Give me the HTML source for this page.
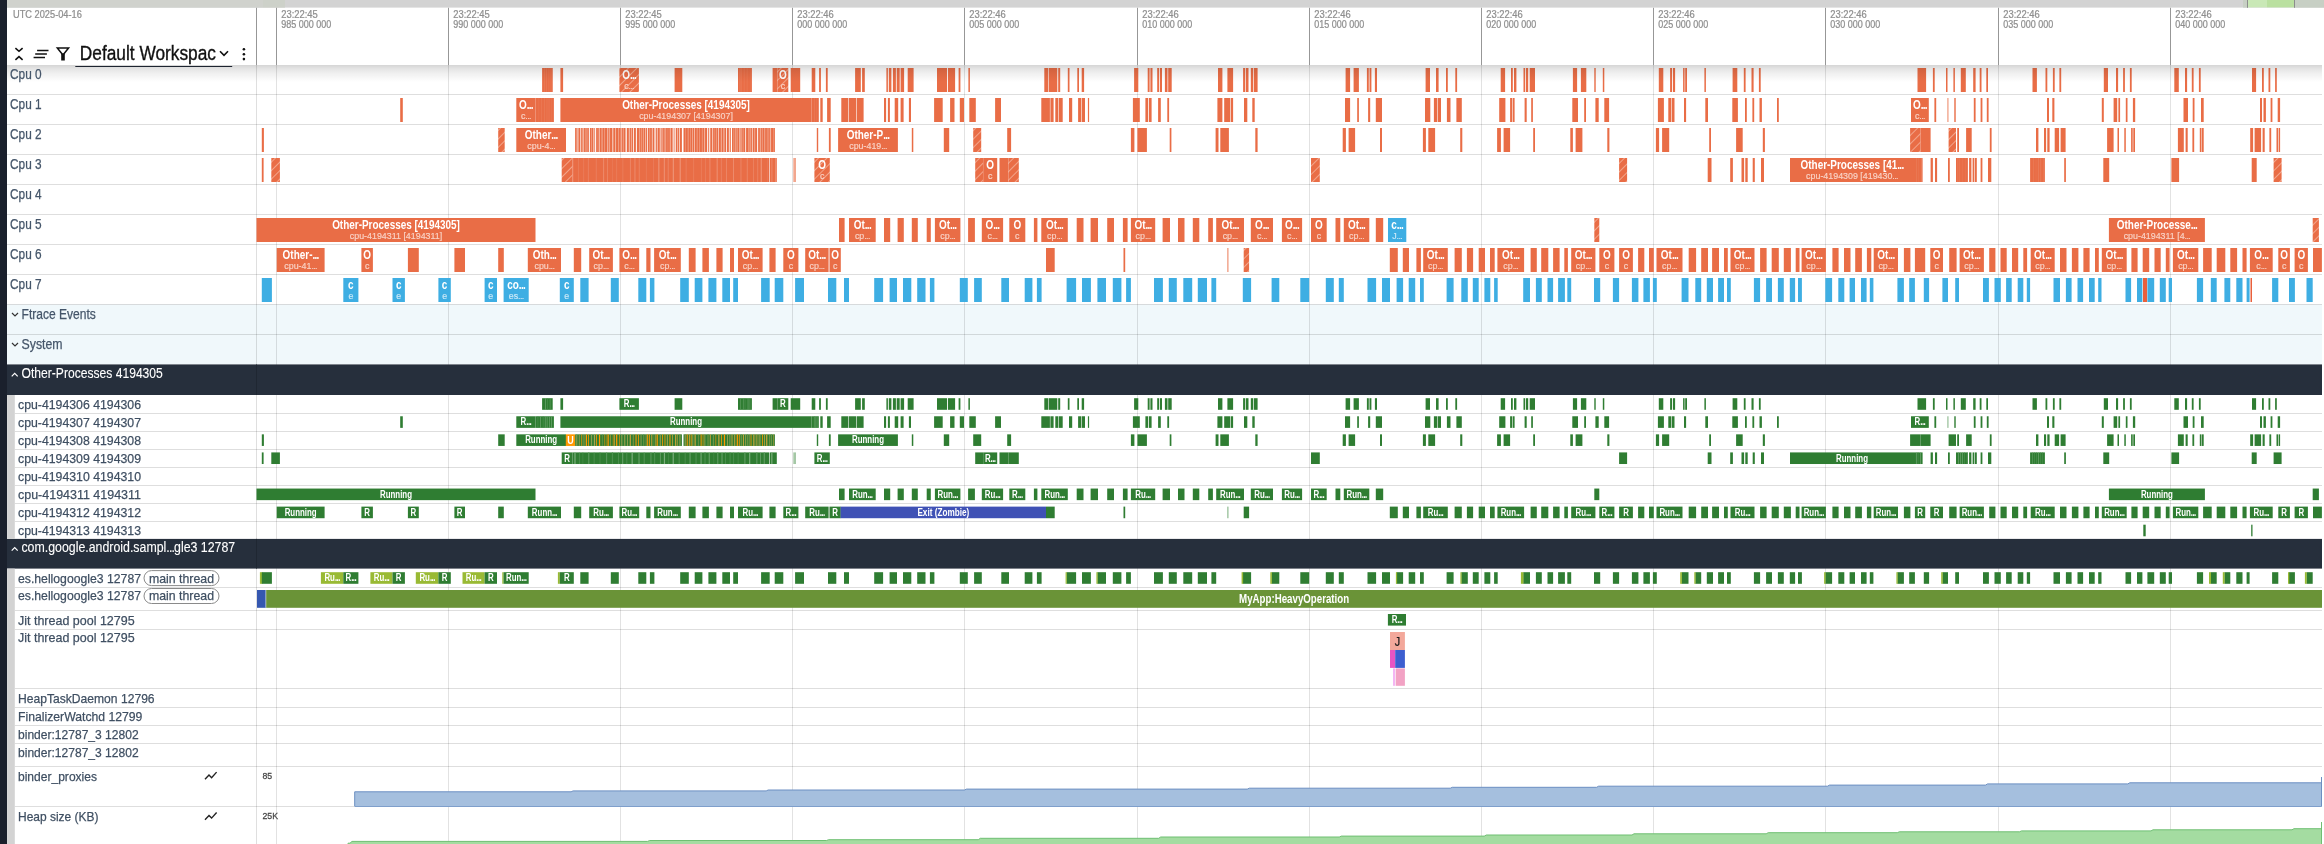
<!DOCTYPE html>
<html><head><meta charset="utf-8"><title>Perfetto UI</title>
<style>html,body{margin:0;padding:0;background:#fff;overflow:hidden;font-family:"Liberation Sans",sans-serif}svg{display:block;will-change:transform;transform:translateZ(0)}text{font-family:"Liberation Sans",sans-serif;white-space:pre}</style></head>
<body><svg width="2324" height="844" viewBox="0 0 2324 844" font-family="Liberation Sans, sans-serif"><defs>
<pattern id="hatch" width="6" height="6" patternUnits="userSpaceOnUse" patternTransform="rotate(-45)"><rect width="6" height="6" fill="#e96d46"/><rect y="0" width="6" height="1" fill="#f3a58b"/></pattern>
<linearGradient id="shadow" x1="0" y1="0" x2="0" y2="1"><stop offset="0" stop-color="#000" stop-opacity="0.165"/><stop offset="0.25" stop-color="#000" stop-opacity="0.10"/><stop offset="0.5" stop-color="#000" stop-opacity="0.06"/><stop offset="0.75" stop-color="#000" stop-opacity="0.03"/><stop offset="1" stop-color="#000" stop-opacity="0"/></linearGradient>
</defs><rect x="0.00" y="0.00" width="2324.00" height="844.00" fill="#ffffff"/>
<rect x="7.00" y="304.50" width="2315.00" height="60.00" fill="#f0f8fb"/>
<line x1="276.50" y1="64.50" x2="276.50" y2="844.00" stroke="#000" stroke-opacity="0.115" stroke-width="1"/>
<line x1="448.50" y1="64.50" x2="448.50" y2="844.00" stroke="#000" stroke-opacity="0.115" stroke-width="1"/>
<line x1="620.50" y1="64.50" x2="620.50" y2="844.00" stroke="#000" stroke-opacity="0.115" stroke-width="1"/>
<line x1="792.50" y1="64.50" x2="792.50" y2="844.00" stroke="#000" stroke-opacity="0.115" stroke-width="1"/>
<line x1="964.50" y1="64.50" x2="964.50" y2="844.00" stroke="#000" stroke-opacity="0.115" stroke-width="1"/>
<line x1="1137.50" y1="64.50" x2="1137.50" y2="844.00" stroke="#000" stroke-opacity="0.115" stroke-width="1"/>
<line x1="1309.50" y1="64.50" x2="1309.50" y2="844.00" stroke="#000" stroke-opacity="0.115" stroke-width="1"/>
<line x1="1481.50" y1="64.50" x2="1481.50" y2="844.00" stroke="#000" stroke-opacity="0.115" stroke-width="1"/>
<line x1="1653.50" y1="64.50" x2="1653.50" y2="844.00" stroke="#000" stroke-opacity="0.115" stroke-width="1"/>
<line x1="1825.50" y1="64.50" x2="1825.50" y2="844.00" stroke="#000" stroke-opacity="0.115" stroke-width="1"/>
<line x1="1998.50" y1="64.50" x2="1998.50" y2="844.00" stroke="#000" stroke-opacity="0.115" stroke-width="1"/>
<line x1="2170.50" y1="64.50" x2="2170.50" y2="844.00" stroke="#000" stroke-opacity="0.115" stroke-width="1"/>
<line x1="256.50" y1="64.50" x2="256.50" y2="844.00" stroke="#000" stroke-opacity="0.125" stroke-width="1"/>
<line x1="7.00" y1="94.50" x2="2322.00" y2="94.50" stroke="#000" stroke-opacity="0.13" stroke-width="1"/>
<line x1="7.00" y1="124.50" x2="2322.00" y2="124.50" stroke="#000" stroke-opacity="0.13" stroke-width="1"/>
<line x1="7.00" y1="154.50" x2="2322.00" y2="154.50" stroke="#000" stroke-opacity="0.13" stroke-width="1"/>
<line x1="7.00" y1="184.50" x2="2322.00" y2="184.50" stroke="#000" stroke-opacity="0.13" stroke-width="1"/>
<line x1="7.00" y1="214.50" x2="2322.00" y2="214.50" stroke="#000" stroke-opacity="0.13" stroke-width="1"/>
<line x1="7.00" y1="244.50" x2="2322.00" y2="244.50" stroke="#000" stroke-opacity="0.13" stroke-width="1"/>
<line x1="7.00" y1="274.50" x2="2322.00" y2="274.50" stroke="#000" stroke-opacity="0.13" stroke-width="1"/>
<line x1="7.00" y1="304.50" x2="2322.00" y2="304.50" stroke="#000" stroke-opacity="0.13" stroke-width="1"/>
<line x1="7.00" y1="334.50" x2="2322.00" y2="334.50" stroke="#000" stroke-opacity="0.13" stroke-width="1"/>
<line x1="7.00" y1="364.50" x2="2322.00" y2="364.50" stroke="#000" stroke-opacity="0.13" stroke-width="1"/>
<line x1="14.80" y1="413.50" x2="2322.00" y2="413.50" stroke="#000" stroke-opacity="0.13" stroke-width="1"/>
<line x1="14.80" y1="431.50" x2="2322.00" y2="431.50" stroke="#000" stroke-opacity="0.13" stroke-width="1"/>
<line x1="14.80" y1="449.50" x2="2322.00" y2="449.50" stroke="#000" stroke-opacity="0.13" stroke-width="1"/>
<line x1="14.80" y1="467.50" x2="2322.00" y2="467.50" stroke="#000" stroke-opacity="0.13" stroke-width="1"/>
<line x1="14.80" y1="485.50" x2="2322.00" y2="485.50" stroke="#000" stroke-opacity="0.13" stroke-width="1"/>
<line x1="14.80" y1="503.50" x2="2322.00" y2="503.50" stroke="#000" stroke-opacity="0.13" stroke-width="1"/>
<line x1="14.80" y1="521.50" x2="2322.00" y2="521.50" stroke="#000" stroke-opacity="0.13" stroke-width="1"/>
<line x1="14.80" y1="587.50" x2="2322.00" y2="587.50" stroke="#000" stroke-opacity="0.13" stroke-width="1"/>
<line x1="14.80" y1="610.50" x2="2322.00" y2="610.50" stroke="#000" stroke-opacity="0.13" stroke-width="1"/>
<line x1="14.80" y1="629.50" x2="2322.00" y2="629.50" stroke="#000" stroke-opacity="0.13" stroke-width="1"/>
<line x1="14.80" y1="688.50" x2="2322.00" y2="688.50" stroke="#000" stroke-opacity="0.13" stroke-width="1"/>
<line x1="14.80" y1="707.50" x2="2322.00" y2="707.50" stroke="#000" stroke-opacity="0.13" stroke-width="1"/>
<line x1="14.80" y1="725.50" x2="2322.00" y2="725.50" stroke="#000" stroke-opacity="0.13" stroke-width="1"/>
<line x1="14.80" y1="743.50" x2="2322.00" y2="743.50" stroke="#000" stroke-opacity="0.13" stroke-width="1"/>
<line x1="14.80" y1="766.50" x2="2322.00" y2="766.50" stroke="#000" stroke-opacity="0.13" stroke-width="1"/>
<line x1="14.80" y1="806.50" x2="2322.00" y2="806.50" stroke="#000" stroke-opacity="0.13" stroke-width="1"/>
<rect x="7.00" y="364.50" width="2315.00" height="30.50" fill="#262f3c"/>
<rect x="7.00" y="538.90" width="2315.00" height="29.70" fill="#262f3c"/>
<line x1="256.50" y1="364.50" x2="256.50" y2="395.00" stroke="#1f2732" stroke-width="1"/>
<line x1="256.50" y1="538.90" x2="256.50" y2="568.60" stroke="#1f2732" stroke-width="1"/>
<rect x="7.10" y="395.00" width="7.70" height="143.90" fill="#d3d3d3"/>
<rect x="7.10" y="568.60" width="7.70" height="275.40" fill="#d3d3d3"/>
<rect x="542.10" y="68.00" width="10.60" height="24.00" fill="#e96d46"/>
<rect x="544.09" y="68.00" width="0.70" height="24.00" fill="#eb7b58"/>
<rect x="546.32" y="68.00" width="0.70" height="24.00" fill="#eb7b58"/>
<rect x="548.03" y="68.00" width="0.70" height="24.00" fill="#ea7551"/>
<rect x="549.78" y="68.00" width="0.70" height="24.00" fill="#ea7551"/>
<rect x="551.48" y="68.00" width="0.70" height="24.00" fill="#ea7551"/>
<rect x="560.40" y="68.00" width="2.70" height="24.00" fill="#e96d46"/>
<rect x="619.40" y="68.00" width="19.50" height="24.00" fill="url(#hatch)"/>
<text transform="translate(629.15,78.95) scale(0.83,1)" font-size="12" fill="#fff" text-anchor="middle" font-weight="700">O<tspan letter-spacing="-0.07em">...</tspan></text>
<text transform="translate(629.15,88.80) scale(0.955,1)" font-size="9.3" fill="#f9d3c7" text-anchor="middle" font-weight="400" stroke="#f9d3c7" stroke-width="0.15">c<tspan letter-spacing="-0.07em">...</tspan></text>
<rect x="674.60" y="68.00" width="7.70" height="24.00" fill="#e96d46"/>
<rect x="738.00" y="68.00" width="13.90" height="24.00" fill="#e96d46"/>
<rect x="739.63" y="68.00" width="0.70" height="24.00" fill="#ec8261"/>
<rect x="741.34" y="68.00" width="0.70" height="24.00" fill="#eb7b58"/>
<rect x="743.82" y="68.00" width="0.70" height="24.00" fill="#eb7b58"/>
<rect x="746.75" y="68.00" width="0.70" height="24.00" fill="#eb7b58"/>
<rect x="749.86" y="68.00" width="0.70" height="24.00" fill="#ea7551"/>
<rect x="772.60" y="68.00" width="4.80" height="24.00" fill="#e96d46"/>
<rect x="777.40" y="68.00" width="10.90" height="24.00" fill="url(#hatch)"/>
<text transform="translate(782.85,78.95) scale(0.83,1)" font-size="12" fill="#fff" text-anchor="middle" font-weight="700">O</text>
<text transform="translate(782.85,88.80) scale(0.955,1)" font-size="9.3" fill="#f9d3c7" text-anchor="middle" font-weight="400" stroke="#f9d3c7" stroke-width="0.15">c</text>
<rect x="790.70" y="68.00" width="9.50" height="24.00" fill="#e96d46"/>
<rect x="811.70" y="68.00" width="3.60" height="24.00" fill="#e96d46"/>
<rect x="819.10" y="68.00" width="1.80" height="24.00" fill="#e96d46"/>
<rect x="825.90" y="68.00" width="1.80" height="24.00" fill="#e96d46"/>
<rect x="855.10" y="68.00" width="5.70" height="24.00" fill="#e96d46"/>
<rect x="862.10" y="68.00" width="2.70" height="24.00" fill="#e96d46"/>
<rect x="886.40" y="68.00" width="1.50" height="24.00" fill="#e96d46"/>
<rect x="888.80" y="68.00" width="2.60" height="24.00" fill="#e96d46"/>
<rect x="892.90" y="68.00" width="3.00" height="24.00" fill="#e96d46"/>
<rect x="896.70" y="68.00" width="3.00" height="24.00" fill="#e96d46"/>
<rect x="900.60" y="68.00" width="3.50" height="24.00" fill="#e96d46"/>
<rect x="907.70" y="68.00" width="5.90" height="24.00" fill="#e96d46"/>
<rect x="937.00" y="68.00" width="10.10" height="24.00" fill="#e96d46"/>
<rect x="948.00" y="68.00" width="7.10" height="24.00" fill="#e96d46"/>
<rect x="958.60" y="68.00" width="1.80" height="24.00" fill="#e96d46"/>
<rect x="968.40" y="68.00" width="1.50" height="24.00" fill="#e96d46"/>
<rect x="1044.30" y="68.00" width="4.10" height="24.00" fill="#e96d46"/>
<rect x="1049.00" y="68.00" width="8.30" height="24.00" fill="#e96d46"/>
<rect x="1058.20" y="68.00" width="2.00" height="24.00" fill="#e96d46"/>
<rect x="1067.80" y="68.00" width="1.70" height="24.00" fill="#e96d46"/>
<rect x="1077.30" y="68.00" width="1.70" height="24.00" fill="#e96d46"/>
<rect x="1081.70" y="68.00" width="2.40" height="24.00" fill="#e96d46"/>
<rect x="1134.10" y="68.00" width="4.20" height="24.00" fill="#e96d46"/>
<rect x="1147.70" y="68.00" width="1.90" height="24.00" fill="#e96d46"/>
<rect x="1150.40" y="68.00" width="2.10" height="24.00" fill="#e96d46"/>
<rect x="1157.20" y="68.00" width="1.80" height="24.00" fill="#e96d46"/>
<rect x="1159.80" y="68.00" width="2.20" height="24.00" fill="#e96d46"/>
<rect x="1164.90" y="68.00" width="2.60" height="24.00" fill="#e96d46"/>
<rect x="1168.20" y="68.00" width="3.50" height="24.00" fill="#e96d46"/>
<rect x="1218.00" y="68.00" width="4.40" height="24.00" fill="#e96d46"/>
<rect x="1227.40" y="68.00" width="5.70" height="24.00" fill="#e96d46"/>
<rect x="1243.10" y="68.00" width="2.10" height="24.00" fill="#e96d46"/>
<rect x="1245.90" y="68.00" width="2.60" height="24.00" fill="#e96d46"/>
<rect x="1250.80" y="68.00" width="2.40" height="24.00" fill="#e96d46"/>
<rect x="1253.90" y="68.00" width="3.70" height="24.00" fill="#e96d46"/>
<rect x="1345.60" y="68.00" width="4.50" height="24.00" fill="#e96d46"/>
<rect x="1353.60" y="68.00" width="5.30" height="24.00" fill="#e96d46"/>
<rect x="1366.90" y="68.00" width="1.90" height="24.00" fill="#e96d46"/>
<rect x="1369.50" y="68.00" width="1.90" height="24.00" fill="#e96d46"/>
<rect x="1374.90" y="68.00" width="2.10" height="24.00" fill="#e96d46"/>
<rect x="1425.60" y="68.00" width="4.40" height="24.00" fill="#e96d46"/>
<rect x="1436.00" y="68.00" width="2.60" height="24.00" fill="#e96d46"/>
<rect x="1446.00" y="68.00" width="1.80" height="24.00" fill="#e96d46"/>
<rect x="1455.30" y="68.00" width="1.80" height="24.00" fill="#e96d46"/>
<rect x="1500.70" y="68.00" width="4.40" height="24.00" fill="#e96d46"/>
<rect x="1511.00" y="68.00" width="1.80" height="24.00" fill="#e96d46"/>
<rect x="1514.00" y="68.00" width="2.40" height="24.00" fill="#e96d46"/>
<rect x="1523.50" y="68.00" width="1.50" height="24.00" fill="#e96d46"/>
<rect x="1525.80" y="68.00" width="2.40" height="24.00" fill="#e96d46"/>
<rect x="1529.70" y="68.00" width="5.30" height="24.00" fill="#e96d46"/>
<rect x="1572.90" y="68.00" width="4.20" height="24.00" fill="#e96d46"/>
<rect x="1580.90" y="68.00" width="5.40" height="24.00" fill="#e96d46"/>
<rect x="1594.30" y="68.00" width="1.40" height="24.00" fill="#e96d46"/>
<rect x="1602.80" y="68.00" width="1.50" height="24.00" fill="#e96d46"/>
<rect x="1658.80" y="68.00" width="4.50" height="24.00" fill="#e96d46"/>
<rect x="1670.10" y="68.00" width="1.90" height="24.00" fill="#e96d46"/>
<rect x="1672.90" y="68.00" width="2.20" height="24.00" fill="#e96d46"/>
<rect x="1683.10" y="68.00" width="1.50" height="24.00" fill="#e96d46"/>
<rect x="1685.20" y="68.00" width="1.80" height="24.00" fill="#e96d46"/>
<rect x="1704.40" y="68.00" width="1.50" height="24.00" fill="#e96d46"/>
<rect x="1732.60" y="68.00" width="4.70" height="24.00" fill="#e96d46"/>
<rect x="1743.80" y="68.00" width="1.80" height="24.00" fill="#e96d46"/>
<rect x="1751.50" y="68.00" width="2.10" height="24.00" fill="#e96d46"/>
<rect x="1758.90" y="68.00" width="1.80" height="24.00" fill="#e96d46"/>
<rect x="1917.50" y="68.00" width="8.60" height="24.00" fill="#e96d46"/>
<rect x="1932.90" y="68.00" width="1.80" height="24.00" fill="#e96d46"/>
<rect x="1946.00" y="68.00" width="1.50" height="24.00" fill="#e96d46"/>
<rect x="1953.40" y="68.00" width="1.50" height="24.00" fill="#e96d46"/>
<rect x="1960.80" y="68.00" width="5.00" height="24.00" fill="#e96d46"/>
<rect x="1973.20" y="68.00" width="2.40" height="24.00" fill="#e96d46"/>
<rect x="1979.70" y="68.00" width="1.80" height="24.00" fill="#e96d46"/>
<rect x="1986.30" y="68.00" width="1.70" height="24.00" fill="#e96d46"/>
<rect x="2032.50" y="68.00" width="4.40" height="24.00" fill="#e96d46"/>
<rect x="2045.50" y="68.00" width="1.80" height="24.00" fill="#e96d46"/>
<rect x="2052.90" y="68.00" width="1.80" height="24.00" fill="#e96d46"/>
<rect x="2059.40" y="68.00" width="1.80" height="24.00" fill="#e96d46"/>
<rect x="2103.80" y="68.00" width="4.20" height="24.00" fill="#e96d46"/>
<rect x="2116.00" y="68.00" width="2.10" height="24.00" fill="#e96d46"/>
<rect x="2123.10" y="68.00" width="1.80" height="24.00" fill="#e96d46"/>
<rect x="2129.90" y="68.00" width="1.80" height="24.00" fill="#e96d46"/>
<rect x="2174.30" y="68.00" width="4.50" height="24.00" fill="#e96d46"/>
<rect x="2185.00" y="68.00" width="2.10" height="24.00" fill="#e96d46"/>
<rect x="2191.80" y="68.00" width="1.80" height="24.00" fill="#e96d46"/>
<rect x="2198.90" y="68.00" width="1.80" height="24.00" fill="#e96d46"/>
<rect x="2252.00" y="68.00" width="4.10" height="24.00" fill="#e96d46"/>
<rect x="2262.00" y="68.00" width="1.80" height="24.00" fill="#e96d46"/>
<rect x="2268.50" y="68.00" width="1.80" height="24.00" fill="#e96d46"/>
<rect x="2275.10" y="68.00" width="1.70" height="24.00" fill="#e96d46"/>
<rect x="400.20" y="98.00" width="2.60" height="24.00" fill="#e96d46"/>
<rect x="516.30" y="98.00" width="19.20" height="24.00" fill="#e96d46"/>
<text transform="translate(525.90,108.95) scale(0.83,1)" font-size="12" fill="#fff" text-anchor="middle" font-weight="700">O<tspan letter-spacing="-0.07em">...</tspan></text>
<text transform="translate(525.90,118.80) scale(0.955,1)" font-size="9.3" fill="#f9d3c7" text-anchor="middle" font-weight="400" stroke="#f9d3c7" stroke-width="0.15">c<tspan letter-spacing="-0.07em">...</tspan></text>
<rect x="535.50" y="98.00" width="18.40" height="24.00" fill="#e96d46"/>
<rect x="538.42" y="98.00" width="0.70" height="24.00" fill="#ea7551"/>
<rect x="540.96" y="98.00" width="0.70" height="24.00" fill="#eb7b58"/>
<rect x="544.12" y="98.00" width="0.70" height="24.00" fill="#eb7b58"/>
<rect x="546.61" y="98.00" width="0.70" height="24.00" fill="#eb7b58"/>
<rect x="548.67" y="98.00" width="0.70" height="24.00" fill="#eb7b58"/>
<rect x="551.14" y="98.00" width="0.70" height="24.00" fill="#ea7551"/>
<rect x="560.40" y="98.00" width="251.20" height="24.00" fill="#e96d46"/>
<text transform="translate(686.00,108.95) scale(0.83,1)" font-size="12" fill="#fff" text-anchor="middle" font-weight="700">Other-Processes [4194305]</text>
<text transform="translate(686.00,118.80) scale(0.955,1)" font-size="9.3" fill="#f9d3c7" text-anchor="middle" font-weight="400" stroke="#f9d3c7" stroke-width="0.15">cpu-4194307 [4194307]</text>
<rect x="811.60" y="98.00" width="7.20" height="24.00" fill="#e96d46"/>
<rect x="814.32" y="98.00" width="0.70" height="24.00" fill="#eb7b58"/>
<rect x="816.09" y="98.00" width="0.70" height="24.00" fill="#ea7551"/>
<rect x="820.30" y="98.00" width="2.40" height="24.00" fill="#e96d46"/>
<rect x="827.10" y="98.00" width="3.60" height="24.00" fill="#e96d46"/>
<rect x="841.30" y="98.00" width="6.70" height="24.00" fill="#e96d46"/>
<rect x="848.60" y="98.00" width="7.40" height="24.00" fill="#e96d46"/>
<rect x="856.60" y="98.00" width="7.00" height="24.00" fill="#e96d46"/>
<rect x="884.00" y="98.00" width="2.10" height="24.00" fill="#e96d46"/>
<rect x="887.90" y="98.00" width="2.00" height="24.00" fill="#e96d46"/>
<rect x="894.70" y="98.00" width="3.50" height="24.00" fill="#e96d46"/>
<rect x="900.60" y="98.00" width="3.00" height="24.00" fill="#e96d46"/>
<rect x="908.90" y="98.00" width="2.10" height="24.00" fill="#e96d46"/>
<rect x="934.10" y="98.00" width="8.60" height="24.00" fill="#e96d46"/>
<rect x="950.10" y="98.00" width="4.40" height="24.00" fill="#e96d46"/>
<rect x="959.80" y="98.00" width="4.20" height="24.00" fill="#e96d46"/>
<rect x="969.30" y="98.00" width="6.50" height="24.00" fill="#e96d46"/>
<rect x="995.10" y="98.00" width="5.90" height="24.00" fill="#e96d46"/>
<rect x="1041.30" y="98.00" width="8.60" height="24.00" fill="#e96d46"/>
<rect x="1050.40" y="98.00" width="3.20" height="24.00" fill="#e96d46"/>
<rect x="1055.30" y="98.00" width="2.70" height="24.00" fill="#e96d46"/>
<rect x="1058.60" y="98.00" width="4.10" height="24.00" fill="#e96d46"/>
<rect x="1069.00" y="98.00" width="3.20" height="24.00" fill="#e96d46"/>
<rect x="1078.10" y="98.00" width="2.90" height="24.00" fill="#e96d46"/>
<rect x="1081.60" y="98.00" width="3.40" height="24.00" fill="#e96d46"/>
<rect x="1087.90" y="98.00" width="1.20" height="24.00" fill="#e96d46"/>
<rect x="1132.90" y="98.00" width="6.90" height="24.00" fill="#e96d46"/>
<rect x="1145.40" y="98.00" width="2.60" height="24.00" fill="#e96d46"/>
<rect x="1148.80" y="98.00" width="2.80" height="24.00" fill="#e96d46"/>
<rect x="1158.10" y="98.00" width="2.70" height="24.00" fill="#e96d46"/>
<rect x="1167.30" y="98.00" width="1.80" height="24.00" fill="#e96d46"/>
<rect x="1217.40" y="98.00" width="5.00" height="24.00" fill="#e96d46"/>
<rect x="1224.20" y="98.00" width="5.90" height="24.00" fill="#e96d46"/>
<rect x="1230.70" y="98.00" width="2.40" height="24.00" fill="#e96d46"/>
<rect x="1244.00" y="98.00" width="3.30" height="24.00" fill="#e96d46"/>
<rect x="1252.30" y="98.00" width="2.40" height="24.00" fill="#e96d46"/>
<rect x="1345.00" y="98.00" width="5.10" height="24.00" fill="#e96d46"/>
<rect x="1357.20" y="98.00" width="1.70" height="24.00" fill="#e96d46"/>
<rect x="1368.10" y="98.00" width="2.10" height="24.00" fill="#e96d46"/>
<rect x="1375.80" y="98.00" width="6.20" height="24.00" fill="#e96d46"/>
<rect x="1425.00" y="98.00" width="5.30" height="24.00" fill="#e96d46"/>
<rect x="1433.90" y="98.00" width="3.10" height="24.00" fill="#e96d46"/>
<rect x="1437.60" y="98.00" width="3.40" height="24.00" fill="#e96d46"/>
<rect x="1446.90" y="98.00" width="3.60" height="24.00" fill="#e96d46"/>
<rect x="1456.40" y="98.00" width="5.40" height="24.00" fill="#e96d46"/>
<rect x="1499.20" y="98.00" width="6.20" height="24.00" fill="#e96d46"/>
<rect x="1510.10" y="98.00" width="1.90" height="24.00" fill="#e96d46"/>
<rect x="1512.60" y="98.00" width="2.00" height="24.00" fill="#e96d46"/>
<rect x="1524.60" y="98.00" width="2.10" height="24.00" fill="#e96d46"/>
<rect x="1531.20" y="98.00" width="1.70" height="24.00" fill="#e96d46"/>
<rect x="1572.30" y="98.00" width="5.70" height="24.00" fill="#e96d46"/>
<rect x="1584.20" y="98.00" width="1.80" height="24.00" fill="#e96d46"/>
<rect x="1595.40" y="98.00" width="3.30" height="24.00" fill="#e96d46"/>
<rect x="1604.30" y="98.00" width="4.80" height="24.00" fill="#e96d46"/>
<rect x="1657.90" y="98.00" width="6.00" height="24.00" fill="#e96d46"/>
<rect x="1668.30" y="98.00" width="2.70" height="24.00" fill="#e96d46"/>
<rect x="1671.60" y="98.00" width="2.90" height="24.00" fill="#e96d46"/>
<rect x="1684.00" y="98.00" width="2.10" height="24.00" fill="#e96d46"/>
<rect x="1705.30" y="98.00" width="2.70" height="24.00" fill="#e96d46"/>
<rect x="1732.30" y="98.00" width="5.60" height="24.00" fill="#e96d46"/>
<rect x="1745.00" y="98.00" width="1.80" height="24.00" fill="#e96d46"/>
<rect x="1752.40" y="98.00" width="1.80" height="24.00" fill="#e96d46"/>
<rect x="1759.50" y="98.00" width="2.40" height="24.00" fill="#e96d46"/>
<rect x="1777.00" y="98.00" width="1.80" height="24.00" fill="#e96d46"/>
<rect x="1911.00" y="98.00" width="17.80" height="24.00" fill="#e96d46"/>
<text transform="translate(1919.90,108.95) scale(0.83,1)" font-size="12" fill="#fff" text-anchor="middle" font-weight="700">O<tspan letter-spacing="-0.07em">...</tspan></text>
<text transform="translate(1919.90,118.80) scale(0.955,1)" font-size="9.3" fill="#f9d3c7" text-anchor="middle" font-weight="400" stroke="#f9d3c7" stroke-width="0.15">c<tspan letter-spacing="-0.07em">...</tspan></text>
<rect x="1934.40" y="98.00" width="1.80" height="24.00" fill="#e96d46"/>
<rect x="1947.20" y="98.00" width="1.40" height="24.00" fill="#f2a78f"/>
<rect x="1954.30" y="98.00" width="1.40" height="24.00" fill="#e96d46"/>
<rect x="1973.80" y="98.00" width="1.80" height="24.00" fill="#e96d46"/>
<rect x="1980.60" y="98.00" width="1.80" height="24.00" fill="#e96d46"/>
<rect x="1986.80" y="98.00" width="1.80" height="24.00" fill="#e96d46"/>
<rect x="2047.00" y="98.00" width="2.00" height="24.00" fill="#e96d46"/>
<rect x="2052.30" y="98.00" width="2.10" height="24.00" fill="#e96d46"/>
<rect x="2101.80" y="98.00" width="2.00" height="24.00" fill="#e96d46"/>
<rect x="2113.60" y="98.00" width="3.60" height="24.00" fill="#e96d46"/>
<rect x="2118.40" y="98.00" width="1.70" height="24.00" fill="#e96d46"/>
<rect x="2125.80" y="98.00" width="1.70" height="24.00" fill="#e96d46"/>
<rect x="2132.90" y="98.00" width="2.30" height="24.00" fill="#e96d46"/>
<rect x="2183.50" y="98.00" width="4.50" height="24.00" fill="#e96d46"/>
<rect x="2192.70" y="98.00" width="1.80" height="24.00" fill="#e96d46"/>
<rect x="2201.00" y="98.00" width="2.70" height="24.00" fill="#e96d46"/>
<rect x="2260.00" y="98.00" width="2.00" height="24.00" fill="#e96d46"/>
<rect x="2263.50" y="98.00" width="2.40" height="24.00" fill="#e96d46"/>
<rect x="2270.60" y="98.00" width="1.80" height="24.00" fill="#e96d46"/>
<rect x="2277.70" y="98.00" width="2.40" height="24.00" fill="#e96d46"/>
<rect x="261.80" y="128.00" width="2.10" height="24.00" fill="#e96d46"/>
<rect x="498.20" y="128.00" width="6.50" height="24.00" fill="url(#hatch)"/>
<rect x="516.30" y="128.00" width="49.70" height="24.00" fill="#e96d46"/>
<text transform="translate(541.15,138.95) scale(0.83,1)" font-size="12" fill="#fff" text-anchor="middle" font-weight="700">Other<tspan letter-spacing="-0.07em">...</tspan></text>
<text transform="translate(541.15,148.80) scale(0.955,1)" font-size="9.3" fill="#f9d3c7" text-anchor="middle" font-weight="400" stroke="#f9d3c7" stroke-width="0.15">cpu-4<tspan letter-spacing="-0.07em">...</tspan></text>
<rect x="575.10" y="128.00" width="106.80" height="24.00" fill="#e96d46"/>
<rect x="576.16" y="128.00" width="0.60" height="24.00" fill="#f2a78f"/>
<rect x="577.54" y="128.00" width="0.80" height="24.00" fill="#ffffff"/>
<rect x="579.99" y="128.00" width="1.20" height="24.00" fill="#f7c9b9"/>
<rect x="582.55" y="128.00" width="1.20" height="24.00" fill="#f7c9b9"/>
<rect x="584.87" y="128.00" width="0.80" height="24.00" fill="#f09f85"/>
<rect x="586.48" y="128.00" width="1.00" height="24.00" fill="#f2a78f"/>
<rect x="588.87" y="128.00" width="1.00" height="24.00" fill="#ffffff"/>
<rect x="590.98" y="128.00" width="0.60" height="24.00" fill="#f4b5a0"/>
<rect x="592.99" y="128.00" width="0.80" height="24.00" fill="#f7c9b9"/>
<rect x="594.71" y="128.00" width="1.20" height="24.00" fill="#ffffff"/>
<rect x="596.66" y="128.00" width="0.60" height="24.00" fill="#f2a78f"/>
<rect x="598.76" y="128.00" width="1.00" height="24.00" fill="#f7c9b9"/>
<rect x="601.44" y="128.00" width="1.20" height="24.00" fill="#f2a78f"/>
<rect x="604.45" y="128.00" width="0.60" height="24.00" fill="#f4b5a0"/>
<rect x="607.08" y="128.00" width="1.20" height="24.00" fill="#f4b5a0"/>
<rect x="609.06" y="128.00" width="1.00" height="24.00" fill="#f2a78f"/>
<rect x="612.15" y="128.00" width="1.20" height="24.00" fill="#f7c9b9"/>
<rect x="615.05" y="128.00" width="1.00" height="24.00" fill="#f4b5a0"/>
<rect x="618.07" y="128.00" width="1.00" height="24.00" fill="#f09f85"/>
<rect x="620.63" y="128.00" width="1.20" height="24.00" fill="#f4b5a0"/>
<rect x="622.83" y="128.00" width="1.00" height="24.00" fill="#f09f85"/>
<rect x="625.57" y="128.00" width="1.20" height="24.00" fill="#ffffff"/>
<rect x="628.75" y="128.00" width="1.20" height="24.00" fill="#f4b5a0"/>
<rect x="630.88" y="128.00" width="1.20" height="24.00" fill="#f2a78f"/>
<rect x="633.17" y="128.00" width="0.80" height="24.00" fill="#ffffff"/>
<rect x="635.88" y="128.00" width="1.00" height="24.00" fill="#ffffff"/>
<rect x="638.96" y="128.00" width="1.20" height="24.00" fill="#f09f85"/>
<rect x="641.07" y="128.00" width="0.80" height="24.00" fill="#f09f85"/>
<rect x="642.90" y="128.00" width="0.80" height="24.00" fill="#f4b5a0"/>
<rect x="645.08" y="128.00" width="0.80" height="24.00" fill="#f7c9b9"/>
<rect x="646.97" y="128.00" width="0.80" height="24.00" fill="#ffffff"/>
<rect x="649.22" y="128.00" width="1.00" height="24.00" fill="#f09f85"/>
<rect x="651.89" y="128.00" width="0.60" height="24.00" fill="#ffffff"/>
<rect x="654.45" y="128.00" width="1.20" height="24.00" fill="#ffffff"/>
<rect x="656.90" y="128.00" width="0.60" height="24.00" fill="#ffffff"/>
<rect x="659.09" y="128.00" width="0.60" height="24.00" fill="#f09f85"/>
<rect x="660.49" y="128.00" width="0.80" height="24.00" fill="#ffffff"/>
<rect x="662.21" y="128.00" width="1.00" height="24.00" fill="#f2a78f"/>
<rect x="663.99" y="128.00" width="0.60" height="24.00" fill="#f2a78f"/>
<rect x="665.50" y="128.00" width="0.60" height="24.00" fill="#f7c9b9"/>
<rect x="667.66" y="128.00" width="0.60" height="24.00" fill="#f09f85"/>
<rect x="669.82" y="128.00" width="0.80" height="24.00" fill="#f7c9b9"/>
<rect x="672.66" y="128.00" width="1.00" height="24.00" fill="#ffffff"/>
<rect x="674.53" y="128.00" width="1.20" height="24.00" fill="#ffffff"/>
<rect x="677.10" y="128.00" width="1.00" height="24.00" fill="#f4b5a0"/>
<rect x="679.00" y="128.00" width="1.00" height="24.00" fill="#f7c9b9"/>
<rect x="683.50" y="128.00" width="91.40" height="24.00" fill="#e96d46"/>
<rect x="685.04" y="128.00" width="0.60" height="24.00" fill="#f09f85"/>
<rect x="687.67" y="128.00" width="1.00" height="24.00" fill="#f09f85"/>
<rect x="690.34" y="128.00" width="0.60" height="24.00" fill="#f2a78f"/>
<rect x="692.05" y="128.00" width="0.60" height="24.00" fill="#f7c9b9"/>
<rect x="694.08" y="128.00" width="0.80" height="24.00" fill="#f7c9b9"/>
<rect x="696.66" y="128.00" width="1.00" height="24.00" fill="#f09f85"/>
<rect x="699.22" y="128.00" width="0.80" height="24.00" fill="#f09f85"/>
<rect x="701.86" y="128.00" width="0.80" height="24.00" fill="#f09f85"/>
<rect x="704.09" y="128.00" width="1.00" height="24.00" fill="#f4b5a0"/>
<rect x="707.17" y="128.00" width="1.00" height="24.00" fill="#ffffff"/>
<rect x="709.24" y="128.00" width="1.00" height="24.00" fill="#ffffff"/>
<rect x="712.07" y="128.00" width="1.00" height="24.00" fill="#f7c9b9"/>
<rect x="713.88" y="128.00" width="0.60" height="24.00" fill="#f09f85"/>
<rect x="715.84" y="128.00" width="1.00" height="24.00" fill="#f09f85"/>
<rect x="718.22" y="128.00" width="0.60" height="24.00" fill="#ffffff"/>
<rect x="720.79" y="128.00" width="1.00" height="24.00" fill="#f4b5a0"/>
<rect x="723.66" y="128.00" width="0.60" height="24.00" fill="#ffffff"/>
<rect x="726.05" y="128.00" width="0.80" height="24.00" fill="#ffffff"/>
<rect x="728.80" y="128.00" width="1.20" height="24.00" fill="#f7c9b9"/>
<rect x="730.82" y="128.00" width="1.20" height="24.00" fill="#ffffff"/>
<rect x="733.28" y="128.00" width="0.60" height="24.00" fill="#f09f85"/>
<rect x="734.82" y="128.00" width="0.80" height="24.00" fill="#f4b5a0"/>
<rect x="736.53" y="128.00" width="1.20" height="24.00" fill="#f09f85"/>
<rect x="739.29" y="128.00" width="1.20" height="24.00" fill="#f7c9b9"/>
<rect x="741.40" y="128.00" width="0.80" height="24.00" fill="#f4b5a0"/>
<rect x="742.92" y="128.00" width="0.60" height="24.00" fill="#f2a78f"/>
<rect x="745.27" y="128.00" width="0.80" height="24.00" fill="#ffffff"/>
<rect x="748.15" y="128.00" width="0.80" height="24.00" fill="#f09f85"/>
<rect x="749.69" y="128.00" width="0.80" height="24.00" fill="#f7c9b9"/>
<rect x="751.90" y="128.00" width="1.00" height="24.00" fill="#f7c9b9"/>
<rect x="754.36" y="128.00" width="0.80" height="24.00" fill="#f4b5a0"/>
<rect x="757.13" y="128.00" width="1.00" height="24.00" fill="#ffffff"/>
<rect x="759.76" y="128.00" width="1.20" height="24.00" fill="#f2a78f"/>
<rect x="761.84" y="128.00" width="0.80" height="24.00" fill="#f2a78f"/>
<rect x="764.06" y="128.00" width="1.20" height="24.00" fill="#f09f85"/>
<rect x="766.81" y="128.00" width="0.80" height="24.00" fill="#f09f85"/>
<rect x="768.51" y="128.00" width="0.60" height="24.00" fill="#f2a78f"/>
<rect x="769.89" y="128.00" width="1.20" height="24.00" fill="#f4b5a0"/>
<rect x="773.03" y="128.00" width="0.60" height="24.00" fill="#f09f85"/>
<rect x="816.80" y="128.00" width="1.40" height="24.00" fill="#e96d46"/>
<rect x="828.90" y="128.00" width="1.80" height="24.00" fill="#e96d46"/>
<rect x="838.10" y="128.00" width="59.80" height="24.00" fill="#e96d46"/>
<text transform="translate(868.00,138.95) scale(0.83,1)" font-size="12" fill="#fff" text-anchor="middle" font-weight="700">Other-P<tspan letter-spacing="-0.07em">...</tspan></text>
<text transform="translate(868.00,148.80) scale(0.955,1)" font-size="9.3" fill="#f9d3c7" text-anchor="middle" font-weight="400" stroke="#f9d3c7" stroke-width="0.15">cpu-419<tspan letter-spacing="-0.07em">...</tspan></text>
<rect x="911.80" y="128.00" width="1.50" height="24.00" fill="#e96d46"/>
<rect x="943.80" y="128.00" width="5.40" height="24.00" fill="#e96d46"/>
<rect x="973.20" y="128.00" width="8.00" height="24.00" fill="url(#hatch)"/>
<rect x="1007.20" y="128.00" width="3.90" height="24.00" fill="#e96d46"/>
<rect x="1130.90" y="128.00" width="3.50" height="24.00" fill="#e96d46"/>
<rect x="1137.40" y="128.00" width="9.50" height="24.00" fill="#e96d46"/>
<rect x="1169.70" y="128.00" width="1.70" height="24.00" fill="#e96d46"/>
<rect x="1215.60" y="128.00" width="2.90" height="24.00" fill="#e96d46"/>
<rect x="1220.30" y="128.00" width="8.60" height="24.00" fill="#e96d46"/>
<rect x="1255.30" y="128.00" width="2.30" height="24.00" fill="#e96d46"/>
<rect x="1342.70" y="128.00" width="3.20" height="24.00" fill="#e96d46"/>
<rect x="1348.60" y="128.00" width="6.50" height="24.00" fill="#e96d46"/>
<rect x="1380.00" y="128.00" width="2.00" height="24.00" fill="#e96d46"/>
<rect x="1422.90" y="128.00" width="3.00" height="24.00" fill="#e96d46"/>
<rect x="1428.30" y="128.00" width="6.80" height="24.00" fill="#e96d46"/>
<rect x="1460.20" y="128.00" width="2.10" height="24.00" fill="#e96d46"/>
<rect x="1497.10" y="128.00" width="3.80" height="24.00" fill="#e96d46"/>
<rect x="1503.60" y="128.00" width="6.50" height="24.00" fill="#e96d46"/>
<rect x="1533.20" y="128.00" width="1.80" height="24.00" fill="#e96d46"/>
<rect x="1570.30" y="128.00" width="2.60" height="24.00" fill="#e96d46"/>
<rect x="1575.60" y="128.00" width="6.80" height="24.00" fill="#e96d46"/>
<rect x="1607.30" y="128.00" width="2.10" height="24.00" fill="#e96d46"/>
<rect x="1655.90" y="128.00" width="3.20" height="24.00" fill="#e96d46"/>
<rect x="1662.10" y="128.00" width="7.10" height="24.00" fill="#e96d46"/>
<rect x="1709.20" y="128.00" width="1.80" height="24.00" fill="#e96d46"/>
<rect x="1736.10" y="128.00" width="6.60" height="24.00" fill="#e96d46"/>
<rect x="1762.80" y="128.00" width="2.10" height="24.00" fill="#e96d46"/>
<rect x="1910.10" y="128.00" width="10.40" height="24.00" fill="url(#hatch)"/>
<rect x="1920.50" y="128.00" width="10.10" height="24.00" fill="#e96d46"/>
<rect x="1948.60" y="128.00" width="7.40" height="24.00" fill="url(#hatch)"/>
<rect x="1957.20" y="128.00" width="1.80" height="24.00" fill="#e96d46"/>
<rect x="1966.10" y="128.00" width="5.60" height="24.00" fill="#e96d46"/>
<rect x="1989.80" y="128.00" width="1.80" height="24.00" fill="#e96d46"/>
<rect x="2036.00" y="128.00" width="2.40" height="24.00" fill="#e96d46"/>
<rect x="2044.00" y="128.00" width="2.10" height="24.00" fill="#e96d46"/>
<rect x="2047.30" y="128.00" width="2.30" height="24.00" fill="#e96d46"/>
<rect x="2054.70" y="128.00" width="4.40" height="24.00" fill="#e96d46"/>
<rect x="2060.60" y="128.00" width="5.00" height="24.00" fill="#e96d46"/>
<rect x="2107.10" y="128.00" width="6.50" height="24.00" fill="#e96d46"/>
<rect x="2117.50" y="128.00" width="1.50" height="24.00" fill="#e96d46"/>
<rect x="2124.30" y="128.00" width="1.50" height="24.00" fill="#e96d46"/>
<rect x="2131.10" y="128.00" width="1.60" height="24.00" fill="#e96d46"/>
<rect x="2133.30" y="128.00" width="1.70" height="24.00" fill="#e96d46"/>
<rect x="2177.90" y="128.00" width="5.90" height="24.00" fill="#e96d46"/>
<rect x="2185.60" y="128.00" width="2.10" height="24.00" fill="#e96d46"/>
<rect x="2192.40" y="128.00" width="1.80" height="24.00" fill="#e96d46"/>
<rect x="2199.80" y="128.00" width="1.70" height="24.00" fill="#e96d46"/>
<rect x="2202.00" y="128.00" width="1.70" height="24.00" fill="#e96d46"/>
<rect x="2250.20" y="128.00" width="2.90" height="24.00" fill="#e96d46"/>
<rect x="2254.60" y="128.00" width="6.50" height="24.00" fill="#e96d46"/>
<rect x="2262.60" y="128.00" width="2.10" height="24.00" fill="#e96d46"/>
<rect x="2269.40" y="128.00" width="1.80" height="24.00" fill="#e96d46"/>
<rect x="2276.50" y="128.00" width="1.50" height="24.00" fill="#e96d46"/>
<rect x="2278.60" y="128.00" width="1.50" height="24.00" fill="#e96d46"/>
<rect x="261.80" y="158.00" width="1.80" height="24.00" fill="#e96d46"/>
<rect x="271.30" y="158.00" width="8.60" height="24.00" fill="url(#hatch)"/>
<rect x="561.70" y="158.00" width="10.80" height="24.00" fill="url(#hatch)"/>
<rect x="572.50" y="158.00" width="196.50" height="24.00" fill="#e96d46"/>
<rect x="573.06" y="158.00" width="0.60" height="24.00" fill="#eb7d5c"/>
<rect x="578.20" y="158.00" width="0.60" height="24.00" fill="#ec8565"/>
<rect x="583.29" y="158.00" width="0.80" height="24.00" fill="#eb7d5c"/>
<rect x="587.84" y="158.00" width="1.20" height="24.00" fill="#eb7d5c"/>
<rect x="595.78" y="158.00" width="1.00" height="24.00" fill="#eb7d5c"/>
<rect x="603.29" y="158.00" width="0.80" height="24.00" fill="#ee9275"/>
<rect x="607.21" y="158.00" width="0.60" height="24.00" fill="#ee9275"/>
<rect x="612.30" y="158.00" width="0.60" height="24.00" fill="#eb7d5c"/>
<rect x="616.48" y="158.00" width="0.60" height="24.00" fill="#ec8565"/>
<rect x="622.60" y="158.00" width="0.60" height="24.00" fill="#ec8565"/>
<rect x="629.92" y="158.00" width="1.00" height="24.00" fill="#ec8565"/>
<rect x="634.56" y="158.00" width="0.80" height="24.00" fill="#ee9275"/>
<rect x="638.85" y="158.00" width="0.60" height="24.00" fill="#ee9275"/>
<rect x="645.93" y="158.00" width="0.80" height="24.00" fill="#eb7d5c"/>
<rect x="652.98" y="158.00" width="0.80" height="24.00" fill="#eb7d5c"/>
<rect x="658.22" y="158.00" width="1.20" height="24.00" fill="#ee9275"/>
<rect x="663.82" y="158.00" width="1.00" height="24.00" fill="#ee9275"/>
<rect x="667.73" y="158.00" width="1.00" height="24.00" fill="#ec8565"/>
<rect x="672.75" y="158.00" width="1.20" height="24.00" fill="#ee9275"/>
<rect x="679.62" y="158.00" width="1.20" height="24.00" fill="#ee9275"/>
<rect x="685.65" y="158.00" width="1.00" height="24.00" fill="#eb7d5c"/>
<rect x="693.47" y="158.00" width="0.60" height="24.00" fill="#ec8565"/>
<rect x="700.94" y="158.00" width="0.60" height="24.00" fill="#ec8565"/>
<rect x="705.24" y="158.00" width="0.60" height="24.00" fill="#ec8565"/>
<rect x="709.55" y="158.00" width="0.80" height="24.00" fill="#ee9275"/>
<rect x="716.68" y="158.00" width="1.00" height="24.00" fill="#ee9275"/>
<rect x="720.85" y="158.00" width="1.20" height="24.00" fill="#eb7d5c"/>
<rect x="726.02" y="158.00" width="1.00" height="24.00" fill="#ec8565"/>
<rect x="733.12" y="158.00" width="0.80" height="24.00" fill="#ee9275"/>
<rect x="740.45" y="158.00" width="1.00" height="24.00" fill="#ec8565"/>
<rect x="746.80" y="158.00" width="1.00" height="24.00" fill="#ec8565"/>
<rect x="753.04" y="158.00" width="0.80" height="24.00" fill="#ec8565"/>
<rect x="757.53" y="158.00" width="0.60" height="24.00" fill="#ee9275"/>
<rect x="760.68" y="158.00" width="1.20" height="24.00" fill="#ee9275"/>
<rect x="767.18" y="158.00" width="0.60" height="24.00" fill="#eb7d5c"/>
<rect x="769.60" y="158.00" width="7.20" height="24.00" fill="#e96d46"/>
<rect x="771.51" y="158.00" width="0.80" height="24.00" fill="#ee9275"/>
<rect x="775.03" y="158.00" width="0.80" height="24.00" fill="#ee9275"/>
<rect x="793.30" y="158.00" width="2.70" height="24.00" fill="#f2a78f"/>
<rect x="814.40" y="158.00" width="15.40" height="24.00" fill="url(#hatch)"/>
<text transform="translate(822.10,168.95) scale(0.83,1)" font-size="12" fill="#fff" text-anchor="middle" font-weight="700">O</text>
<text transform="translate(822.10,178.80) scale(0.955,1)" font-size="9.3" fill="#f9d3c7" text-anchor="middle" font-weight="400" stroke="#f9d3c7" stroke-width="0.15">c</text>
<rect x="975.20" y="158.00" width="8.00" height="24.00" fill="url(#hatch)"/>
<rect x="983.20" y="158.00" width="14.00" height="24.00" fill="#e96d46"/>
<text transform="translate(990.20,168.95) scale(0.83,1)" font-size="12" fill="#fff" text-anchor="middle" font-weight="700">O</text>
<text transform="translate(990.20,178.80) scale(0.955,1)" font-size="9.3" fill="#f9d3c7" text-anchor="middle" font-weight="400" stroke="#f9d3c7" stroke-width="0.15">c</text>
<rect x="999.50" y="158.00" width="8.90" height="24.00" fill="#e96d46"/>
<rect x="1008.40" y="158.00" width="10.40" height="24.00" fill="url(#hatch)"/>
<rect x="1311.00" y="158.00" width="8.80" height="24.00" fill="url(#hatch)"/>
<rect x="1619.10" y="158.00" width="8.00" height="24.00" fill="url(#hatch)"/>
<rect x="1707.70" y="158.00" width="3.80" height="24.00" fill="#e96d46"/>
<rect x="1730.20" y="158.00" width="2.70" height="24.00" fill="#e96d46"/>
<rect x="1741.50" y="158.00" width="2.60" height="24.00" fill="#e96d46"/>
<rect x="1745.30" y="158.00" width="2.40" height="24.00" fill="#e96d46"/>
<rect x="1752.70" y="158.00" width="2.10" height="24.00" fill="#e96d46"/>
<rect x="1761.00" y="158.00" width="3.00" height="24.00" fill="#e96d46"/>
<rect x="1790.00" y="158.00" width="124.00" height="24.00" fill="#e96d46"/>
<text transform="translate(1852.00,168.95) scale(0.83,1)" font-size="12" fill="#fff" text-anchor="middle" font-weight="700">Other-Processes [41<tspan letter-spacing="-0.07em">...</tspan></text>
<text transform="translate(1852.00,178.80) scale(0.955,1)" font-size="9.3" fill="#f9d3c7" text-anchor="middle" font-weight="400" stroke="#f9d3c7" stroke-width="0.15">cpu-4194309 [419430<tspan letter-spacing="-0.07em">...</tspan></text>
<rect x="1914.00" y="158.00" width="8.60" height="24.00" fill="#e96d46"/>
<rect x="1916.30" y="158.00" width="0.70" height="24.00" fill="#eb7b58"/>
<rect x="1918.36" y="158.00" width="0.70" height="24.00" fill="#ea7551"/>
<rect x="1921.04" y="158.00" width="0.70" height="24.00" fill="#ec8261"/>
<rect x="1930.60" y="158.00" width="2.30" height="24.00" fill="#e96d46"/>
<rect x="1935.00" y="158.00" width="2.10" height="24.00" fill="#e96d46"/>
<rect x="1948.00" y="158.00" width="1.80" height="24.00" fill="#e96d46"/>
<rect x="1956.00" y="158.00" width="11.90" height="24.00" fill="#e96d46"/>
<rect x="1957.53" y="158.00" width="0.70" height="24.00" fill="#ec8261"/>
<rect x="1959.19" y="158.00" width="0.70" height="24.00" fill="#eb7b58"/>
<rect x="1961.96" y="158.00" width="0.70" height="24.00" fill="#ea7551"/>
<rect x="1965.12" y="158.00" width="0.70" height="24.00" fill="#ea7551"/>
<rect x="1969.10" y="158.00" width="2.30" height="24.00" fill="#e96d46"/>
<rect x="1972.60" y="158.00" width="1.80" height="24.00" fill="#e96d46"/>
<rect x="1975.00" y="158.00" width="1.80" height="24.00" fill="#e96d46"/>
<rect x="1980.60" y="158.00" width="1.80" height="24.00" fill="#e96d46"/>
<rect x="1988.00" y="158.00" width="3.30" height="24.00" fill="#e96d46"/>
<rect x="2030.10" y="158.00" width="14.80" height="24.00" fill="#e96d46"/>
<rect x="2033.00" y="158.00" width="0.70" height="24.00" fill="#eb7b58"/>
<rect x="2035.66" y="158.00" width="0.70" height="24.00" fill="#ea7551"/>
<rect x="2037.95" y="158.00" width="0.70" height="24.00" fill="#ec8261"/>
<rect x="2040.42" y="158.00" width="0.70" height="24.00" fill="#ec8261"/>
<rect x="2043.57" y="158.00" width="0.70" height="24.00" fill="#ec8261"/>
<rect x="2064.20" y="158.00" width="1.70" height="24.00" fill="#e96d46"/>
<rect x="2103.30" y="158.00" width="5.90" height="24.00" fill="#e96d46"/>
<rect x="2171.40" y="158.00" width="7.70" height="24.00" fill="#e96d46"/>
<rect x="2251.70" y="158.00" width="5.00" height="24.00" fill="#e96d46"/>
<rect x="2273.60" y="158.00" width="8.00" height="24.00" fill="url(#hatch)"/>
<rect x="256.50" y="218.00" width="279.00" height="24.00" fill="#e96d46"/>
<text transform="translate(396.00,228.95) scale(0.83,1)" font-size="12" fill="#fff" text-anchor="middle" font-weight="700">Other-Processes [4194305]</text>
<text transform="translate(396.00,238.80) scale(0.955,1)" font-size="9.3" fill="#f9d3c7" text-anchor="middle" font-weight="400" stroke="#f9d3c7" stroke-width="0.15">cpu-4194311 [4194311]</text>
<rect x="839.00" y="218.00" width="5.60" height="24.00" fill="#e96d46"/>
<rect x="849.00" y="218.00" width="26.70" height="24.00" fill="#e96d46"/>
<text transform="translate(862.35,228.95) scale(0.83,1)" font-size="12" fill="#fff" text-anchor="middle" font-weight="700">Ot<tspan letter-spacing="-0.07em">...</tspan></text>
<text transform="translate(862.35,238.80) scale(0.955,1)" font-size="9.3" fill="#f9d3c7" text-anchor="middle" font-weight="400" stroke="#f9d3c7" stroke-width="0.15">cp<tspan letter-spacing="-0.07em">...</tspan></text>
<rect x="884.00" y="218.00" width="6.20" height="24.00" fill="#e96d46"/>
<rect x="897.60" y="218.00" width="6.20" height="24.00" fill="#e96d46"/>
<rect x="911.80" y="218.00" width="6.00" height="24.00" fill="#e96d46"/>
<rect x="926.70" y="218.00" width="4.10" height="24.00" fill="#e96d46"/>
<rect x="934.90" y="218.00" width="25.50" height="24.00" fill="#e96d46"/>
<text transform="translate(947.65,228.95) scale(0.83,1)" font-size="12" fill="#fff" text-anchor="middle" font-weight="700">Ot<tspan letter-spacing="-0.07em">...</tspan></text>
<text transform="translate(947.65,238.80) scale(0.955,1)" font-size="9.3" fill="#f9d3c7" text-anchor="middle" font-weight="400" stroke="#f9d3c7" stroke-width="0.15">cp<tspan letter-spacing="-0.07em">...</tspan></text>
<rect x="968.10" y="218.00" width="6.80" height="24.00" fill="#e96d46"/>
<rect x="981.80" y="218.00" width="21.30" height="24.00" fill="#e96d46"/>
<text transform="translate(992.45,228.95) scale(0.83,1)" font-size="12" fill="#fff" text-anchor="middle" font-weight="700">O<tspan letter-spacing="-0.07em">...</tspan></text>
<text transform="translate(992.45,238.80) scale(0.955,1)" font-size="9.3" fill="#f9d3c7" text-anchor="middle" font-weight="400" stroke="#f9d3c7" stroke-width="0.15">c<tspan letter-spacing="-0.07em">...</tspan></text>
<rect x="1009.30" y="218.00" width="16.00" height="24.00" fill="#e96d46"/>
<text transform="translate(1017.30,228.95) scale(0.83,1)" font-size="12" fill="#fff" text-anchor="middle" font-weight="700">O</text>
<text transform="translate(1017.30,238.80) scale(0.955,1)" font-size="9.3" fill="#f9d3c7" text-anchor="middle" font-weight="400" stroke="#f9d3c7" stroke-width="0.15">c</text>
<rect x="1033.90" y="218.00" width="3.50" height="24.00" fill="#e96d46"/>
<rect x="1041.30" y="218.00" width="26.50" height="24.00" fill="#e96d46"/>
<text transform="translate(1054.55,228.95) scale(0.83,1)" font-size="12" fill="#fff" text-anchor="middle" font-weight="700">Ot<tspan letter-spacing="-0.07em">...</tspan></text>
<text transform="translate(1054.55,238.80) scale(0.955,1)" font-size="9.3" fill="#f9d3c7" text-anchor="middle" font-weight="400" stroke="#f9d3c7" stroke-width="0.15">cp<tspan letter-spacing="-0.07em">...</tspan></text>
<rect x="1076.70" y="218.00" width="6.80" height="24.00" fill="#e96d46"/>
<rect x="1090.60" y="218.00" width="7.40" height="24.00" fill="#e96d46"/>
<rect x="1107.20" y="218.00" width="6.80" height="24.00" fill="#e96d46"/>
<rect x="1122.90" y="218.00" width="4.70" height="24.00" fill="#e96d46"/>
<rect x="1130.90" y="218.00" width="24.30" height="24.00" fill="#e96d46"/>
<text transform="translate(1143.05,228.95) scale(0.83,1)" font-size="12" fill="#fff" text-anchor="middle" font-weight="700">Ot<tspan letter-spacing="-0.07em">...</tspan></text>
<text transform="translate(1143.05,238.80) scale(0.955,1)" font-size="9.3" fill="#f9d3c7" text-anchor="middle" font-weight="400" stroke="#f9d3c7" stroke-width="0.15">cp<tspan letter-spacing="-0.07em">...</tspan></text>
<rect x="1162.60" y="218.00" width="7.40" height="24.00" fill="#e96d46"/>
<rect x="1178.00" y="218.00" width="6.50" height="24.00" fill="#e96d46"/>
<rect x="1192.80" y="218.00" width="6.50" height="24.00" fill="#e96d46"/>
<rect x="1208.20" y="218.00" width="4.70" height="24.00" fill="#e96d46"/>
<rect x="1216.20" y="218.00" width="27.80" height="24.00" fill="#e96d46"/>
<text transform="translate(1230.10,228.95) scale(0.83,1)" font-size="12" fill="#fff" text-anchor="middle" font-weight="700">Ot<tspan letter-spacing="-0.07em">...</tspan></text>
<text transform="translate(1230.10,238.80) scale(0.955,1)" font-size="9.3" fill="#f9d3c7" text-anchor="middle" font-weight="400" stroke="#f9d3c7" stroke-width="0.15">cp<tspan letter-spacing="-0.07em">...</tspan></text>
<rect x="1250.80" y="218.00" width="22.20" height="24.00" fill="#e96d46"/>
<text transform="translate(1261.90,228.95) scale(0.83,1)" font-size="12" fill="#fff" text-anchor="middle" font-weight="700">O<tspan letter-spacing="-0.07em">...</tspan></text>
<text transform="translate(1261.90,238.80) scale(0.955,1)" font-size="9.3" fill="#f9d3c7" text-anchor="middle" font-weight="400" stroke="#f9d3c7" stroke-width="0.15">c<tspan letter-spacing="-0.07em">...</tspan></text>
<rect x="1281.90" y="218.00" width="20.20" height="24.00" fill="#e96d46"/>
<text transform="translate(1292.00,228.95) scale(0.83,1)" font-size="12" fill="#fff" text-anchor="middle" font-weight="700">O<tspan letter-spacing="-0.07em">...</tspan></text>
<text transform="translate(1292.00,238.80) scale(0.955,1)" font-size="9.3" fill="#f9d3c7" text-anchor="middle" font-weight="400" stroke="#f9d3c7" stroke-width="0.15">c<tspan letter-spacing="-0.07em">...</tspan></text>
<rect x="1311.00" y="218.00" width="15.70" height="24.00" fill="#e96d46"/>
<text transform="translate(1318.85,228.95) scale(0.83,1)" font-size="12" fill="#fff" text-anchor="middle" font-weight="700">O</text>
<text transform="translate(1318.85,238.80) scale(0.955,1)" font-size="9.3" fill="#f9d3c7" text-anchor="middle" font-weight="400" stroke="#f9d3c7" stroke-width="0.15">c</text>
<rect x="1335.50" y="218.00" width="4.80" height="24.00" fill="#e96d46"/>
<rect x="1343.80" y="218.00" width="25.50" height="24.00" fill="#e96d46"/>
<text transform="translate(1356.55,228.95) scale(0.83,1)" font-size="12" fill="#fff" text-anchor="middle" font-weight="700">Ot<tspan letter-spacing="-0.07em">...</tspan></text>
<text transform="translate(1356.55,238.80) scale(0.955,1)" font-size="9.3" fill="#f9d3c7" text-anchor="middle" font-weight="400" stroke="#f9d3c7" stroke-width="0.15">cp<tspan letter-spacing="-0.07em">...</tspan></text>
<rect x="1375.80" y="218.00" width="7.40" height="24.00" fill="#e96d46"/>
<rect x="1388.00" y="218.00" width="18.30" height="24.00" fill="#3eaee3"/>
<text transform="translate(1397.15,228.95) scale(0.83,1)" font-size="12" fill="#fff" text-anchor="middle" font-weight="700">c<tspan letter-spacing="-0.07em">...</tspan></text>
<text transform="translate(1397.15,238.80) scale(0.955,1)" font-size="9.3" fill="#cdeaf8" text-anchor="middle" font-weight="400" stroke="#cdeaf8" stroke-width="0.15">J<tspan letter-spacing="-0.07em">...</tspan></text>
<rect x="1594.30" y="218.00" width="5.00" height="24.00" fill="url(#hatch)"/>
<rect x="2108.90" y="218.00" width="96.00" height="24.00" fill="#e96d46"/>
<text transform="translate(2156.90,228.95) scale(0.83,1)" font-size="12" fill="#fff" text-anchor="middle" font-weight="700">Other-Processe<tspan letter-spacing="-0.07em">...</tspan></text>
<text transform="translate(2156.90,238.80) scale(0.955,1)" font-size="9.3" fill="#f9d3c7" text-anchor="middle" font-weight="400" stroke="#f9d3c7" stroke-width="0.15">cpu-4194311 [4<tspan letter-spacing="-0.07em">...</tspan></text>
<rect x="2312.70" y="218.00" width="6.20" height="24.00" fill="url(#hatch)"/>
<rect x="276.70" y="248.00" width="47.90" height="24.00" fill="#e96d46"/>
<text transform="translate(300.65,258.95) scale(0.83,1)" font-size="12" fill="#fff" text-anchor="middle" font-weight="700">Other-<tspan letter-spacing="-0.07em">...</tspan></text>
<text transform="translate(300.65,268.80) scale(0.955,1)" font-size="9.3" fill="#f9d3c7" text-anchor="middle" font-weight="400" stroke="#f9d3c7" stroke-width="0.15">cpu-41<tspan letter-spacing="-0.07em">...</tspan></text>
<rect x="361.40" y="248.00" width="11.50" height="24.00" fill="#e96d46"/>
<text transform="translate(367.15,258.95) scale(0.83,1)" font-size="12" fill="#fff" text-anchor="middle" font-weight="700">O</text>
<text transform="translate(367.15,268.80) scale(0.955,1)" font-size="9.3" fill="#f9d3c7" text-anchor="middle" font-weight="400" stroke="#f9d3c7" stroke-width="0.15">c</text>
<rect x="407.90" y="248.00" width="10.90" height="24.00" fill="#e96d46"/>
<rect x="454.40" y="248.00" width="10.60" height="24.00" fill="#e96d46"/>
<rect x="498.20" y="248.00" width="5.60" height="24.00" fill="#e96d46"/>
<rect x="527.80" y="248.00" width="33.20" height="24.00" fill="#e96d46"/>
<text transform="translate(544.40,258.95) scale(0.83,1)" font-size="12" fill="#fff" text-anchor="middle" font-weight="700">Oth<tspan letter-spacing="-0.07em">...</tspan></text>
<text transform="translate(544.40,268.80) scale(0.955,1)" font-size="9.3" fill="#f9d3c7" text-anchor="middle" font-weight="400" stroke="#f9d3c7" stroke-width="0.15">cpu<tspan letter-spacing="-0.07em">...</tspan></text>
<rect x="573.80" y="248.00" width="7.40" height="24.00" fill="#e96d46"/>
<rect x="589.20" y="248.00" width="23.70" height="24.00" fill="#e96d46"/>
<text transform="translate(601.05,258.95) scale(0.83,1)" font-size="12" fill="#fff" text-anchor="middle" font-weight="700">Ot<tspan letter-spacing="-0.07em">...</tspan></text>
<text transform="translate(601.05,268.80) scale(0.955,1)" font-size="9.3" fill="#f9d3c7" text-anchor="middle" font-weight="400" stroke="#f9d3c7" stroke-width="0.15">cp<tspan letter-spacing="-0.07em">...</tspan></text>
<rect x="619.40" y="248.00" width="19.80" height="24.00" fill="#e96d46"/>
<text transform="translate(629.30,258.95) scale(0.83,1)" font-size="12" fill="#fff" text-anchor="middle" font-weight="700">O<tspan letter-spacing="-0.07em">...</tspan></text>
<text transform="translate(629.30,268.80) scale(0.955,1)" font-size="9.3" fill="#f9d3c7" text-anchor="middle" font-weight="400" stroke="#f9d3c7" stroke-width="0.15">c<tspan letter-spacing="-0.07em">...</tspan></text>
<rect x="646.30" y="248.00" width="4.20" height="24.00" fill="#e96d46"/>
<rect x="654.10" y="248.00" width="26.70" height="24.00" fill="#e96d46"/>
<text transform="translate(667.45,258.95) scale(0.83,1)" font-size="12" fill="#fff" text-anchor="middle" font-weight="700">Ot<tspan letter-spacing="-0.07em">...</tspan></text>
<text transform="translate(667.45,268.80) scale(0.955,1)" font-size="9.3" fill="#f9d3c7" text-anchor="middle" font-weight="400" stroke="#f9d3c7" stroke-width="0.15">cp<tspan letter-spacing="-0.07em">...</tspan></text>
<rect x="688.80" y="248.00" width="6.80" height="24.00" fill="#e96d46"/>
<rect x="702.40" y="248.00" width="6.50" height="24.00" fill="#e96d46"/>
<rect x="716.40" y="248.00" width="6.20" height="24.00" fill="#e96d46"/>
<rect x="730.00" y="248.00" width="4.00" height="24.00" fill="#e96d46"/>
<rect x="738.00" y="248.00" width="24.60" height="24.00" fill="#e96d46"/>
<text transform="translate(750.30,258.95) scale(0.83,1)" font-size="12" fill="#fff" text-anchor="middle" font-weight="700">Ot<tspan letter-spacing="-0.07em">...</tspan></text>
<text transform="translate(750.30,268.80) scale(0.955,1)" font-size="9.3" fill="#f9d3c7" text-anchor="middle" font-weight="400" stroke="#f9d3c7" stroke-width="0.15">cp<tspan letter-spacing="-0.07em">...</tspan></text>
<rect x="769.40" y="248.00" width="6.20" height="24.00" fill="#e96d46"/>
<rect x="783.30" y="248.00" width="15.10" height="24.00" fill="#e96d46"/>
<text transform="translate(790.85,258.95) scale(0.83,1)" font-size="12" fill="#fff" text-anchor="middle" font-weight="700">O</text>
<text transform="translate(790.85,268.80) scale(0.955,1)" font-size="9.3" fill="#f9d3c7" text-anchor="middle" font-weight="400" stroke="#f9d3c7" stroke-width="0.15">c</text>
<rect x="805.20" y="248.00" width="23.40" height="24.00" fill="#e96d46"/>
<text transform="translate(816.90,258.95) scale(0.83,1)" font-size="12" fill="#fff" text-anchor="middle" font-weight="700">Ot<tspan letter-spacing="-0.07em">...</tspan></text>
<text transform="translate(816.90,268.80) scale(0.955,1)" font-size="9.3" fill="#f9d3c7" text-anchor="middle" font-weight="400" stroke="#f9d3c7" stroke-width="0.15">cp<tspan letter-spacing="-0.07em">...</tspan></text>
<rect x="829.50" y="248.00" width="11.30" height="24.00" fill="#e96d46"/>
<text transform="translate(835.15,258.95) scale(0.83,1)" font-size="12" fill="#fff" text-anchor="middle" font-weight="700">O</text>
<text transform="translate(835.15,268.80) scale(0.955,1)" font-size="9.3" fill="#f9d3c7" text-anchor="middle" font-weight="400" stroke="#f9d3c7" stroke-width="0.15">c</text>
<rect x="1046.00" y="248.00" width="8.70" height="24.00" fill="#e96d46"/>
<rect x="1123.50" y="248.00" width="1.70" height="24.00" fill="#e96d46"/>
<rect x="1227.10" y="248.00" width="1.50" height="24.00" fill="#f2a78f"/>
<rect x="1243.70" y="248.00" width="5.40" height="24.00" fill="url(#hatch)"/>
<rect x="1389.80" y="248.00" width="8.00" height="24.00" fill="#e96d46"/>
<rect x="1402.80" y="248.00" width="6.20" height="24.00" fill="#e96d46"/>
<rect x="1416.40" y="248.00" width="4.50" height="24.00" fill="#e96d46"/>
<rect x="1423.20" y="248.00" width="24.60" height="24.00" fill="#e96d46"/>
<text transform="translate(1435.50,258.95) scale(0.83,1)" font-size="12" fill="#fff" text-anchor="middle" font-weight="700">Ot<tspan letter-spacing="-0.07em">...</tspan></text>
<text transform="translate(1435.50,268.80) scale(0.955,1)" font-size="9.3" fill="#f9d3c7" text-anchor="middle" font-weight="400" stroke="#f9d3c7" stroke-width="0.15">cp<tspan letter-spacing="-0.07em">...</tspan></text>
<rect x="1454.60" y="248.00" width="7.20" height="24.00" fill="#e96d46"/>
<rect x="1466.90" y="248.00" width="6.20" height="24.00" fill="#e96d46"/>
<rect x="1478.70" y="248.00" width="6.30" height="24.00" fill="#e96d46"/>
<rect x="1490.00" y="248.00" width="4.70" height="24.00" fill="#e96d46"/>
<rect x="1497.40" y="248.00" width="26.70" height="24.00" fill="#e96d46"/>
<text transform="translate(1510.75,258.95) scale(0.83,1)" font-size="12" fill="#fff" text-anchor="middle" font-weight="700">Ot<tspan letter-spacing="-0.07em">...</tspan></text>
<text transform="translate(1510.75,268.80) scale(0.955,1)" font-size="9.3" fill="#f9d3c7" text-anchor="middle" font-weight="400" stroke="#f9d3c7" stroke-width="0.15">cp<tspan letter-spacing="-0.07em">...</tspan></text>
<rect x="1530.60" y="248.00" width="6.20" height="24.00" fill="#e96d46"/>
<rect x="1541.20" y="248.00" width="7.10" height="24.00" fill="#e96d46"/>
<rect x="1553.10" y="248.00" width="6.50" height="24.00" fill="#e96d46"/>
<rect x="1564.30" y="248.00" width="3.60" height="24.00" fill="#e96d46"/>
<rect x="1571.20" y="248.00" width="24.20" height="24.00" fill="#e96d46"/>
<text transform="translate(1583.30,258.95) scale(0.83,1)" font-size="12" fill="#fff" text-anchor="middle" font-weight="700">Ot<tspan letter-spacing="-0.07em">...</tspan></text>
<text transform="translate(1583.30,268.80) scale(0.955,1)" font-size="9.3" fill="#f9d3c7" text-anchor="middle" font-weight="400" stroke="#f9d3c7" stroke-width="0.15">cp<tspan letter-spacing="-0.07em">...</tspan></text>
<rect x="1599.30" y="248.00" width="15.10" height="24.00" fill="#e96d46"/>
<text transform="translate(1606.85,258.95) scale(0.83,1)" font-size="12" fill="#fff" text-anchor="middle" font-weight="700">O</text>
<text transform="translate(1606.85,268.80) scale(0.955,1)" font-size="9.3" fill="#f9d3c7" text-anchor="middle" font-weight="400" stroke="#f9d3c7" stroke-width="0.15">c</text>
<rect x="1619.10" y="248.00" width="13.80" height="24.00" fill="#e96d46"/>
<text transform="translate(1626.00,258.95) scale(0.83,1)" font-size="12" fill="#fff" text-anchor="middle" font-weight="700">O</text>
<text transform="translate(1626.00,268.80) scale(0.955,1)" font-size="9.3" fill="#f9d3c7" text-anchor="middle" font-weight="400" stroke="#f9d3c7" stroke-width="0.15">c</text>
<rect x="1638.10" y="248.00" width="6.20" height="24.00" fill="#e96d46"/>
<rect x="1649.00" y="248.00" width="4.80" height="24.00" fill="#e96d46"/>
<rect x="1656.50" y="248.00" width="26.00" height="24.00" fill="#e96d46"/>
<text transform="translate(1669.50,258.95) scale(0.83,1)" font-size="12" fill="#fff" text-anchor="middle" font-weight="700">Ot<tspan letter-spacing="-0.07em">...</tspan></text>
<text transform="translate(1669.50,268.80) scale(0.955,1)" font-size="9.3" fill="#f9d3c7" text-anchor="middle" font-weight="400" stroke="#f9d3c7" stroke-width="0.15">cp<tspan letter-spacing="-0.07em">...</tspan></text>
<rect x="1688.70" y="248.00" width="7.40" height="24.00" fill="#e96d46"/>
<rect x="1701.20" y="248.00" width="6.80" height="24.00" fill="#e96d46"/>
<rect x="1712.10" y="248.00" width="6.90" height="24.00" fill="#e96d46"/>
<rect x="1724.00" y="248.00" width="3.80" height="24.00" fill="#e96d46"/>
<rect x="1730.50" y="248.00" width="24.00" height="24.00" fill="#e96d46"/>
<text transform="translate(1742.50,258.95) scale(0.83,1)" font-size="12" fill="#fff" text-anchor="middle" font-weight="700">Ot<tspan letter-spacing="-0.07em">...</tspan></text>
<text transform="translate(1742.50,268.80) scale(0.955,1)" font-size="9.3" fill="#f9d3c7" text-anchor="middle" font-weight="400" stroke="#f9d3c7" stroke-width="0.15">cp<tspan letter-spacing="-0.07em">...</tspan></text>
<rect x="1760.10" y="248.00" width="6.50" height="24.00" fill="#e96d46"/>
<rect x="1771.70" y="248.00" width="7.10" height="24.00" fill="#e96d46"/>
<rect x="1783.80" y="248.00" width="7.10" height="24.00" fill="#e96d46"/>
<rect x="1795.70" y="248.00" width="3.80" height="24.00" fill="#e96d46"/>
<rect x="1801.60" y="248.00" width="24.30" height="24.00" fill="#e96d46"/>
<text transform="translate(1813.75,258.95) scale(0.83,1)" font-size="12" fill="#fff" text-anchor="middle" font-weight="700">Ot<tspan letter-spacing="-0.07em">...</tspan></text>
<text transform="translate(1813.75,268.80) scale(0.955,1)" font-size="9.3" fill="#f9d3c7" text-anchor="middle" font-weight="400" stroke="#f9d3c7" stroke-width="0.15">cp<tspan letter-spacing="-0.07em">...</tspan></text>
<rect x="1832.40" y="248.00" width="6.20" height="24.00" fill="#e96d46"/>
<rect x="1844.00" y="248.00" width="6.50" height="24.00" fill="#e96d46"/>
<rect x="1855.20" y="248.00" width="6.70" height="24.00" fill="#e96d46"/>
<rect x="1866.90" y="248.00" width="4.40" height="24.00" fill="#e96d46"/>
<rect x="1873.70" y="248.00" width="24.30" height="24.00" fill="#e96d46"/>
<text transform="translate(1885.85,258.95) scale(0.83,1)" font-size="12" fill="#fff" text-anchor="middle" font-weight="700">Ot<tspan letter-spacing="-0.07em">...</tspan></text>
<text transform="translate(1885.85,268.80) scale(0.955,1)" font-size="9.3" fill="#f9d3c7" text-anchor="middle" font-weight="400" stroke="#f9d3c7" stroke-width="0.15">cp<tspan letter-spacing="-0.07em">...</tspan></text>
<rect x="1903.90" y="248.00" width="6.50" height="24.00" fill="#e96d46"/>
<rect x="1914.90" y="248.00" width="10.30" height="24.00" fill="#e96d46"/>
<rect x="1930.30" y="248.00" width="12.70" height="24.00" fill="#e96d46"/>
<text transform="translate(1936.65,258.95) scale(0.83,1)" font-size="12" fill="#fff" text-anchor="middle" font-weight="700">O</text>
<text transform="translate(1936.65,268.80) scale(0.955,1)" font-size="9.3" fill="#f9d3c7" text-anchor="middle" font-weight="400" stroke="#f9d3c7" stroke-width="0.15">c</text>
<rect x="1949.20" y="248.00" width="7.40" height="24.00" fill="#e96d46"/>
<rect x="1959.60" y="248.00" width="24.30" height="24.00" fill="#e96d46"/>
<text transform="translate(1971.75,258.95) scale(0.83,1)" font-size="12" fill="#fff" text-anchor="middle" font-weight="700">Ot<tspan letter-spacing="-0.07em">...</tspan></text>
<text transform="translate(1971.75,268.80) scale(0.955,1)" font-size="9.3" fill="#f9d3c7" text-anchor="middle" font-weight="400" stroke="#f9d3c7" stroke-width="0.15">cp<tspan letter-spacing="-0.07em">...</tspan></text>
<rect x="1989.20" y="248.00" width="6.20" height="24.00" fill="#e96d46"/>
<rect x="2000.50" y="248.00" width="6.20" height="24.00" fill="#e96d46"/>
<rect x="2012.00" y="248.00" width="6.20" height="24.00" fill="#e96d46"/>
<rect x="2023.30" y="248.00" width="3.80" height="24.00" fill="#e96d46"/>
<rect x="2030.70" y="248.00" width="24.00" height="24.00" fill="#e96d46"/>
<text transform="translate(2042.70,258.95) scale(0.83,1)" font-size="12" fill="#fff" text-anchor="middle" font-weight="700">Ot<tspan letter-spacing="-0.07em">...</tspan></text>
<text transform="translate(2042.70,268.80) scale(0.955,1)" font-size="9.3" fill="#f9d3c7" text-anchor="middle" font-weight="400" stroke="#f9d3c7" stroke-width="0.15">cp<tspan letter-spacing="-0.07em">...</tspan></text>
<rect x="2060.00" y="248.00" width="6.50" height="24.00" fill="#e96d46"/>
<rect x="2071.90" y="248.00" width="6.50" height="24.00" fill="#e96d46"/>
<rect x="2083.40" y="248.00" width="6.20" height="24.00" fill="#e96d46"/>
<rect x="2095.00" y="248.00" width="3.80" height="24.00" fill="#e96d46"/>
<rect x="2101.80" y="248.00" width="24.90" height="24.00" fill="#e96d46"/>
<text transform="translate(2114.25,258.95) scale(0.83,1)" font-size="12" fill="#fff" text-anchor="middle" font-weight="700">Ot<tspan letter-spacing="-0.07em">...</tspan></text>
<text transform="translate(2114.25,268.80) scale(0.955,1)" font-size="9.3" fill="#f9d3c7" text-anchor="middle" font-weight="400" stroke="#f9d3c7" stroke-width="0.15">cp<tspan letter-spacing="-0.07em">...</tspan></text>
<rect x="2131.40" y="248.00" width="6.20" height="24.00" fill="#e96d46"/>
<rect x="2142.70" y="248.00" width="6.50" height="24.00" fill="#e96d46"/>
<rect x="2154.50" y="248.00" width="6.20" height="24.00" fill="#e96d46"/>
<rect x="2165.80" y="248.00" width="3.80" height="24.00" fill="#e96d46"/>
<rect x="2172.90" y="248.00" width="25.40" height="24.00" fill="#e96d46"/>
<text transform="translate(2185.60,258.95) scale(0.83,1)" font-size="12" fill="#fff" text-anchor="middle" font-weight="700">Ot<tspan letter-spacing="-0.07em">...</tspan></text>
<text transform="translate(2185.60,268.80) scale(0.955,1)" font-size="9.3" fill="#f9d3c7" text-anchor="middle" font-weight="400" stroke="#f9d3c7" stroke-width="0.15">cp<tspan letter-spacing="-0.07em">...</tspan></text>
<rect x="2203.10" y="248.00" width="8.60" height="24.00" fill="#e96d46"/>
<rect x="2216.70" y="248.00" width="8.60" height="24.00" fill="#e96d46"/>
<rect x="2230.30" y="248.00" width="6.80" height="24.00" fill="#e96d46"/>
<rect x="2242.50" y="248.00" width="4.10" height="24.00" fill="#e96d46"/>
<rect x="2249.90" y="248.00" width="22.80" height="24.00" fill="#e96d46"/>
<text transform="translate(2261.30,258.95) scale(0.83,1)" font-size="12" fill="#fff" text-anchor="middle" font-weight="700">O<tspan letter-spacing="-0.07em">...</tspan></text>
<text transform="translate(2261.30,268.80) scale(0.955,1)" font-size="9.3" fill="#f9d3c7" text-anchor="middle" font-weight="400" stroke="#f9d3c7" stroke-width="0.15">c<tspan letter-spacing="-0.07em">...</tspan></text>
<rect x="2278.30" y="248.00" width="11.60" height="24.00" fill="#e96d46"/>
<text transform="translate(2284.10,258.95) scale(0.83,1)" font-size="12" fill="#fff" text-anchor="middle" font-weight="700">O</text>
<text transform="translate(2284.10,268.80) scale(0.955,1)" font-size="9.3" fill="#f9d3c7" text-anchor="middle" font-weight="400" stroke="#f9d3c7" stroke-width="0.15">c</text>
<rect x="2294.60" y="248.00" width="13.30" height="24.00" fill="#e96d46"/>
<text transform="translate(2301.25,258.95) scale(0.83,1)" font-size="12" fill="#fff" text-anchor="middle" font-weight="700">O</text>
<text transform="translate(2301.25,268.80) scale(0.955,1)" font-size="9.3" fill="#f9d3c7" text-anchor="middle" font-weight="400" stroke="#f9d3c7" stroke-width="0.15">c</text>
<rect x="2313.00" y="248.00" width="8.90" height="24.00" fill="#e96d46"/>
<rect x="261.80" y="278.00" width="10.10" height="24.00" fill="#3eaee3"/>
<rect x="343.30" y="278.00" width="15.10" height="24.00" fill="#3eaee3"/>
<text transform="translate(350.85,288.95) scale(0.83,1)" font-size="12" fill="#fff" text-anchor="middle" font-weight="700">c</text>
<text transform="translate(350.85,298.80) scale(0.955,1)" font-size="9.3" fill="#cdeaf8" text-anchor="middle" font-weight="400" stroke="#cdeaf8" stroke-width="0.15">e</text>
<rect x="392.50" y="278.00" width="12.40" height="24.00" fill="#3eaee3"/>
<text transform="translate(398.70,288.95) scale(0.83,1)" font-size="12" fill="#fff" text-anchor="middle" font-weight="700">c</text>
<text transform="translate(398.70,298.80) scale(0.955,1)" font-size="9.3" fill="#cdeaf8" text-anchor="middle" font-weight="400" stroke="#cdeaf8" stroke-width="0.15">e</text>
<rect x="438.40" y="278.00" width="12.40" height="24.00" fill="#3eaee3"/>
<text transform="translate(444.60,288.95) scale(0.83,1)" font-size="12" fill="#fff" text-anchor="middle" font-weight="700">c</text>
<text transform="translate(444.60,298.80) scale(0.955,1)" font-size="9.3" fill="#cdeaf8" text-anchor="middle" font-weight="400" stroke="#cdeaf8" stroke-width="0.15">e</text>
<rect x="484.60" y="278.00" width="12.40" height="24.00" fill="#3eaee3"/>
<text transform="translate(490.80,288.95) scale(0.83,1)" font-size="12" fill="#fff" text-anchor="middle" font-weight="700">c</text>
<text transform="translate(490.80,298.80) scale(0.955,1)" font-size="9.3" fill="#cdeaf8" text-anchor="middle" font-weight="400" stroke="#cdeaf8" stroke-width="0.15">e</text>
<rect x="503.60" y="278.00" width="25.10" height="24.00" fill="#3eaee3"/>
<text transform="translate(516.15,288.95) scale(0.83,1)" font-size="12" fill="#fff" text-anchor="middle" font-weight="700">co<tspan letter-spacing="-0.07em">...</tspan></text>
<text transform="translate(516.15,298.80) scale(0.955,1)" font-size="9.3" fill="#cdeaf8" text-anchor="middle" font-weight="400" stroke="#cdeaf8" stroke-width="0.15">es<tspan letter-spacing="-0.07em">...</tspan></text>
<rect x="559.80" y="278.00" width="14.00" height="24.00" fill="#3eaee3"/>
<text transform="translate(566.80,288.95) scale(0.83,1)" font-size="12" fill="#fff" text-anchor="middle" font-weight="700">c</text>
<text transform="translate(566.80,298.80) scale(0.955,1)" font-size="9.3" fill="#cdeaf8" text-anchor="middle" font-weight="400" stroke="#cdeaf8" stroke-width="0.15">e</text>
<rect x="580.30" y="278.00" width="8.30" height="24.00" fill="#3eaee3"/>
<rect x="610.80" y="278.00" width="8.00" height="24.00" fill="#3eaee3"/>
<rect x="638.30" y="278.00" width="8.00" height="24.00" fill="#3eaee3"/>
<rect x="649.90" y="278.00" width="4.50" height="24.00" fill="#3eaee3"/>
<rect x="680.20" y="278.00" width="8.60" height="24.00" fill="#3eaee3"/>
<rect x="694.70" y="278.00" width="7.70" height="24.00" fill="#3eaee3"/>
<rect x="708.40" y="278.00" width="8.00" height="24.00" fill="#3eaee3"/>
<rect x="722.30" y="278.00" width="7.70" height="24.00" fill="#3eaee3"/>
<rect x="733.20" y="278.00" width="4.80" height="24.00" fill="#3eaee3"/>
<rect x="761.10" y="278.00" width="8.60" height="24.00" fill="#3eaee3"/>
<rect x="774.70" y="278.00" width="8.60" height="24.00" fill="#3eaee3"/>
<rect x="795.10" y="278.00" width="8.90" height="24.00" fill="#3eaee3"/>
<rect x="828.00" y="278.00" width="8.30" height="24.00" fill="#3eaee3"/>
<rect x="844.00" y="278.00" width="5.00" height="24.00" fill="#3eaee3"/>
<rect x="874.20" y="278.00" width="8.90" height="24.00" fill="#3eaee3"/>
<rect x="889.60" y="278.00" width="7.40" height="24.00" fill="#3eaee3"/>
<rect x="903.00" y="278.00" width="8.30" height="24.00" fill="#3eaee3"/>
<rect x="917.20" y="278.00" width="8.30" height="24.00" fill="#3eaee3"/>
<rect x="929.90" y="278.00" width="4.50" height="24.00" fill="#3eaee3"/>
<rect x="959.80" y="278.00" width="8.00" height="24.00" fill="#3eaee3"/>
<rect x="974.10" y="278.00" width="7.70" height="24.00" fill="#3eaee3"/>
<rect x="1001.30" y="278.00" width="7.70" height="24.00" fill="#3eaee3"/>
<rect x="1024.70" y="278.00" width="7.70" height="24.00" fill="#3eaee3"/>
<rect x="1036.90" y="278.00" width="4.70" height="24.00" fill="#3eaee3"/>
<rect x="1066.60" y="278.00" width="9.50" height="24.00" fill="#3eaee3"/>
<rect x="1082.00" y="278.00" width="8.90" height="24.00" fill="#3eaee3"/>
<rect x="1097.40" y="278.00" width="8.60" height="24.00" fill="#3eaee3"/>
<rect x="1112.80" y="278.00" width="8.60" height="24.00" fill="#3eaee3"/>
<rect x="1126.10" y="278.00" width="4.80" height="24.00" fill="#3eaee3"/>
<rect x="1154.00" y="278.00" width="8.90" height="24.00" fill="#3eaee3"/>
<rect x="1168.80" y="278.00" width="8.00" height="24.00" fill="#3eaee3"/>
<rect x="1183.30" y="278.00" width="8.90" height="24.00" fill="#3eaee3"/>
<rect x="1197.80" y="278.00" width="9.20" height="24.00" fill="#3eaee3"/>
<rect x="1211.40" y="278.00" width="4.80" height="24.00" fill="#3eaee3"/>
<rect x="1242.80" y="278.00" width="8.30" height="24.00" fill="#3eaee3"/>
<rect x="1271.60" y="278.00" width="7.70" height="24.00" fill="#3eaee3"/>
<rect x="1300.30" y="278.00" width="8.90" height="24.00" fill="#3eaee3"/>
<rect x="1325.80" y="278.00" width="8.00" height="24.00" fill="#3eaee3"/>
<rect x="1338.80" y="278.00" width="5.00" height="24.00" fill="#3eaee3"/>
<rect x="1367.50" y="278.00" width="8.60" height="24.00" fill="#3eaee3"/>
<rect x="1382.00" y="278.00" width="8.00" height="24.00" fill="#3eaee3"/>
<rect x="1396.60" y="278.00" width="6.50" height="24.00" fill="#3eaee3"/>
<rect x="1408.70" y="278.00" width="6.50" height="24.00" fill="#3eaee3"/>
<rect x="1420.00" y="278.00" width="3.80" height="24.00" fill="#3eaee3"/>
<rect x="1446.60" y="278.00" width="7.00" height="24.00" fill="#3eaee3"/>
<rect x="1461.30" y="278.00" width="6.50" height="24.00" fill="#3eaee3"/>
<rect x="1472.80" y="278.00" width="5.90" height="24.00" fill="#3eaee3"/>
<rect x="1484.40" y="278.00" width="5.90" height="24.00" fill="#3eaee3"/>
<rect x="1494.10" y="278.00" width="3.60" height="24.00" fill="#3eaee3"/>
<rect x="1523.20" y="278.00" width="6.80" height="24.00" fill="#3eaee3"/>
<rect x="1535.90" y="278.00" width="5.90" height="24.00" fill="#3eaee3"/>
<rect x="1547.50" y="278.00" width="5.60" height="24.00" fill="#3eaee3"/>
<rect x="1558.10" y="278.00" width="6.80" height="24.00" fill="#3eaee3"/>
<rect x="1567.30" y="278.00" width="3.90" height="24.00" fill="#3eaee3"/>
<rect x="1594.00" y="278.00" width="6.20" height="24.00" fill="#3eaee3"/>
<rect x="1612.90" y="278.00" width="6.20" height="24.00" fill="#3eaee3"/>
<rect x="1631.90" y="278.00" width="6.50" height="24.00" fill="#3eaee3"/>
<rect x="1643.40" y="278.00" width="6.50" height="24.00" fill="#3eaee3"/>
<rect x="1652.90" y="278.00" width="3.90" height="24.00" fill="#3eaee3"/>
<rect x="1681.60" y="278.00" width="6.90" height="24.00" fill="#3eaee3"/>
<rect x="1695.30" y="278.00" width="5.90" height="24.00" fill="#3eaee3"/>
<rect x="1706.80" y="278.00" width="6.20" height="24.00" fill="#3eaee3"/>
<rect x="1718.10" y="278.00" width="5.90" height="24.00" fill="#3eaee3"/>
<rect x="1727.00" y="278.00" width="3.80" height="24.00" fill="#3eaee3"/>
<rect x="1753.90" y="278.00" width="6.20" height="24.00" fill="#3eaee3"/>
<rect x="1766.10" y="278.00" width="5.90" height="24.00" fill="#3eaee3"/>
<rect x="1777.90" y="278.00" width="5.90" height="24.00" fill="#3eaee3"/>
<rect x="1789.80" y="278.00" width="5.30" height="24.00" fill="#3eaee3"/>
<rect x="1798.00" y="278.00" width="3.90" height="24.00" fill="#3eaee3"/>
<rect x="1825.30" y="278.00" width="6.80" height="24.00" fill="#3eaee3"/>
<rect x="1838.30" y="278.00" width="6.00" height="24.00" fill="#3eaee3"/>
<rect x="1849.60" y="278.00" width="5.40" height="24.00" fill="#3eaee3"/>
<rect x="1861.00" y="278.00" width="5.60" height="24.00" fill="#3eaee3"/>
<rect x="1869.80" y="278.00" width="3.60" height="24.00" fill="#3eaee3"/>
<rect x="1897.40" y="278.00" width="6.50" height="24.00" fill="#3eaee3"/>
<rect x="1909.20" y="278.00" width="5.70" height="24.00" fill="#3eaee3"/>
<rect x="1923.80" y="278.00" width="5.30" height="24.00" fill="#3eaee3"/>
<rect x="1942.40" y="278.00" width="5.60" height="24.00" fill="#3eaee3"/>
<rect x="1955.20" y="278.00" width="3.80" height="24.00" fill="#3eaee3"/>
<rect x="1983.00" y="278.00" width="5.90" height="24.00" fill="#3eaee3"/>
<rect x="1994.50" y="278.00" width="6.30" height="24.00" fill="#3eaee3"/>
<rect x="2006.10" y="278.00" width="5.60" height="24.00" fill="#3eaee3"/>
<rect x="2017.70" y="278.00" width="5.60" height="24.00" fill="#3eaee3"/>
<rect x="2026.80" y="278.00" width="3.30" height="24.00" fill="#3eaee3"/>
<rect x="2053.50" y="278.00" width="6.50" height="24.00" fill="#3eaee3"/>
<rect x="2065.90" y="278.00" width="5.70" height="24.00" fill="#3eaee3"/>
<rect x="2077.50" y="278.00" width="5.60" height="24.00" fill="#3eaee3"/>
<rect x="2089.00" y="278.00" width="5.70" height="24.00" fill="#3eaee3"/>
<rect x="2098.20" y="278.00" width="3.30" height="24.00" fill="#3eaee3"/>
<rect x="2125.50" y="278.00" width="5.60" height="24.00" fill="#3eaee3"/>
<rect x="2137.00" y="278.00" width="5.40" height="24.00" fill="#3eaee3"/>
<rect x="2143.00" y="278.00" width="4.10" height="24.00" fill="#e9603c"/>
<rect x="2147.40" y="278.00" width="6.80" height="24.00" fill="#3eaee3"/>
<rect x="2159.80" y="278.00" width="6.00" height="24.00" fill="#3eaee3"/>
<rect x="2168.70" y="278.00" width="3.30" height="24.00" fill="#3eaee3"/>
<rect x="2196.90" y="278.00" width="6.20" height="24.00" fill="#3eaee3"/>
<rect x="2210.80" y="278.00" width="5.90" height="24.00" fill="#3eaee3"/>
<rect x="2224.40" y="278.00" width="5.90" height="24.00" fill="#3eaee3"/>
<rect x="2236.30" y="278.00" width="6.20" height="24.00" fill="#3eaee3"/>
<rect x="2246.60" y="278.00" width="3.00" height="24.00" fill="#3eaee3"/>
<rect x="2250.50" y="278.00" width="1.50" height="24.00" fill="#e9603c"/>
<rect x="2272.10" y="278.00" width="6.20" height="24.00" fill="#3eaee3"/>
<rect x="2289.00" y="278.00" width="5.90" height="24.00" fill="#3eaee3"/>
<rect x="2306.50" y="278.00" width="6.20" height="24.00" fill="#3eaee3"/>
<rect x="542.10" y="398.20" width="10.60" height="11.60" fill="#2f7d32"/>
<rect x="545.07" y="398.20" width="0.70" height="11.60" fill="#6fa671"/>
<rect x="546.99" y="398.20" width="0.70" height="11.60" fill="#4a8f4d"/>
<rect x="549.76" y="398.20" width="0.70" height="11.60" fill="#5c9a5e"/>
<rect x="560.40" y="398.20" width="2.70" height="11.60" fill="#2f7d32"/>
<rect x="619.40" y="398.20" width="19.50" height="11.60" fill="#2f7d32"/>
<text transform="translate(629.15,407.30) scale(0.79,1)" font-size="10" fill="#fff" text-anchor="middle" font-weight="700">R<tspan letter-spacing="-0.07em">...</tspan></text>
<rect x="674.60" y="398.20" width="7.70" height="11.60" fill="#2f7d32"/>
<rect x="738.00" y="398.20" width="13.90" height="11.60" fill="#2f7d32"/>
<rect x="740.02" y="398.20" width="0.70" height="11.60" fill="#5c9a5e"/>
<rect x="742.96" y="398.20" width="0.70" height="11.60" fill="#5c9a5e"/>
<rect x="744.67" y="398.20" width="0.70" height="11.60" fill="#4a8f4d"/>
<rect x="747.68" y="398.20" width="0.70" height="11.60" fill="#6fa671"/>
<rect x="749.54" y="398.20" width="0.70" height="11.60" fill="#5c9a5e"/>
<rect x="772.60" y="398.20" width="4.80" height="11.60" fill="#2f7d32"/>
<rect x="777.40" y="398.20" width="10.90" height="11.60" fill="#2f7d32"/>
<text transform="translate(782.85,407.30) scale(0.79,1)" font-size="10" fill="#fff" text-anchor="middle" font-weight="700">R</text>
<rect x="790.70" y="398.20" width="9.50" height="11.60" fill="#2f7d32"/>
<rect x="811.70" y="398.20" width="3.60" height="11.60" fill="#2f7d32"/>
<rect x="819.10" y="398.20" width="1.80" height="11.60" fill="#2f7d32"/>
<rect x="825.90" y="398.20" width="1.80" height="11.60" fill="#2f7d32"/>
<rect x="855.10" y="398.20" width="5.70" height="11.60" fill="#2f7d32"/>
<rect x="862.10" y="398.20" width="2.70" height="11.60" fill="#2f7d32"/>
<rect x="886.40" y="398.20" width="1.50" height="11.60" fill="#2f7d32"/>
<rect x="888.80" y="398.20" width="2.60" height="11.60" fill="#2f7d32"/>
<rect x="892.90" y="398.20" width="3.00" height="11.60" fill="#2f7d32"/>
<rect x="896.70" y="398.20" width="3.00" height="11.60" fill="#2f7d32"/>
<rect x="900.60" y="398.20" width="3.50" height="11.60" fill="#2f7d32"/>
<rect x="907.70" y="398.20" width="5.90" height="11.60" fill="#2f7d32"/>
<rect x="937.00" y="398.20" width="10.10" height="11.60" fill="#2f7d32"/>
<rect x="948.00" y="398.20" width="7.10" height="11.60" fill="#2f7d32"/>
<rect x="958.60" y="398.20" width="1.80" height="11.60" fill="#2f7d32"/>
<rect x="968.40" y="398.20" width="1.50" height="11.60" fill="#2f7d32"/>
<rect x="1044.30" y="398.20" width="4.10" height="11.60" fill="#2f7d32"/>
<rect x="1049.00" y="398.20" width="8.30" height="11.60" fill="#2f7d32"/>
<rect x="1058.20" y="398.20" width="2.00" height="11.60" fill="#2f7d32"/>
<rect x="1067.80" y="398.20" width="1.70" height="11.60" fill="#2f7d32"/>
<rect x="1077.30" y="398.20" width="1.70" height="11.60" fill="#2f7d32"/>
<rect x="1081.70" y="398.20" width="2.40" height="11.60" fill="#2f7d32"/>
<rect x="1134.10" y="398.20" width="4.20" height="11.60" fill="#2f7d32"/>
<rect x="1147.70" y="398.20" width="1.90" height="11.60" fill="#2f7d32"/>
<rect x="1150.40" y="398.20" width="2.10" height="11.60" fill="#2f7d32"/>
<rect x="1157.20" y="398.20" width="1.80" height="11.60" fill="#2f7d32"/>
<rect x="1159.80" y="398.20" width="2.20" height="11.60" fill="#2f7d32"/>
<rect x="1164.90" y="398.20" width="2.60" height="11.60" fill="#2f7d32"/>
<rect x="1168.20" y="398.20" width="3.50" height="11.60" fill="#2f7d32"/>
<rect x="1218.00" y="398.20" width="4.40" height="11.60" fill="#2f7d32"/>
<rect x="1227.40" y="398.20" width="5.70" height="11.60" fill="#2f7d32"/>
<rect x="1243.10" y="398.20" width="2.10" height="11.60" fill="#2f7d32"/>
<rect x="1245.90" y="398.20" width="2.60" height="11.60" fill="#2f7d32"/>
<rect x="1250.80" y="398.20" width="2.40" height="11.60" fill="#2f7d32"/>
<rect x="1253.90" y="398.20" width="3.70" height="11.60" fill="#2f7d32"/>
<rect x="1345.60" y="398.20" width="4.50" height="11.60" fill="#2f7d32"/>
<rect x="1353.60" y="398.20" width="5.30" height="11.60" fill="#2f7d32"/>
<rect x="1366.90" y="398.20" width="1.90" height="11.60" fill="#2f7d32"/>
<rect x="1369.50" y="398.20" width="1.90" height="11.60" fill="#2f7d32"/>
<rect x="1374.90" y="398.20" width="2.10" height="11.60" fill="#2f7d32"/>
<rect x="1425.60" y="398.20" width="4.40" height="11.60" fill="#2f7d32"/>
<rect x="1436.00" y="398.20" width="2.60" height="11.60" fill="#2f7d32"/>
<rect x="1446.00" y="398.20" width="1.80" height="11.60" fill="#2f7d32"/>
<rect x="1455.30" y="398.20" width="1.80" height="11.60" fill="#2f7d32"/>
<rect x="1500.70" y="398.20" width="4.40" height="11.60" fill="#2f7d32"/>
<rect x="1511.00" y="398.20" width="1.80" height="11.60" fill="#2f7d32"/>
<rect x="1514.00" y="398.20" width="2.40" height="11.60" fill="#2f7d32"/>
<rect x="1523.50" y="398.20" width="1.50" height="11.60" fill="#2f7d32"/>
<rect x="1525.80" y="398.20" width="2.40" height="11.60" fill="#2f7d32"/>
<rect x="1529.70" y="398.20" width="5.30" height="11.60" fill="#2f7d32"/>
<rect x="1572.90" y="398.20" width="4.20" height="11.60" fill="#2f7d32"/>
<rect x="1580.90" y="398.20" width="5.40" height="11.60" fill="#2f7d32"/>
<rect x="1594.30" y="398.20" width="1.40" height="11.60" fill="#2f7d32"/>
<rect x="1602.80" y="398.20" width="1.50" height="11.60" fill="#2f7d32"/>
<rect x="1658.80" y="398.20" width="4.50" height="11.60" fill="#2f7d32"/>
<rect x="1670.10" y="398.20" width="1.90" height="11.60" fill="#2f7d32"/>
<rect x="1672.90" y="398.20" width="2.20" height="11.60" fill="#2f7d32"/>
<rect x="1683.10" y="398.20" width="1.50" height="11.60" fill="#2f7d32"/>
<rect x="1685.20" y="398.20" width="1.80" height="11.60" fill="#2f7d32"/>
<rect x="1704.40" y="398.20" width="1.50" height="11.60" fill="#2f7d32"/>
<rect x="1732.60" y="398.20" width="4.70" height="11.60" fill="#2f7d32"/>
<rect x="1743.80" y="398.20" width="1.80" height="11.60" fill="#2f7d32"/>
<rect x="1751.50" y="398.20" width="2.10" height="11.60" fill="#2f7d32"/>
<rect x="1758.90" y="398.20" width="1.80" height="11.60" fill="#2f7d32"/>
<rect x="1917.50" y="398.20" width="8.60" height="11.60" fill="#2f7d32"/>
<rect x="1932.90" y="398.20" width="1.80" height="11.60" fill="#2f7d32"/>
<rect x="1946.00" y="398.20" width="1.50" height="11.60" fill="#2f7d32"/>
<rect x="1953.40" y="398.20" width="1.50" height="11.60" fill="#2f7d32"/>
<rect x="1960.80" y="398.20" width="5.00" height="11.60" fill="#2f7d32"/>
<rect x="1973.20" y="398.20" width="2.40" height="11.60" fill="#2f7d32"/>
<rect x="1979.70" y="398.20" width="1.80" height="11.60" fill="#2f7d32"/>
<rect x="1986.30" y="398.20" width="1.70" height="11.60" fill="#2f7d32"/>
<rect x="2032.50" y="398.20" width="4.40" height="11.60" fill="#2f7d32"/>
<rect x="2045.50" y="398.20" width="1.80" height="11.60" fill="#2f7d32"/>
<rect x="2052.90" y="398.20" width="1.80" height="11.60" fill="#2f7d32"/>
<rect x="2059.40" y="398.20" width="1.80" height="11.60" fill="#2f7d32"/>
<rect x="2103.80" y="398.20" width="4.20" height="11.60" fill="#2f7d32"/>
<rect x="2116.00" y="398.20" width="2.10" height="11.60" fill="#2f7d32"/>
<rect x="2123.10" y="398.20" width="1.80" height="11.60" fill="#2f7d32"/>
<rect x="2129.90" y="398.20" width="1.80" height="11.60" fill="#2f7d32"/>
<rect x="2174.30" y="398.20" width="4.50" height="11.60" fill="#2f7d32"/>
<rect x="2185.00" y="398.20" width="2.10" height="11.60" fill="#2f7d32"/>
<rect x="2191.80" y="398.20" width="1.80" height="11.60" fill="#2f7d32"/>
<rect x="2198.90" y="398.20" width="1.80" height="11.60" fill="#2f7d32"/>
<rect x="2252.00" y="398.20" width="4.10" height="11.60" fill="#2f7d32"/>
<rect x="2262.00" y="398.20" width="1.80" height="11.60" fill="#2f7d32"/>
<rect x="2268.50" y="398.20" width="1.80" height="11.60" fill="#2f7d32"/>
<rect x="2275.10" y="398.20" width="1.70" height="11.60" fill="#2f7d32"/>
<rect x="400.20" y="416.27" width="2.60" height="11.60" fill="#2f7d32"/>
<rect x="516.30" y="416.27" width="19.20" height="11.60" fill="#2f7d32"/>
<text transform="translate(525.90,425.37) scale(0.79,1)" font-size="10" fill="#fff" text-anchor="middle" font-weight="700">R<tspan letter-spacing="-0.07em">...</tspan></text>
<rect x="535.50" y="416.27" width="18.40" height="11.60" fill="#2f7d32"/>
<rect x="537.57" y="416.27" width="0.70" height="11.60" fill="#4a8f4d"/>
<rect x="540.24" y="416.27" width="0.70" height="11.60" fill="#6fa671"/>
<rect x="542.80" y="416.27" width="0.70" height="11.60" fill="#4a8f4d"/>
<rect x="544.87" y="416.27" width="0.70" height="11.60" fill="#6fa671"/>
<rect x="546.77" y="416.27" width="0.70" height="11.60" fill="#6fa671"/>
<rect x="549.08" y="416.27" width="0.70" height="11.60" fill="#6fa671"/>
<rect x="551.26" y="416.27" width="0.70" height="11.60" fill="#6fa671"/>
<rect x="560.40" y="416.27" width="251.20" height="11.60" fill="#2f7d32"/>
<text transform="translate(686.00,425.37) scale(0.79,1)" font-size="10" fill="#fff" text-anchor="middle" font-weight="700">Running</text>
<rect x="811.60" y="416.27" width="7.20" height="11.60" fill="#2f7d32"/>
<rect x="813.92" y="416.27" width="0.70" height="11.60" fill="#5c9a5e"/>
<rect x="815.58" y="416.27" width="0.70" height="11.60" fill="#6fa671"/>
<rect x="817.52" y="416.27" width="0.70" height="11.60" fill="#5c9a5e"/>
<rect x="820.30" y="416.27" width="2.40" height="11.60" fill="#2f7d32"/>
<rect x="827.10" y="416.27" width="3.60" height="11.60" fill="#2f7d32"/>
<rect x="841.30" y="416.27" width="6.70" height="11.60" fill="#2f7d32"/>
<rect x="848.60" y="416.27" width="7.40" height="11.60" fill="#2f7d32"/>
<rect x="856.60" y="416.27" width="7.00" height="11.60" fill="#2f7d32"/>
<rect x="884.00" y="416.27" width="2.10" height="11.60" fill="#2f7d32"/>
<rect x="887.90" y="416.27" width="2.00" height="11.60" fill="#2f7d32"/>
<rect x="894.70" y="416.27" width="3.50" height="11.60" fill="#2f7d32"/>
<rect x="900.60" y="416.27" width="3.00" height="11.60" fill="#2f7d32"/>
<rect x="908.90" y="416.27" width="2.10" height="11.60" fill="#2f7d32"/>
<rect x="934.10" y="416.27" width="8.60" height="11.60" fill="#2f7d32"/>
<rect x="950.10" y="416.27" width="4.40" height="11.60" fill="#2f7d32"/>
<rect x="959.80" y="416.27" width="4.20" height="11.60" fill="#2f7d32"/>
<rect x="969.30" y="416.27" width="6.50" height="11.60" fill="#2f7d32"/>
<rect x="995.10" y="416.27" width="5.90" height="11.60" fill="#2f7d32"/>
<rect x="1041.30" y="416.27" width="8.60" height="11.60" fill="#2f7d32"/>
<rect x="1050.40" y="416.27" width="3.20" height="11.60" fill="#2f7d32"/>
<rect x="1055.30" y="416.27" width="2.70" height="11.60" fill="#2f7d32"/>
<rect x="1058.60" y="416.27" width="4.10" height="11.60" fill="#2f7d32"/>
<rect x="1069.00" y="416.27" width="3.20" height="11.60" fill="#2f7d32"/>
<rect x="1078.10" y="416.27" width="2.90" height="11.60" fill="#2f7d32"/>
<rect x="1081.60" y="416.27" width="3.40" height="11.60" fill="#2f7d32"/>
<rect x="1087.90" y="416.27" width="1.20" height="11.60" fill="#2f7d32"/>
<rect x="1132.90" y="416.27" width="6.90" height="11.60" fill="#2f7d32"/>
<rect x="1145.40" y="416.27" width="2.60" height="11.60" fill="#2f7d32"/>
<rect x="1148.80" y="416.27" width="2.80" height="11.60" fill="#2f7d32"/>
<rect x="1158.10" y="416.27" width="2.70" height="11.60" fill="#2f7d32"/>
<rect x="1167.30" y="416.27" width="1.80" height="11.60" fill="#2f7d32"/>
<rect x="1217.40" y="416.27" width="5.00" height="11.60" fill="#2f7d32"/>
<rect x="1224.20" y="416.27" width="5.90" height="11.60" fill="#2f7d32"/>
<rect x="1230.70" y="416.27" width="2.40" height="11.60" fill="#2f7d32"/>
<rect x="1244.00" y="416.27" width="3.30" height="11.60" fill="#2f7d32"/>
<rect x="1252.30" y="416.27" width="2.40" height="11.60" fill="#2f7d32"/>
<rect x="1345.00" y="416.27" width="5.10" height="11.60" fill="#2f7d32"/>
<rect x="1357.20" y="416.27" width="1.70" height="11.60" fill="#2f7d32"/>
<rect x="1368.10" y="416.27" width="2.10" height="11.60" fill="#2f7d32"/>
<rect x="1375.80" y="416.27" width="6.20" height="11.60" fill="#2f7d32"/>
<rect x="1425.00" y="416.27" width="5.30" height="11.60" fill="#2f7d32"/>
<rect x="1433.90" y="416.27" width="3.10" height="11.60" fill="#2f7d32"/>
<rect x="1437.60" y="416.27" width="3.40" height="11.60" fill="#2f7d32"/>
<rect x="1446.90" y="416.27" width="3.60" height="11.60" fill="#2f7d32"/>
<rect x="1456.40" y="416.27" width="5.40" height="11.60" fill="#2f7d32"/>
<rect x="1499.20" y="416.27" width="6.20" height="11.60" fill="#2f7d32"/>
<rect x="1510.10" y="416.27" width="1.90" height="11.60" fill="#2f7d32"/>
<rect x="1512.60" y="416.27" width="2.00" height="11.60" fill="#2f7d32"/>
<rect x="1524.60" y="416.27" width="2.10" height="11.60" fill="#2f7d32"/>
<rect x="1531.20" y="416.27" width="1.70" height="11.60" fill="#2f7d32"/>
<rect x="1572.30" y="416.27" width="5.70" height="11.60" fill="#2f7d32"/>
<rect x="1584.20" y="416.27" width="1.80" height="11.60" fill="#2f7d32"/>
<rect x="1595.40" y="416.27" width="3.30" height="11.60" fill="#2f7d32"/>
<rect x="1604.30" y="416.27" width="4.80" height="11.60" fill="#2f7d32"/>
<rect x="1657.90" y="416.27" width="6.00" height="11.60" fill="#2f7d32"/>
<rect x="1668.30" y="416.27" width="2.70" height="11.60" fill="#2f7d32"/>
<rect x="1671.60" y="416.27" width="2.90" height="11.60" fill="#2f7d32"/>
<rect x="1684.00" y="416.27" width="2.10" height="11.60" fill="#2f7d32"/>
<rect x="1705.30" y="416.27" width="2.70" height="11.60" fill="#2f7d32"/>
<rect x="1732.30" y="416.27" width="5.60" height="11.60" fill="#2f7d32"/>
<rect x="1745.00" y="416.27" width="1.80" height="11.60" fill="#2f7d32"/>
<rect x="1752.40" y="416.27" width="1.80" height="11.60" fill="#2f7d32"/>
<rect x="1759.50" y="416.27" width="2.40" height="11.60" fill="#2f7d32"/>
<rect x="1777.00" y="416.27" width="1.80" height="11.60" fill="#2f7d32"/>
<rect x="1911.00" y="416.27" width="17.80" height="11.60" fill="#2f7d32"/>
<text transform="translate(1919.90,425.37) scale(0.79,1)" font-size="10" fill="#fff" text-anchor="middle" font-weight="700">R<tspan letter-spacing="-0.07em">...</tspan></text>
<rect x="1934.40" y="416.27" width="1.80" height="11.60" fill="#2f7d32"/>
<rect x="1947.20" y="416.27" width="1.40" height="11.60" fill="#a5c8a6"/>
<rect x="1954.30" y="416.27" width="1.40" height="11.60" fill="#2f7d32"/>
<rect x="1973.80" y="416.27" width="1.80" height="11.60" fill="#2f7d32"/>
<rect x="1980.60" y="416.27" width="1.80" height="11.60" fill="#2f7d32"/>
<rect x="1986.80" y="416.27" width="1.80" height="11.60" fill="#2f7d32"/>
<rect x="2047.00" y="416.27" width="2.00" height="11.60" fill="#2f7d32"/>
<rect x="2052.30" y="416.27" width="2.10" height="11.60" fill="#2f7d32"/>
<rect x="2101.80" y="416.27" width="2.00" height="11.60" fill="#2f7d32"/>
<rect x="2113.60" y="416.27" width="3.60" height="11.60" fill="#2f7d32"/>
<rect x="2118.40" y="416.27" width="1.70" height="11.60" fill="#2f7d32"/>
<rect x="2125.80" y="416.27" width="1.70" height="11.60" fill="#2f7d32"/>
<rect x="2132.90" y="416.27" width="2.30" height="11.60" fill="#2f7d32"/>
<rect x="2183.50" y="416.27" width="4.50" height="11.60" fill="#2f7d32"/>
<rect x="2192.70" y="416.27" width="1.80" height="11.60" fill="#2f7d32"/>
<rect x="2201.00" y="416.27" width="2.70" height="11.60" fill="#2f7d32"/>
<rect x="2260.00" y="416.27" width="2.00" height="11.60" fill="#2f7d32"/>
<rect x="2263.50" y="416.27" width="2.40" height="11.60" fill="#2f7d32"/>
<rect x="2270.60" y="416.27" width="1.80" height="11.60" fill="#2f7d32"/>
<rect x="2277.70" y="416.27" width="2.40" height="11.60" fill="#2f7d32"/>
<rect x="261.80" y="434.34" width="2.10" height="11.60" fill="#2f7d32"/>
<rect x="498.20" y="434.34" width="6.50" height="11.60" fill="#2f7d32"/>
<rect x="516.30" y="434.34" width="49.70" height="11.60" fill="#2f7d32"/>
<text transform="translate(541.15,443.44) scale(0.79,1)" font-size="10" fill="#fff" text-anchor="middle" font-weight="700">Running</text>
<rect x="575.10" y="434.34" width="106.80" height="11.60" fill="#2f7d32"/>
<rect x="576.17" y="434.34" width="1.20" height="11.60" fill="#8c9d4e"/>
<rect x="578.83" y="434.34" width="0.80" height="11.60" fill="#a8a551"/>
<rect x="581.08" y="434.34" width="0.60" height="11.60" fill="#ff9800"/>
<rect x="582.78" y="434.34" width="0.60" height="11.60" fill="#a8a551"/>
<rect x="584.68" y="434.34" width="0.60" height="11.60" fill="#c7a43b"/>
<rect x="586.01" y="434.34" width="1.00" height="11.60" fill="#ff9800"/>
<rect x="588.06" y="434.34" width="0.80" height="11.60" fill="#ff9800"/>
<rect x="590.90" y="434.34" width="1.20" height="11.60" fill="#8c9d4e"/>
<rect x="593.88" y="434.34" width="1.20" height="11.60" fill="#a8a551"/>
<rect x="596.21" y="434.34" width="0.80" height="11.60" fill="#ff9800"/>
<rect x="598.95" y="434.34" width="1.20" height="11.60" fill="#ff9800"/>
<rect x="601.90" y="434.34" width="0.80" height="11.60" fill="#6f9544"/>
<rect x="604.53" y="434.34" width="0.60" height="11.60" fill="#ff9800"/>
<rect x="606.70" y="434.34" width="0.80" height="11.60" fill="#ff9800"/>
<rect x="608.25" y="434.34" width="0.80" height="11.60" fill="#ff9800"/>
<rect x="610.29" y="434.34" width="0.60" height="11.60" fill="#c7a43b"/>
<rect x="612.84" y="434.34" width="0.60" height="11.60" fill="#ff9800"/>
<rect x="614.17" y="434.34" width="0.80" height="11.60" fill="#c7a43b"/>
<rect x="616.07" y="434.34" width="1.20" height="11.60" fill="#ff9800"/>
<rect x="619.09" y="434.34" width="0.60" height="11.60" fill="#ff9800"/>
<rect x="621.18" y="434.34" width="1.20" height="11.60" fill="#8c9d4e"/>
<rect x="624.29" y="434.34" width="1.00" height="11.60" fill="#a8a551"/>
<rect x="627.09" y="434.34" width="0.80" height="11.60" fill="#a8a551"/>
<rect x="629.70" y="434.34" width="1.20" height="11.60" fill="#c7a43b"/>
<rect x="632.87" y="434.34" width="0.60" height="11.60" fill="#c7a43b"/>
<rect x="635.53" y="434.34" width="1.00" height="11.60" fill="#ff9800"/>
<rect x="638.16" y="434.34" width="0.80" height="11.60" fill="#ff9800"/>
<rect x="640.56" y="434.34" width="1.00" height="11.60" fill="#8c9d4e"/>
<rect x="643.23" y="434.34" width="1.00" height="11.60" fill="#6f9544"/>
<rect x="645.79" y="434.34" width="0.60" height="11.60" fill="#c7a43b"/>
<rect x="647.18" y="434.34" width="1.00" height="11.60" fill="#ff9800"/>
<rect x="649.03" y="434.34" width="0.80" height="11.60" fill="#ff9800"/>
<rect x="651.26" y="434.34" width="1.00" height="11.60" fill="#c7a43b"/>
<rect x="653.66" y="434.34" width="0.60" height="11.60" fill="#6f9544"/>
<rect x="655.26" y="434.34" width="0.60" height="11.60" fill="#c7a43b"/>
<rect x="656.58" y="434.34" width="1.20" height="11.60" fill="#ff9800"/>
<rect x="659.71" y="434.34" width="1.20" height="11.60" fill="#8c9d4e"/>
<rect x="662.19" y="434.34" width="0.80" height="11.60" fill="#ff9800"/>
<rect x="664.57" y="434.34" width="0.80" height="11.60" fill="#ff9800"/>
<rect x="666.85" y="434.34" width="1.00" height="11.60" fill="#a8a551"/>
<rect x="669.46" y="434.34" width="1.00" height="11.60" fill="#ff9800"/>
<rect x="672.21" y="434.34" width="0.80" height="11.60" fill="#c7a43b"/>
<rect x="675.06" y="434.34" width="1.20" height="11.60" fill="#c7a43b"/>
<rect x="677.00" y="434.34" width="0.60" height="11.60" fill="#c7a43b"/>
<rect x="679.32" y="434.34" width="1.20" height="11.60" fill="#8c9d4e"/>
<rect x="683.50" y="434.34" width="91.40" height="11.60" fill="#2f7d32"/>
<rect x="684.62" y="434.34" width="1.20" height="11.60" fill="#8c9d4e"/>
<rect x="686.71" y="434.34" width="1.00" height="11.60" fill="#ff9800"/>
<rect x="688.89" y="434.34" width="1.00" height="11.60" fill="#c7a43b"/>
<rect x="690.77" y="434.34" width="0.80" height="11.60" fill="#ff9800"/>
<rect x="692.29" y="434.34" width="1.00" height="11.60" fill="#8c9d4e"/>
<rect x="694.55" y="434.34" width="1.20" height="11.60" fill="#c7a43b"/>
<rect x="697.95" y="434.34" width="0.60" height="11.60" fill="#8c9d4e"/>
<rect x="700.63" y="434.34" width="1.00" height="11.60" fill="#ff9800"/>
<rect x="702.76" y="434.34" width="0.60" height="11.60" fill="#ff9800"/>
<rect x="704.48" y="434.34" width="0.80" height="11.60" fill="#a8a551"/>
<rect x="707.44" y="434.34" width="1.20" height="11.60" fill="#6f9544"/>
<rect x="709.81" y="434.34" width="1.00" height="11.60" fill="#c7a43b"/>
<rect x="712.84" y="434.34" width="1.20" height="11.60" fill="#6f9544"/>
<rect x="715.56" y="434.34" width="0.60" height="11.60" fill="#ff9800"/>
<rect x="718.26" y="434.34" width="1.20" height="11.60" fill="#c7a43b"/>
<rect x="721.09" y="434.34" width="0.80" height="11.60" fill="#ff9800"/>
<rect x="723.89" y="434.34" width="1.20" height="11.60" fill="#ff9800"/>
<rect x="727.16" y="434.34" width="0.80" height="11.60" fill="#a8a551"/>
<rect x="729.37" y="434.34" width="1.00" height="11.60" fill="#8c9d4e"/>
<rect x="731.51" y="434.34" width="1.00" height="11.60" fill="#c7a43b"/>
<rect x="734.20" y="434.34" width="1.00" height="11.60" fill="#c7a43b"/>
<rect x="736.73" y="434.34" width="1.20" height="11.60" fill="#ff9800"/>
<rect x="738.88" y="434.34" width="0.80" height="11.60" fill="#ff9800"/>
<rect x="740.70" y="434.34" width="1.20" height="11.60" fill="#6f9544"/>
<rect x="742.93" y="434.34" width="1.00" height="11.60" fill="#c7a43b"/>
<rect x="745.27" y="434.34" width="0.80" height="11.60" fill="#a8a551"/>
<rect x="746.90" y="434.34" width="1.00" height="11.60" fill="#6f9544"/>
<rect x="748.74" y="434.34" width="0.80" height="11.60" fill="#8c9d4e"/>
<rect x="750.63" y="434.34" width="0.80" height="11.60" fill="#ff9800"/>
<rect x="753.25" y="434.34" width="1.20" height="11.60" fill="#c7a43b"/>
<rect x="755.77" y="434.34" width="0.80" height="11.60" fill="#c7a43b"/>
<rect x="757.68" y="434.34" width="0.60" height="11.60" fill="#c7a43b"/>
<rect x="759.40" y="434.34" width="1.00" height="11.60" fill="#a8a551"/>
<rect x="762.13" y="434.34" width="0.80" height="11.60" fill="#ff9800"/>
<rect x="764.03" y="434.34" width="0.80" height="11.60" fill="#c7a43b"/>
<rect x="766.13" y="434.34" width="1.20" height="11.60" fill="#c7a43b"/>
<rect x="769.46" y="434.34" width="0.60" height="11.60" fill="#a8a551"/>
<rect x="770.81" y="434.34" width="1.20" height="11.60" fill="#6f9544"/>
<rect x="773.45" y="434.34" width="0.60" height="11.60" fill="#c7a43b"/>
<rect x="816.80" y="434.34" width="1.40" height="11.60" fill="#2f7d32"/>
<rect x="828.90" y="434.34" width="1.80" height="11.60" fill="#2f7d32"/>
<rect x="838.10" y="434.34" width="59.80" height="11.60" fill="#2f7d32"/>
<text transform="translate(868.00,443.44) scale(0.79,1)" font-size="10" fill="#fff" text-anchor="middle" font-weight="700">Running</text>
<rect x="911.80" y="434.34" width="1.50" height="11.60" fill="#2f7d32"/>
<rect x="943.80" y="434.34" width="5.40" height="11.60" fill="#2f7d32"/>
<rect x="973.20" y="434.34" width="8.00" height="11.60" fill="#2f7d32"/>
<rect x="1007.20" y="434.34" width="3.90" height="11.60" fill="#2f7d32"/>
<rect x="1130.90" y="434.34" width="3.50" height="11.60" fill="#2f7d32"/>
<rect x="1137.40" y="434.34" width="9.50" height="11.60" fill="#2f7d32"/>
<rect x="1169.70" y="434.34" width="1.70" height="11.60" fill="#2f7d32"/>
<rect x="1215.60" y="434.34" width="2.90" height="11.60" fill="#2f7d32"/>
<rect x="1220.30" y="434.34" width="8.60" height="11.60" fill="#2f7d32"/>
<rect x="1255.30" y="434.34" width="2.30" height="11.60" fill="#2f7d32"/>
<rect x="1342.70" y="434.34" width="3.20" height="11.60" fill="#2f7d32"/>
<rect x="1348.60" y="434.34" width="6.50" height="11.60" fill="#2f7d32"/>
<rect x="1380.00" y="434.34" width="2.00" height="11.60" fill="#2f7d32"/>
<rect x="1422.90" y="434.34" width="3.00" height="11.60" fill="#2f7d32"/>
<rect x="1428.30" y="434.34" width="6.80" height="11.60" fill="#2f7d32"/>
<rect x="1460.20" y="434.34" width="2.10" height="11.60" fill="#2f7d32"/>
<rect x="1497.10" y="434.34" width="3.80" height="11.60" fill="#2f7d32"/>
<rect x="1503.60" y="434.34" width="6.50" height="11.60" fill="#2f7d32"/>
<rect x="1533.20" y="434.34" width="1.80" height="11.60" fill="#2f7d32"/>
<rect x="1570.30" y="434.34" width="2.60" height="11.60" fill="#2f7d32"/>
<rect x="1575.60" y="434.34" width="6.80" height="11.60" fill="#2f7d32"/>
<rect x="1607.30" y="434.34" width="2.10" height="11.60" fill="#2f7d32"/>
<rect x="1655.90" y="434.34" width="3.20" height="11.60" fill="#2f7d32"/>
<rect x="1662.10" y="434.34" width="7.10" height="11.60" fill="#2f7d32"/>
<rect x="1709.20" y="434.34" width="1.80" height="11.60" fill="#2f7d32"/>
<rect x="1736.10" y="434.34" width="6.60" height="11.60" fill="#2f7d32"/>
<rect x="1762.80" y="434.34" width="2.10" height="11.60" fill="#2f7d32"/>
<rect x="1910.10" y="434.34" width="10.40" height="11.60" fill="#2f7d32"/>
<rect x="1920.50" y="434.34" width="10.10" height="11.60" fill="#2f7d32"/>
<rect x="1948.60" y="434.34" width="7.40" height="11.60" fill="#2f7d32"/>
<rect x="1957.20" y="434.34" width="1.80" height="11.60" fill="#2f7d32"/>
<rect x="1966.10" y="434.34" width="5.60" height="11.60" fill="#2f7d32"/>
<rect x="1989.80" y="434.34" width="1.80" height="11.60" fill="#2f7d32"/>
<rect x="2036.00" y="434.34" width="2.40" height="11.60" fill="#2f7d32"/>
<rect x="2044.00" y="434.34" width="2.10" height="11.60" fill="#2f7d32"/>
<rect x="2047.30" y="434.34" width="2.30" height="11.60" fill="#2f7d32"/>
<rect x="2054.70" y="434.34" width="4.40" height="11.60" fill="#2f7d32"/>
<rect x="2060.60" y="434.34" width="5.00" height="11.60" fill="#2f7d32"/>
<rect x="2107.10" y="434.34" width="6.50" height="11.60" fill="#2f7d32"/>
<rect x="2117.50" y="434.34" width="1.50" height="11.60" fill="#2f7d32"/>
<rect x="2124.30" y="434.34" width="1.50" height="11.60" fill="#2f7d32"/>
<rect x="2131.10" y="434.34" width="1.60" height="11.60" fill="#2f7d32"/>
<rect x="2133.30" y="434.34" width="1.70" height="11.60" fill="#2f7d32"/>
<rect x="2177.90" y="434.34" width="5.90" height="11.60" fill="#2f7d32"/>
<rect x="2185.60" y="434.34" width="2.10" height="11.60" fill="#2f7d32"/>
<rect x="2192.40" y="434.34" width="1.80" height="11.60" fill="#2f7d32"/>
<rect x="2199.80" y="434.34" width="1.70" height="11.60" fill="#2f7d32"/>
<rect x="2202.00" y="434.34" width="1.70" height="11.60" fill="#2f7d32"/>
<rect x="2250.20" y="434.34" width="2.90" height="11.60" fill="#2f7d32"/>
<rect x="2254.60" y="434.34" width="6.50" height="11.60" fill="#2f7d32"/>
<rect x="2262.60" y="434.34" width="2.10" height="11.60" fill="#2f7d32"/>
<rect x="2269.40" y="434.34" width="1.80" height="11.60" fill="#2f7d32"/>
<rect x="2276.50" y="434.34" width="1.50" height="11.60" fill="#2f7d32"/>
<rect x="2278.60" y="434.34" width="1.50" height="11.60" fill="#2f7d32"/>
<rect x="565.80" y="434.34" width="9.30" height="11.60" fill="#ff9800"/>
<text transform="translate(570.40,443.94) scale(0.9,1)" font-size="10" fill="#fff" text-anchor="middle" font-weight="700">U</text>
<rect x="261.80" y="452.41" width="1.80" height="11.60" fill="#2f7d32"/>
<rect x="271.30" y="452.41" width="8.60" height="11.60" fill="#2f7d32"/>
<rect x="561.70" y="452.41" width="10.80" height="11.60" fill="#2f7d32"/>
<rect x="572.50" y="452.41" width="196.50" height="11.60" fill="#2f7d32"/>
<rect x="574.39" y="452.41" width="1.20" height="11.60" fill="#7aae7c"/>
<rect x="578.96" y="452.41" width="0.60" height="11.60" fill="#5c9a5e"/>
<rect x="582.60" y="452.41" width="0.60" height="11.60" fill="#4a8f4d"/>
<rect x="588.16" y="452.41" width="1.20" height="11.60" fill="#5c9a5e"/>
<rect x="593.79" y="452.41" width="0.60" height="11.60" fill="#5c9a5e"/>
<rect x="599.62" y="452.41" width="0.80" height="11.60" fill="#4a8f4d"/>
<rect x="606.14" y="452.41" width="1.00" height="11.60" fill="#5c9a5e"/>
<rect x="611.84" y="452.41" width="1.20" height="11.60" fill="#4a8f4d"/>
<rect x="618.21" y="452.41" width="0.60" height="11.60" fill="#5c9a5e"/>
<rect x="622.36" y="452.41" width="0.80" height="11.60" fill="#7aae7c"/>
<rect x="626.57" y="452.41" width="0.60" height="11.60" fill="#5c9a5e"/>
<rect x="631.56" y="452.41" width="1.20" height="11.60" fill="#7aae7c"/>
<rect x="638.61" y="452.41" width="0.80" height="11.60" fill="#7aae7c"/>
<rect x="643.75" y="452.41" width="0.80" height="11.60" fill="#5c9a5e"/>
<rect x="650.42" y="452.41" width="1.00" height="11.60" fill="#5c9a5e"/>
<rect x="653.99" y="452.41" width="1.20" height="11.60" fill="#4a8f4d"/>
<rect x="659.96" y="452.41" width="0.60" height="11.60" fill="#7aae7c"/>
<rect x="663.85" y="452.41" width="1.20" height="11.60" fill="#7aae7c"/>
<rect x="668.35" y="452.41" width="0.60" height="11.60" fill="#4a8f4d"/>
<rect x="672.63" y="452.41" width="1.20" height="11.60" fill="#7aae7c"/>
<rect x="678.72" y="452.41" width="0.80" height="11.60" fill="#5c9a5e"/>
<rect x="684.81" y="452.41" width="0.60" height="11.60" fill="#5c9a5e"/>
<rect x="689.65" y="452.41" width="0.80" height="11.60" fill="#7aae7c"/>
<rect x="695.63" y="452.41" width="0.80" height="11.60" fill="#5c9a5e"/>
<rect x="700.55" y="452.41" width="1.00" height="11.60" fill="#7aae7c"/>
<rect x="704.44" y="452.41" width="1.20" height="11.60" fill="#4a8f4d"/>
<rect x="708.79" y="452.41" width="0.80" height="11.60" fill="#7aae7c"/>
<rect x="713.55" y="452.41" width="0.60" height="11.60" fill="#4a8f4d"/>
<rect x="717.16" y="452.41" width="1.20" height="11.60" fill="#5c9a5e"/>
<rect x="721.61" y="452.41" width="0.80" height="11.60" fill="#7aae7c"/>
<rect x="725.09" y="452.41" width="0.60" height="11.60" fill="#5c9a5e"/>
<rect x="729.57" y="452.41" width="1.00" height="11.60" fill="#4a8f4d"/>
<rect x="733.46" y="452.41" width="0.60" height="11.60" fill="#5c9a5e"/>
<rect x="737.71" y="452.41" width="0.80" height="11.60" fill="#4a8f4d"/>
<rect x="744.29" y="452.41" width="1.20" height="11.60" fill="#5c9a5e"/>
<rect x="749.08" y="452.41" width="1.20" height="11.60" fill="#7aae7c"/>
<rect x="756.23" y="452.41" width="1.20" height="11.60" fill="#5c9a5e"/>
<rect x="760.31" y="452.41" width="0.60" height="11.60" fill="#7aae7c"/>
<rect x="763.69" y="452.41" width="1.20" height="11.60" fill="#5c9a5e"/>
<rect x="769.60" y="452.41" width="7.20" height="11.60" fill="#2f7d32"/>
<rect x="771.24" y="452.41" width="1.20" height="11.60" fill="#7aae7c"/>
<rect x="793.30" y="452.41" width="2.70" height="11.60" fill="#a5c8a6"/>
<rect x="814.40" y="452.41" width="15.40" height="11.60" fill="#2f7d32"/>
<text transform="translate(822.10,461.51) scale(0.79,1)" font-size="10" fill="#fff" text-anchor="middle" font-weight="700">R<tspan letter-spacing="-0.07em">...</tspan></text>
<rect x="975.20" y="452.41" width="8.00" height="11.60" fill="#2f7d32"/>
<rect x="983.20" y="452.41" width="14.00" height="11.60" fill="#2f7d32"/>
<text transform="translate(990.20,461.51) scale(0.79,1)" font-size="10" fill="#fff" text-anchor="middle" font-weight="700">R<tspan letter-spacing="-0.07em">...</tspan></text>
<rect x="999.50" y="452.41" width="8.90" height="11.60" fill="#2f7d32"/>
<rect x="1008.40" y="452.41" width="10.40" height="11.60" fill="#2f7d32"/>
<rect x="1311.00" y="452.41" width="8.80" height="11.60" fill="#2f7d32"/>
<rect x="1619.10" y="452.41" width="8.00" height="11.60" fill="#2f7d32"/>
<rect x="1707.70" y="452.41" width="3.80" height="11.60" fill="#2f7d32"/>
<rect x="1730.20" y="452.41" width="2.70" height="11.60" fill="#2f7d32"/>
<rect x="1741.50" y="452.41" width="2.60" height="11.60" fill="#2f7d32"/>
<rect x="1745.30" y="452.41" width="2.40" height="11.60" fill="#2f7d32"/>
<rect x="1752.70" y="452.41" width="2.10" height="11.60" fill="#2f7d32"/>
<rect x="1761.00" y="452.41" width="3.00" height="11.60" fill="#2f7d32"/>
<rect x="1790.00" y="452.41" width="124.00" height="11.60" fill="#2f7d32"/>
<text transform="translate(1852.00,461.51) scale(0.79,1)" font-size="10" fill="#fff" text-anchor="middle" font-weight="700">Running</text>
<rect x="1914.00" y="452.41" width="8.60" height="11.60" fill="#2f7d32"/>
<rect x="1915.96" y="452.41" width="0.70" height="11.60" fill="#6fa671"/>
<rect x="1917.70" y="452.41" width="0.70" height="11.60" fill="#4a8f4d"/>
<rect x="1920.06" y="452.41" width="0.70" height="11.60" fill="#6fa671"/>
<rect x="1930.60" y="452.41" width="2.30" height="11.60" fill="#2f7d32"/>
<rect x="1935.00" y="452.41" width="2.10" height="11.60" fill="#2f7d32"/>
<rect x="1948.00" y="452.41" width="1.80" height="11.60" fill="#2f7d32"/>
<rect x="1956.00" y="452.41" width="11.90" height="11.60" fill="#2f7d32"/>
<rect x="1958.17" y="452.41" width="0.70" height="11.60" fill="#6fa671"/>
<rect x="1960.35" y="452.41" width="0.70" height="11.60" fill="#6fa671"/>
<rect x="1962.00" y="452.41" width="0.70" height="11.60" fill="#6fa671"/>
<rect x="1964.00" y="452.41" width="0.70" height="11.60" fill="#4a8f4d"/>
<rect x="1966.82" y="452.41" width="0.70" height="11.60" fill="#5c9a5e"/>
<rect x="1969.10" y="452.41" width="2.30" height="11.60" fill="#2f7d32"/>
<rect x="1972.60" y="452.41" width="1.80" height="11.60" fill="#2f7d32"/>
<rect x="1975.00" y="452.41" width="1.80" height="11.60" fill="#2f7d32"/>
<rect x="1980.60" y="452.41" width="1.80" height="11.60" fill="#2f7d32"/>
<rect x="1988.00" y="452.41" width="3.30" height="11.60" fill="#2f7d32"/>
<rect x="2030.10" y="452.41" width="14.80" height="11.60" fill="#2f7d32"/>
<rect x="2032.30" y="452.41" width="0.70" height="11.60" fill="#5c9a5e"/>
<rect x="2034.31" y="452.41" width="0.70" height="11.60" fill="#4a8f4d"/>
<rect x="2036.01" y="452.41" width="0.70" height="11.60" fill="#4a8f4d"/>
<rect x="2038.15" y="452.41" width="0.70" height="11.60" fill="#6fa671"/>
<rect x="2040.29" y="452.41" width="0.70" height="11.60" fill="#4a8f4d"/>
<rect x="2041.96" y="452.41" width="0.70" height="11.60" fill="#4a8f4d"/>
<rect x="2064.20" y="452.41" width="1.70" height="11.60" fill="#2f7d32"/>
<rect x="2103.30" y="452.41" width="5.90" height="11.60" fill="#2f7d32"/>
<rect x="2171.40" y="452.41" width="7.70" height="11.60" fill="#2f7d32"/>
<rect x="2251.70" y="452.41" width="5.00" height="11.60" fill="#2f7d32"/>
<rect x="2273.60" y="452.41" width="8.00" height="11.60" fill="#2f7d32"/>
<text transform="translate(567.00,461.51) scale(0.79,1)" font-size="10" fill="#fff" text-anchor="middle" font-weight="700">R</text>
<rect x="256.50" y="488.55" width="279.00" height="11.60" fill="#2f7d32"/>
<text transform="translate(396.00,497.65) scale(0.79,1)" font-size="10" fill="#fff" text-anchor="middle" font-weight="700">Running</text>
<rect x="839.00" y="488.55" width="5.60" height="11.60" fill="#2f7d32"/>
<rect x="849.00" y="488.55" width="26.70" height="11.60" fill="#2f7d32"/>
<text transform="translate(862.35,497.65) scale(0.79,1)" font-size="10" fill="#fff" text-anchor="middle" font-weight="700">Run<tspan letter-spacing="-0.07em">...</tspan></text>
<rect x="884.00" y="488.55" width="6.20" height="11.60" fill="#2f7d32"/>
<rect x="897.60" y="488.55" width="6.20" height="11.60" fill="#2f7d32"/>
<rect x="911.80" y="488.55" width="6.00" height="11.60" fill="#2f7d32"/>
<rect x="926.70" y="488.55" width="4.10" height="11.60" fill="#2f7d32"/>
<rect x="934.90" y="488.55" width="25.50" height="11.60" fill="#2f7d32"/>
<text transform="translate(947.65,497.65) scale(0.79,1)" font-size="10" fill="#fff" text-anchor="middle" font-weight="700">Run<tspan letter-spacing="-0.07em">...</tspan></text>
<rect x="968.10" y="488.55" width="6.80" height="11.60" fill="#2f7d32"/>
<rect x="981.80" y="488.55" width="21.30" height="11.60" fill="#2f7d32"/>
<text transform="translate(992.45,497.65) scale(0.79,1)" font-size="10" fill="#fff" text-anchor="middle" font-weight="700">Ru<tspan letter-spacing="-0.07em">...</tspan></text>
<rect x="1009.30" y="488.55" width="16.00" height="11.60" fill="#2f7d32"/>
<text transform="translate(1017.30,497.65) scale(0.79,1)" font-size="10" fill="#fff" text-anchor="middle" font-weight="700">R<tspan letter-spacing="-0.07em">...</tspan></text>
<rect x="1033.90" y="488.55" width="3.50" height="11.60" fill="#2f7d32"/>
<rect x="1041.30" y="488.55" width="26.50" height="11.60" fill="#2f7d32"/>
<text transform="translate(1054.55,497.65) scale(0.79,1)" font-size="10" fill="#fff" text-anchor="middle" font-weight="700">Run<tspan letter-spacing="-0.07em">...</tspan></text>
<rect x="1076.70" y="488.55" width="6.80" height="11.60" fill="#2f7d32"/>
<rect x="1090.60" y="488.55" width="7.40" height="11.60" fill="#2f7d32"/>
<rect x="1107.20" y="488.55" width="6.80" height="11.60" fill="#2f7d32"/>
<rect x="1122.90" y="488.55" width="4.70" height="11.60" fill="#2f7d32"/>
<rect x="1130.90" y="488.55" width="24.30" height="11.60" fill="#2f7d32"/>
<text transform="translate(1143.05,497.65) scale(0.79,1)" font-size="10" fill="#fff" text-anchor="middle" font-weight="700">Ru<tspan letter-spacing="-0.07em">...</tspan></text>
<rect x="1162.60" y="488.55" width="7.40" height="11.60" fill="#2f7d32"/>
<rect x="1178.00" y="488.55" width="6.50" height="11.60" fill="#2f7d32"/>
<rect x="1192.80" y="488.55" width="6.50" height="11.60" fill="#2f7d32"/>
<rect x="1208.20" y="488.55" width="4.70" height="11.60" fill="#2f7d32"/>
<rect x="1216.20" y="488.55" width="27.80" height="11.60" fill="#2f7d32"/>
<text transform="translate(1230.10,497.65) scale(0.79,1)" font-size="10" fill="#fff" text-anchor="middle" font-weight="700">Run<tspan letter-spacing="-0.07em">...</tspan></text>
<rect x="1250.80" y="488.55" width="22.20" height="11.60" fill="#2f7d32"/>
<text transform="translate(1261.90,497.65) scale(0.79,1)" font-size="10" fill="#fff" text-anchor="middle" font-weight="700">Ru<tspan letter-spacing="-0.07em">...</tspan></text>
<rect x="1281.90" y="488.55" width="20.20" height="11.60" fill="#2f7d32"/>
<text transform="translate(1292.00,497.65) scale(0.79,1)" font-size="10" fill="#fff" text-anchor="middle" font-weight="700">Ru<tspan letter-spacing="-0.07em">...</tspan></text>
<rect x="1311.00" y="488.55" width="15.70" height="11.60" fill="#2f7d32"/>
<text transform="translate(1318.85,497.65) scale(0.79,1)" font-size="10" fill="#fff" text-anchor="middle" font-weight="700">R<tspan letter-spacing="-0.07em">...</tspan></text>
<rect x="1335.50" y="488.55" width="4.80" height="11.60" fill="#2f7d32"/>
<rect x="1343.80" y="488.55" width="25.50" height="11.60" fill="#2f7d32"/>
<text transform="translate(1356.55,497.65) scale(0.79,1)" font-size="10" fill="#fff" text-anchor="middle" font-weight="700">Run<tspan letter-spacing="-0.07em">...</tspan></text>
<rect x="1375.80" y="488.55" width="7.40" height="11.60" fill="#2f7d32"/>
<rect x="1594.30" y="488.55" width="5.00" height="11.60" fill="#2f7d32"/>
<rect x="2108.90" y="488.55" width="96.00" height="11.60" fill="#2f7d32"/>
<text transform="translate(2156.90,497.65) scale(0.79,1)" font-size="10" fill="#fff" text-anchor="middle" font-weight="700">Running</text>
<rect x="2312.70" y="488.55" width="6.20" height="11.60" fill="#2f7d32"/>
<rect x="276.70" y="506.62" width="47.90" height="11.60" fill="#2f7d32"/>
<text transform="translate(300.65,515.72) scale(0.79,1)" font-size="10" fill="#fff" text-anchor="middle" font-weight="700">Running</text>
<rect x="361.40" y="506.62" width="11.50" height="11.60" fill="#2f7d32"/>
<text transform="translate(367.15,515.72) scale(0.79,1)" font-size="10" fill="#fff" text-anchor="middle" font-weight="700">R</text>
<rect x="407.90" y="506.62" width="10.90" height="11.60" fill="#2f7d32"/>
<text transform="translate(413.35,515.72) scale(0.79,1)" font-size="10" fill="#fff" text-anchor="middle" font-weight="700">R</text>
<rect x="454.40" y="506.62" width="10.60" height="11.60" fill="#2f7d32"/>
<text transform="translate(459.70,515.72) scale(0.79,1)" font-size="10" fill="#fff" text-anchor="middle" font-weight="700">R</text>
<rect x="498.20" y="506.62" width="5.60" height="11.60" fill="#2f7d32"/>
<rect x="527.80" y="506.62" width="33.20" height="11.60" fill="#2f7d32"/>
<text transform="translate(544.40,515.72) scale(0.79,1)" font-size="10" fill="#fff" text-anchor="middle" font-weight="700">Runn<tspan letter-spacing="-0.07em">...</tspan></text>
<rect x="573.80" y="506.62" width="7.40" height="11.60" fill="#2f7d32"/>
<rect x="589.20" y="506.62" width="23.70" height="11.60" fill="#2f7d32"/>
<text transform="translate(601.05,515.72) scale(0.79,1)" font-size="10" fill="#fff" text-anchor="middle" font-weight="700">Ru<tspan letter-spacing="-0.07em">...</tspan></text>
<rect x="619.40" y="506.62" width="19.80" height="11.60" fill="#2f7d32"/>
<text transform="translate(629.30,515.72) scale(0.79,1)" font-size="10" fill="#fff" text-anchor="middle" font-weight="700">Ru<tspan letter-spacing="-0.07em">...</tspan></text>
<rect x="646.30" y="506.62" width="4.20" height="11.60" fill="#2f7d32"/>
<rect x="654.10" y="506.62" width="26.70" height="11.60" fill="#2f7d32"/>
<text transform="translate(667.45,515.72) scale(0.79,1)" font-size="10" fill="#fff" text-anchor="middle" font-weight="700">Run<tspan letter-spacing="-0.07em">...</tspan></text>
<rect x="688.80" y="506.62" width="6.80" height="11.60" fill="#2f7d32"/>
<rect x="702.40" y="506.62" width="6.50" height="11.60" fill="#2f7d32"/>
<rect x="716.40" y="506.62" width="6.20" height="11.60" fill="#2f7d32"/>
<rect x="730.00" y="506.62" width="4.00" height="11.60" fill="#2f7d32"/>
<rect x="738.00" y="506.62" width="24.60" height="11.60" fill="#2f7d32"/>
<text transform="translate(750.30,515.72) scale(0.79,1)" font-size="10" fill="#fff" text-anchor="middle" font-weight="700">Ru<tspan letter-spacing="-0.07em">...</tspan></text>
<rect x="769.40" y="506.62" width="6.20" height="11.60" fill="#2f7d32"/>
<rect x="783.30" y="506.62" width="15.10" height="11.60" fill="#2f7d32"/>
<text transform="translate(790.85,515.72) scale(0.79,1)" font-size="10" fill="#fff" text-anchor="middle" font-weight="700">R<tspan letter-spacing="-0.07em">...</tspan></text>
<rect x="805.20" y="506.62" width="23.40" height="11.60" fill="#2f7d32"/>
<text transform="translate(816.90,515.72) scale(0.79,1)" font-size="10" fill="#fff" text-anchor="middle" font-weight="700">Ru<tspan letter-spacing="-0.07em">...</tspan></text>
<rect x="829.50" y="506.62" width="11.30" height="11.60" fill="#2f7d32"/>
<text transform="translate(835.15,515.72) scale(0.79,1)" font-size="10" fill="#fff" text-anchor="middle" font-weight="700">R</text>
<rect x="1123.50" y="506.62" width="1.70" height="11.60" fill="#2f7d32"/>
<rect x="1227.10" y="506.62" width="1.50" height="11.60" fill="#a5c8a6"/>
<rect x="1243.70" y="506.62" width="5.40" height="11.60" fill="#2f7d32"/>
<rect x="1389.80" y="506.62" width="8.00" height="11.60" fill="#2f7d32"/>
<rect x="1402.80" y="506.62" width="6.20" height="11.60" fill="#2f7d32"/>
<rect x="1416.40" y="506.62" width="4.50" height="11.60" fill="#2f7d32"/>
<rect x="1423.20" y="506.62" width="24.60" height="11.60" fill="#2f7d32"/>
<text transform="translate(1435.50,515.72) scale(0.79,1)" font-size="10" fill="#fff" text-anchor="middle" font-weight="700">Ru<tspan letter-spacing="-0.07em">...</tspan></text>
<rect x="1454.60" y="506.62" width="7.20" height="11.60" fill="#2f7d32"/>
<rect x="1466.90" y="506.62" width="6.20" height="11.60" fill="#2f7d32"/>
<rect x="1478.70" y="506.62" width="6.30" height="11.60" fill="#2f7d32"/>
<rect x="1490.00" y="506.62" width="4.70" height="11.60" fill="#2f7d32"/>
<rect x="1497.40" y="506.62" width="26.70" height="11.60" fill="#2f7d32"/>
<text transform="translate(1510.75,515.72) scale(0.79,1)" font-size="10" fill="#fff" text-anchor="middle" font-weight="700">Run<tspan letter-spacing="-0.07em">...</tspan></text>
<rect x="1530.60" y="506.62" width="6.20" height="11.60" fill="#2f7d32"/>
<rect x="1541.20" y="506.62" width="7.10" height="11.60" fill="#2f7d32"/>
<rect x="1553.10" y="506.62" width="6.50" height="11.60" fill="#2f7d32"/>
<rect x="1564.30" y="506.62" width="3.60" height="11.60" fill="#2f7d32"/>
<rect x="1571.20" y="506.62" width="24.20" height="11.60" fill="#2f7d32"/>
<text transform="translate(1583.30,515.72) scale(0.79,1)" font-size="10" fill="#fff" text-anchor="middle" font-weight="700">Ru<tspan letter-spacing="-0.07em">...</tspan></text>
<rect x="1599.30" y="506.62" width="15.10" height="11.60" fill="#2f7d32"/>
<text transform="translate(1606.85,515.72) scale(0.79,1)" font-size="10" fill="#fff" text-anchor="middle" font-weight="700">R<tspan letter-spacing="-0.07em">...</tspan></text>
<rect x="1619.10" y="506.62" width="13.80" height="11.60" fill="#2f7d32"/>
<text transform="translate(1626.00,515.72) scale(0.79,1)" font-size="10" fill="#fff" text-anchor="middle" font-weight="700">R</text>
<rect x="1638.10" y="506.62" width="6.20" height="11.60" fill="#2f7d32"/>
<rect x="1649.00" y="506.62" width="4.80" height="11.60" fill="#2f7d32"/>
<rect x="1656.50" y="506.62" width="26.00" height="11.60" fill="#2f7d32"/>
<text transform="translate(1669.50,515.72) scale(0.79,1)" font-size="10" fill="#fff" text-anchor="middle" font-weight="700">Run<tspan letter-spacing="-0.07em">...</tspan></text>
<rect x="1688.70" y="506.62" width="7.40" height="11.60" fill="#2f7d32"/>
<rect x="1701.20" y="506.62" width="6.80" height="11.60" fill="#2f7d32"/>
<rect x="1712.10" y="506.62" width="6.90" height="11.60" fill="#2f7d32"/>
<rect x="1724.00" y="506.62" width="3.80" height="11.60" fill="#2f7d32"/>
<rect x="1730.50" y="506.62" width="24.00" height="11.60" fill="#2f7d32"/>
<text transform="translate(1742.50,515.72) scale(0.79,1)" font-size="10" fill="#fff" text-anchor="middle" font-weight="700">Ru<tspan letter-spacing="-0.07em">...</tspan></text>
<rect x="1760.10" y="506.62" width="6.50" height="11.60" fill="#2f7d32"/>
<rect x="1771.70" y="506.62" width="7.10" height="11.60" fill="#2f7d32"/>
<rect x="1783.80" y="506.62" width="7.10" height="11.60" fill="#2f7d32"/>
<rect x="1795.70" y="506.62" width="3.80" height="11.60" fill="#2f7d32"/>
<rect x="1801.60" y="506.62" width="24.30" height="11.60" fill="#2f7d32"/>
<text transform="translate(1813.75,515.72) scale(0.79,1)" font-size="10" fill="#fff" text-anchor="middle" font-weight="700">Run<tspan letter-spacing="-0.07em">...</tspan></text>
<rect x="1832.40" y="506.62" width="6.20" height="11.60" fill="#2f7d32"/>
<rect x="1844.00" y="506.62" width="6.50" height="11.60" fill="#2f7d32"/>
<rect x="1855.20" y="506.62" width="6.70" height="11.60" fill="#2f7d32"/>
<rect x="1866.90" y="506.62" width="4.40" height="11.60" fill="#2f7d32"/>
<rect x="1873.70" y="506.62" width="24.30" height="11.60" fill="#2f7d32"/>
<text transform="translate(1885.85,515.72) scale(0.79,1)" font-size="10" fill="#fff" text-anchor="middle" font-weight="700">Run<tspan letter-spacing="-0.07em">...</tspan></text>
<rect x="1903.90" y="506.62" width="6.50" height="11.60" fill="#2f7d32"/>
<rect x="1914.90" y="506.62" width="10.30" height="11.60" fill="#2f7d32"/>
<text transform="translate(1920.05,515.72) scale(0.79,1)" font-size="10" fill="#fff" text-anchor="middle" font-weight="700">R</text>
<rect x="1930.30" y="506.62" width="12.70" height="11.60" fill="#2f7d32"/>
<text transform="translate(1936.65,515.72) scale(0.79,1)" font-size="10" fill="#fff" text-anchor="middle" font-weight="700">R</text>
<rect x="1949.20" y="506.62" width="7.40" height="11.60" fill="#2f7d32"/>
<rect x="1959.60" y="506.62" width="24.30" height="11.60" fill="#2f7d32"/>
<text transform="translate(1971.75,515.72) scale(0.79,1)" font-size="10" fill="#fff" text-anchor="middle" font-weight="700">Run<tspan letter-spacing="-0.07em">...</tspan></text>
<rect x="1989.20" y="506.62" width="6.20" height="11.60" fill="#2f7d32"/>
<rect x="2000.50" y="506.62" width="6.20" height="11.60" fill="#2f7d32"/>
<rect x="2012.00" y="506.62" width="6.20" height="11.60" fill="#2f7d32"/>
<rect x="2023.30" y="506.62" width="3.80" height="11.60" fill="#2f7d32"/>
<rect x="2030.70" y="506.62" width="24.00" height="11.60" fill="#2f7d32"/>
<text transform="translate(2042.70,515.72) scale(0.79,1)" font-size="10" fill="#fff" text-anchor="middle" font-weight="700">Ru<tspan letter-spacing="-0.07em">...</tspan></text>
<rect x="2060.00" y="506.62" width="6.50" height="11.60" fill="#2f7d32"/>
<rect x="2071.90" y="506.62" width="6.50" height="11.60" fill="#2f7d32"/>
<rect x="2083.40" y="506.62" width="6.20" height="11.60" fill="#2f7d32"/>
<rect x="2095.00" y="506.62" width="3.80" height="11.60" fill="#2f7d32"/>
<rect x="2101.80" y="506.62" width="24.90" height="11.60" fill="#2f7d32"/>
<text transform="translate(2114.25,515.72) scale(0.79,1)" font-size="10" fill="#fff" text-anchor="middle" font-weight="700">Run<tspan letter-spacing="-0.07em">...</tspan></text>
<rect x="2131.40" y="506.62" width="6.20" height="11.60" fill="#2f7d32"/>
<rect x="2142.70" y="506.62" width="6.50" height="11.60" fill="#2f7d32"/>
<rect x="2154.50" y="506.62" width="6.20" height="11.60" fill="#2f7d32"/>
<rect x="2165.80" y="506.62" width="3.80" height="11.60" fill="#2f7d32"/>
<rect x="2172.90" y="506.62" width="25.40" height="11.60" fill="#2f7d32"/>
<text transform="translate(2185.60,515.72) scale(0.79,1)" font-size="10" fill="#fff" text-anchor="middle" font-weight="700">Run<tspan letter-spacing="-0.07em">...</tspan></text>
<rect x="2203.10" y="506.62" width="8.60" height="11.60" fill="#2f7d32"/>
<rect x="2216.70" y="506.62" width="8.60" height="11.60" fill="#2f7d32"/>
<rect x="2230.30" y="506.62" width="6.80" height="11.60" fill="#2f7d32"/>
<rect x="2242.50" y="506.62" width="4.10" height="11.60" fill="#2f7d32"/>
<rect x="2249.90" y="506.62" width="22.80" height="11.60" fill="#2f7d32"/>
<text transform="translate(2261.30,515.72) scale(0.79,1)" font-size="10" fill="#fff" text-anchor="middle" font-weight="700">Ru<tspan letter-spacing="-0.07em">...</tspan></text>
<rect x="2278.30" y="506.62" width="11.60" height="11.60" fill="#2f7d32"/>
<text transform="translate(2284.10,515.72) scale(0.79,1)" font-size="10" fill="#fff" text-anchor="middle" font-weight="700">R</text>
<rect x="2294.60" y="506.62" width="13.30" height="11.60" fill="#2f7d32"/>
<text transform="translate(2301.25,515.72) scale(0.79,1)" font-size="10" fill="#fff" text-anchor="middle" font-weight="700">R</text>
<rect x="2313.00" y="506.62" width="8.90" height="11.60" fill="#2f7d32"/>
<rect x="840.60" y="506.62" width="205.40" height="11.60" fill="#3f51b5"/>
<text transform="translate(943.30,515.72) scale(0.82,1)" font-size="10" fill="#fff" text-anchor="middle" font-weight="700">Exit (Zombie)</text>
<rect x="1046.00" y="506.62" width="8.70" height="11.60" fill="#2f7d32"/>
<rect x="2143.30" y="524.69" width="2.40" height="11.60" fill="#2f7d32"/>
<rect x="2251.20" y="524.69" width="1.30" height="11.60" fill="#2f7d32"/>
<rect x="259.90" y="572.20" width="2.60" height="11.60" fill="#99ba34"/>
<rect x="320.90" y="572.20" width="22.40" height="11.60" fill="#99ba34"/>
<text transform="translate(332.10,581.30) scale(0.79,1)" font-size="10" fill="#fff" text-anchor="middle" font-weight="700">Ru<tspan letter-spacing="-0.07em">...</tspan></text>
<rect x="370.40" y="572.20" width="22.10" height="11.60" fill="#99ba34"/>
<text transform="translate(381.45,581.30) scale(0.79,1)" font-size="10" fill="#fff" text-anchor="middle" font-weight="700">Ru<tspan letter-spacing="-0.07em">...</tspan></text>
<rect x="415.80" y="572.20" width="22.60" height="11.60" fill="#99ba34"/>
<text transform="translate(427.10,581.30) scale(0.79,1)" font-size="10" fill="#fff" text-anchor="middle" font-weight="700">Ru<tspan letter-spacing="-0.07em">...</tspan></text>
<rect x="462.50" y="572.20" width="22.10" height="11.60" fill="#99ba34"/>
<text transform="translate(473.55,581.30) scale(0.79,1)" font-size="10" fill="#fff" text-anchor="middle" font-weight="700">Ru<tspan letter-spacing="-0.07em">...</tspan></text>
<rect x="502.30" y="572.20" width="1.30" height="11.60" fill="#99ba34"/>
<rect x="557.90" y="572.20" width="1.90" height="11.60" fill="#99ba34"/>
<rect x="261.80" y="572.20" width="10.10" height="11.60" fill="#2f7d32"/>
<rect x="343.30" y="572.20" width="15.10" height="11.60" fill="#2f7d32"/>
<text transform="translate(350.85,581.30) scale(0.79,1)" font-size="10" fill="#fff" text-anchor="middle" font-weight="700">R<tspan letter-spacing="-0.07em">...</tspan></text>
<rect x="392.50" y="572.20" width="12.40" height="11.60" fill="#2f7d32"/>
<text transform="translate(398.70,581.30) scale(0.79,1)" font-size="10" fill="#fff" text-anchor="middle" font-weight="700">R</text>
<rect x="438.40" y="572.20" width="12.40" height="11.60" fill="#2f7d32"/>
<text transform="translate(444.60,581.30) scale(0.79,1)" font-size="10" fill="#fff" text-anchor="middle" font-weight="700">R</text>
<rect x="484.60" y="572.20" width="12.40" height="11.60" fill="#2f7d32"/>
<text transform="translate(490.80,581.30) scale(0.79,1)" font-size="10" fill="#fff" text-anchor="middle" font-weight="700">R</text>
<rect x="503.60" y="572.20" width="25.10" height="11.60" fill="#2f7d32"/>
<text transform="translate(516.15,581.30) scale(0.79,1)" font-size="10" fill="#fff" text-anchor="middle" font-weight="700">Run<tspan letter-spacing="-0.07em">...</tspan></text>
<rect x="559.80" y="572.20" width="14.00" height="11.60" fill="#2f7d32"/>
<text transform="translate(566.80,581.30) scale(0.79,1)" font-size="10" fill="#fff" text-anchor="middle" font-weight="700">R</text>
<rect x="580.30" y="572.20" width="8.30" height="11.60" fill="#2f7d32"/>
<rect x="610.80" y="572.20" width="8.00" height="11.60" fill="#2f7d32"/>
<rect x="638.30" y="572.20" width="8.00" height="11.60" fill="#2f7d32"/>
<rect x="649.90" y="572.20" width="4.50" height="11.60" fill="#2f7d32"/>
<rect x="680.20" y="572.20" width="8.60" height="11.60" fill="#2f7d32"/>
<rect x="694.70" y="572.20" width="7.70" height="11.60" fill="#2f7d32"/>
<rect x="708.40" y="572.20" width="8.00" height="11.60" fill="#2f7d32"/>
<rect x="722.30" y="572.20" width="7.70" height="11.60" fill="#2f7d32"/>
<rect x="733.20" y="572.20" width="4.80" height="11.60" fill="#2f7d32"/>
<rect x="761.10" y="572.20" width="8.60" height="11.60" fill="#2f7d32"/>
<rect x="774.70" y="572.20" width="8.60" height="11.60" fill="#2f7d32"/>
<rect x="795.10" y="572.20" width="8.90" height="11.60" fill="#2f7d32"/>
<rect x="828.00" y="572.20" width="8.30" height="11.60" fill="#2f7d32"/>
<rect x="844.00" y="572.20" width="5.00" height="11.60" fill="#2f7d32"/>
<rect x="874.20" y="572.20" width="8.90" height="11.60" fill="#2f7d32"/>
<rect x="889.60" y="572.20" width="7.40" height="11.60" fill="#2f7d32"/>
<rect x="903.00" y="572.20" width="8.30" height="11.60" fill="#2f7d32"/>
<rect x="917.20" y="572.20" width="8.30" height="11.60" fill="#2f7d32"/>
<rect x="929.90" y="572.20" width="4.50" height="11.60" fill="#2f7d32"/>
<rect x="959.80" y="572.20" width="8.00" height="11.60" fill="#2f7d32"/>
<rect x="974.10" y="572.20" width="7.70" height="11.60" fill="#2f7d32"/>
<rect x="1001.30" y="572.20" width="7.70" height="11.60" fill="#2f7d32"/>
<rect x="1024.70" y="572.20" width="7.70" height="11.60" fill="#2f7d32"/>
<rect x="1036.90" y="572.20" width="4.70" height="11.60" fill="#2f7d32"/>
<rect x="1066.60" y="572.20" width="9.50" height="11.60" fill="#2f7d32"/>
<rect x="1082.00" y="572.20" width="8.90" height="11.60" fill="#2f7d32"/>
<rect x="1097.40" y="572.20" width="8.60" height="11.60" fill="#2f7d32"/>
<rect x="1112.80" y="572.20" width="8.60" height="11.60" fill="#2f7d32"/>
<rect x="1126.10" y="572.20" width="4.80" height="11.60" fill="#2f7d32"/>
<rect x="1154.00" y="572.20" width="8.90" height="11.60" fill="#2f7d32"/>
<rect x="1168.80" y="572.20" width="8.00" height="11.60" fill="#2f7d32"/>
<rect x="1183.30" y="572.20" width="8.90" height="11.60" fill="#2f7d32"/>
<rect x="1197.80" y="572.20" width="9.20" height="11.60" fill="#2f7d32"/>
<rect x="1211.40" y="572.20" width="4.80" height="11.60" fill="#2f7d32"/>
<rect x="1242.80" y="572.20" width="8.30" height="11.60" fill="#2f7d32"/>
<rect x="1271.60" y="572.20" width="7.70" height="11.60" fill="#2f7d32"/>
<rect x="1300.30" y="572.20" width="8.90" height="11.60" fill="#2f7d32"/>
<rect x="1325.80" y="572.20" width="8.00" height="11.60" fill="#2f7d32"/>
<rect x="1338.80" y="572.20" width="5.00" height="11.60" fill="#2f7d32"/>
<rect x="1367.50" y="572.20" width="8.60" height="11.60" fill="#2f7d32"/>
<rect x="1382.00" y="572.20" width="8.00" height="11.60" fill="#2f7d32"/>
<rect x="1396.60" y="572.20" width="6.50" height="11.60" fill="#2f7d32"/>
<rect x="1408.70" y="572.20" width="6.50" height="11.60" fill="#2f7d32"/>
<rect x="1420.00" y="572.20" width="3.80" height="11.60" fill="#2f7d32"/>
<rect x="1446.60" y="572.20" width="7.00" height="11.60" fill="#2f7d32"/>
<rect x="1461.30" y="572.20" width="6.50" height="11.60" fill="#2f7d32"/>
<rect x="1472.80" y="572.20" width="5.90" height="11.60" fill="#2f7d32"/>
<rect x="1484.40" y="572.20" width="5.90" height="11.60" fill="#2f7d32"/>
<rect x="1494.10" y="572.20" width="3.60" height="11.60" fill="#2f7d32"/>
<rect x="1523.20" y="572.20" width="6.80" height="11.60" fill="#2f7d32"/>
<rect x="1535.90" y="572.20" width="5.90" height="11.60" fill="#2f7d32"/>
<rect x="1547.50" y="572.20" width="5.60" height="11.60" fill="#2f7d32"/>
<rect x="1558.10" y="572.20" width="6.80" height="11.60" fill="#2f7d32"/>
<rect x="1567.30" y="572.20" width="3.90" height="11.60" fill="#2f7d32"/>
<rect x="1594.00" y="572.20" width="6.20" height="11.60" fill="#2f7d32"/>
<rect x="1612.90" y="572.20" width="6.20" height="11.60" fill="#2f7d32"/>
<rect x="1631.90" y="572.20" width="6.50" height="11.60" fill="#2f7d32"/>
<rect x="1643.40" y="572.20" width="6.50" height="11.60" fill="#2f7d32"/>
<rect x="1652.90" y="572.20" width="3.90" height="11.60" fill="#2f7d32"/>
<rect x="1681.60" y="572.20" width="6.90" height="11.60" fill="#2f7d32"/>
<rect x="1695.30" y="572.20" width="5.90" height="11.60" fill="#2f7d32"/>
<rect x="1706.80" y="572.20" width="6.20" height="11.60" fill="#2f7d32"/>
<rect x="1718.10" y="572.20" width="5.90" height="11.60" fill="#2f7d32"/>
<rect x="1727.00" y="572.20" width="3.80" height="11.60" fill="#2f7d32"/>
<rect x="1753.90" y="572.20" width="6.20" height="11.60" fill="#2f7d32"/>
<rect x="1766.10" y="572.20" width="5.90" height="11.60" fill="#2f7d32"/>
<rect x="1777.90" y="572.20" width="5.90" height="11.60" fill="#2f7d32"/>
<rect x="1789.80" y="572.20" width="5.30" height="11.60" fill="#2f7d32"/>
<rect x="1798.00" y="572.20" width="3.90" height="11.60" fill="#2f7d32"/>
<rect x="1825.30" y="572.20" width="6.80" height="11.60" fill="#2f7d32"/>
<rect x="1838.30" y="572.20" width="6.00" height="11.60" fill="#2f7d32"/>
<rect x="1849.60" y="572.20" width="5.40" height="11.60" fill="#2f7d32"/>
<rect x="1861.00" y="572.20" width="5.60" height="11.60" fill="#2f7d32"/>
<rect x="1869.80" y="572.20" width="3.60" height="11.60" fill="#2f7d32"/>
<rect x="1897.40" y="572.20" width="6.50" height="11.60" fill="#2f7d32"/>
<rect x="1909.20" y="572.20" width="5.70" height="11.60" fill="#2f7d32"/>
<rect x="1923.80" y="572.20" width="5.30" height="11.60" fill="#2f7d32"/>
<rect x="1942.40" y="572.20" width="5.60" height="11.60" fill="#2f7d32"/>
<rect x="1955.20" y="572.20" width="3.80" height="11.60" fill="#2f7d32"/>
<rect x="1983.00" y="572.20" width="5.90" height="11.60" fill="#2f7d32"/>
<rect x="1994.50" y="572.20" width="6.30" height="11.60" fill="#2f7d32"/>
<rect x="2006.10" y="572.20" width="5.60" height="11.60" fill="#2f7d32"/>
<rect x="2017.70" y="572.20" width="5.60" height="11.60" fill="#2f7d32"/>
<rect x="2026.80" y="572.20" width="3.30" height="11.60" fill="#2f7d32"/>
<rect x="2053.50" y="572.20" width="6.50" height="11.60" fill="#2f7d32"/>
<rect x="2065.90" y="572.20" width="5.70" height="11.60" fill="#2f7d32"/>
<rect x="2077.50" y="572.20" width="5.60" height="11.60" fill="#2f7d32"/>
<rect x="2089.00" y="572.20" width="5.70" height="11.60" fill="#2f7d32"/>
<rect x="2098.20" y="572.20" width="3.30" height="11.60" fill="#2f7d32"/>
<rect x="2125.50" y="572.20" width="5.60" height="11.60" fill="#2f7d32"/>
<rect x="2137.00" y="572.20" width="5.40" height="11.60" fill="#2f7d32"/>
<rect x="2147.40" y="572.20" width="6.80" height="11.60" fill="#2f7d32"/>
<rect x="2159.80" y="572.20" width="6.00" height="11.60" fill="#2f7d32"/>
<rect x="2168.70" y="572.20" width="3.30" height="11.60" fill="#2f7d32"/>
<rect x="2196.90" y="572.20" width="6.20" height="11.60" fill="#2f7d32"/>
<rect x="2210.80" y="572.20" width="5.90" height="11.60" fill="#2f7d32"/>
<rect x="2224.40" y="572.20" width="5.90" height="11.60" fill="#2f7d32"/>
<rect x="2236.30" y="572.20" width="6.20" height="11.60" fill="#2f7d32"/>
<rect x="2246.60" y="572.20" width="3.00" height="11.60" fill="#2f7d32"/>
<rect x="2272.10" y="572.20" width="6.20" height="11.60" fill="#2f7d32"/>
<rect x="2289.00" y="572.20" width="5.90" height="11.60" fill="#2f7d32"/>
<rect x="2306.50" y="572.20" width="6.20" height="11.60" fill="#2f7d32"/>
<rect x="1065.60" y="572.20" width="1.20" height="11.60" fill="#99ba34"/>
<rect x="1096.40" y="572.20" width="1.30" height="11.60" fill="#99ba34"/>
<rect x="1241.60" y="572.20" width="1.50" height="11.60" fill="#99ba34"/>
<rect x="1270.30" y="572.20" width="1.60" height="11.60" fill="#99ba34"/>
<rect x="1395.90" y="572.20" width="1.20" height="11.60" fill="#99ba34"/>
<rect x="1460.40" y="572.20" width="1.20" height="11.60" fill="#99ba34"/>
<rect x="1520.90" y="572.20" width="2.50" height="11.60" fill="#99ba34"/>
<rect x="1680.20" y="572.20" width="1.70" height="11.60" fill="#99ba34"/>
<rect x="1694.30" y="572.20" width="1.30" height="11.60" fill="#99ba34"/>
<rect x="1824.10" y="572.20" width="1.40" height="11.60" fill="#99ba34"/>
<rect x="1896.40" y="572.20" width="1.30" height="11.60" fill="#99ba34"/>
<rect x="1941.20" y="572.20" width="1.50" height="11.60" fill="#99ba34"/>
<rect x="2209.00" y="572.20" width="2.00" height="11.60" fill="#99ba34"/>
<rect x="2222.80" y="572.20" width="1.80" height="11.60" fill="#99ba34"/>
<rect x="2288.00" y="572.20" width="1.30" height="11.60" fill="#99ba34"/>
<rect x="2304.90" y="572.20" width="1.80" height="11.60" fill="#99ba34"/>
<rect x="257.00" y="590.00" width="8.70" height="17.80" fill="#3557b0"/>
<rect x="265.20" y="590.00" width="1.00" height="17.80" fill="#8aa0c8"/>
<rect x="266.20" y="590.00" width="2055.80" height="17.80" fill="#6a9337"/>
<text transform="translate(1294.10,603.20) scale(0.81,1)" font-size="12" fill="#fff" text-anchor="middle" font-weight="700">MyApp:HeavyOperation</text>
<rect x="1387.90" y="614.00" width="18.10" height="11.60" fill="#2f7d32"/>
<text transform="translate(1396.95,623.10) scale(0.79,1)" font-size="10" fill="#fff" text-anchor="middle" font-weight="700">R<tspan letter-spacing="-0.07em">...</tspan></text>
<rect x="1390.00" y="632.00" width="14.90" height="18.00" fill="#f3a89b"/>
<text transform="translate(1397.40,645.50) scale(0.9,1)" font-size="12" fill="#1a1a1a" text-anchor="middle" font-weight="400" stroke="#1a1a1a" stroke-width="0.25">J</text>
<rect x="1390.00" y="650.00" width="5.20" height="17.90" fill="#e855c3"/>
<rect x="1395.20" y="650.00" width="9.70" height="17.90" fill="#3d5fd0"/>
<rect x="1393.00" y="668.40" width="2.10" height="17.40" fill="#f3b6f3"/>
<rect x="1395.70" y="668.40" width="9.20" height="17.40" fill="#f2a2c4"/>
<path d="M354.7,806.2 L354.7,791.8 L571.1,791.8 L573.1,790.9 L766.2,790.9 L768.2,790.0 L964.5,790.0 L966.5,789.1 L1247.3,789.1 L1249.3,788.2 L1450.3,788.2 L1452.3,787.3 L1596.6,787.3 L1598.6,786.2 L1827.5,786.2 L1829.5,785.1 L1985.5,785.1 L1987.5,783.9 L2127.8,783.9 L2129.8,782.8 L2321.8,782.8 L2321.8,806.2 Z" fill="#a5bfde"/>
<path d="M354.7,806.2 L354.7,791.8 L571.1,791.8 L573.1,790.9 L766.2,790.9 L768.2,790.0 L964.5,790.0 L966.5,789.1 L1247.3,789.1 L1249.3,788.2 L1450.3,788.2 L1452.3,787.3 L1596.6,787.3 L1598.6,786.2 L1827.5,786.2 L1829.5,785.1 L1985.5,785.1 L1987.5,783.9 L2127.8,783.9 L2129.8,782.8 L2321.8,782.8 " fill="none" stroke="#6c8fc2" stroke-width="1"/>
<line x1="354.70" y1="806.50" x2="2321.80" y2="806.50" stroke="#7f9fcb" stroke-width="1"/>
<line x1="2321.50" y1="777.00" x2="2321.50" y2="806.00" stroke="#6c8fc2" stroke-width="1"/>
<path d="M348.0,846.0 L348.0,843.2 L350.0,843.2 L352.0,841.4 L647.6,841.4 L649.6,840.5 L826.6,840.5 L828.6,839.7 L978.3,839.7 L980.3,838.3 L1158.7,838.3 L1160.7,837.0 L1339.3,837.0 L1341.3,836.1 L1484.3,836.1 L1486.3,835.0 L1632.0,835.0 L1634.0,833.8 L1766.2,833.8 L1768.2,832.7 L1897.3,832.7 L1899.3,831.8 L2019.5,831.8 L2021.5,830.9 L2151.0,830.9 L2153.0,829.8 L2292.0,829.8 L2294.0,828.7 L2322.0,828.7 L2322.0,846.0 Z" fill="#a4dca1"/>
<path d="M348.0,846.0 L348.0,843.2 L350.0,843.2 L352.0,841.4 L647.6,841.4 L649.6,840.5 L826.6,840.5 L828.6,839.7 L978.3,839.7 L980.3,838.3 L1158.7,838.3 L1160.7,837.0 L1339.3,837.0 L1341.3,836.1 L1484.3,836.1 L1486.3,835.0 L1632.0,835.0 L1634.0,833.8 L1766.2,833.8 L1768.2,832.7 L1897.3,832.7 L1899.3,831.8 L2019.5,831.8 L2021.5,830.9 L2151.0,830.9 L2153.0,829.8 L2292.0,829.8 L2294.0,828.7 L2322.0,828.7 " fill="none" stroke="#6fbf73" stroke-width="1"/>
<line x1="2321.50" y1="822.00" x2="2321.50" y2="844.00" stroke="#6fbf73" stroke-width="1"/>
<text transform="translate(262.50,778.50) scale(0.92,1)" font-size="9.5" fill="#444" text-anchor="start" font-weight="400" stroke="#444" stroke-width="0.25">85</text>
<text transform="translate(262.50,818.50) scale(0.92,1)" font-size="9.5" fill="#444" text-anchor="start" font-weight="400" stroke="#444" stroke-width="0.25">25K</text>
<rect x="7.00" y="65.00" width="2315.00" height="17.00" fill="url(#shadow)"/>
<rect x="7.00" y="0.00" width="2317.00" height="65.00" fill="#ffffff"/>
<rect x="0.00" y="0.00" width="2324.00" height="7.60" fill="#d3d3d3"/>
<rect x="0.00" y="0.00" width="263.00" height="7.60" fill="#d0d2cd"/>
<rect x="263.00" y="0.00" width="22.00" height="7.60" fill="#cdd1c9"/>
<rect x="2243.00" y="0.00" width="5.00" height="7.60" fill="#c7cfc4"/>
<rect x="2248.00" y="0.00" width="19.00" height="7.40" fill="#c9e8b6"/>
<rect x="2267.00" y="0.00" width="27.00" height="7.40" fill="#bae0a0"/>
<rect x="2294.00" y="0.00" width="30.00" height="7.60" fill="#c7cfc4"/>
<line x1="2247.50" y1="0.00" x2="2247.50" y2="7.80" stroke="#8c8c8c" stroke-width="1"/>
<line x1="2294.50" y1="0.00" x2="2294.50" y2="7.80" stroke="#8c8c8c" stroke-width="1"/>
<line x1="256.50" y1="7.80" x2="256.50" y2="65.00" stroke="#979797" stroke-width="1"/>
<line x1="276.50" y1="7.80" x2="276.50" y2="65.00" stroke="#979797" stroke-width="1"/>
<text transform="translate(281.20,17.70) scale(0.94,1)" font-size="10" fill="#8f8f8f" text-anchor="start" font-weight="400" stroke="#8f8f8f" stroke-width="0.25">23:22:45</text>
<text transform="translate(281.20,28.00) scale(0.9,1)" font-size="10" fill="#8f8f8f" text-anchor="start" font-weight="400" stroke="#8f8f8f" stroke-width="0.25">985 000 000</text>
<line x1="448.50" y1="7.80" x2="448.50" y2="65.00" stroke="#979797" stroke-width="1"/>
<text transform="translate(453.20,17.70) scale(0.94,1)" font-size="10" fill="#8f8f8f" text-anchor="start" font-weight="400" stroke="#8f8f8f" stroke-width="0.25">23:22:45</text>
<text transform="translate(453.20,28.00) scale(0.9,1)" font-size="10" fill="#8f8f8f" text-anchor="start" font-weight="400" stroke="#8f8f8f" stroke-width="0.25">990 000 000</text>
<line x1="620.50" y1="7.80" x2="620.50" y2="65.00" stroke="#979797" stroke-width="1"/>
<text transform="translate(625.20,17.70) scale(0.94,1)" font-size="10" fill="#8f8f8f" text-anchor="start" font-weight="400" stroke="#8f8f8f" stroke-width="0.25">23:22:45</text>
<text transform="translate(625.20,28.00) scale(0.9,1)" font-size="10" fill="#8f8f8f" text-anchor="start" font-weight="400" stroke="#8f8f8f" stroke-width="0.25">995 000 000</text>
<line x1="792.50" y1="7.80" x2="792.50" y2="65.00" stroke="#979797" stroke-width="1"/>
<text transform="translate(797.20,17.70) scale(0.94,1)" font-size="10" fill="#8f8f8f" text-anchor="start" font-weight="400" stroke="#8f8f8f" stroke-width="0.25">23:22:46</text>
<text transform="translate(797.20,28.00) scale(0.9,1)" font-size="10" fill="#8f8f8f" text-anchor="start" font-weight="400" stroke="#8f8f8f" stroke-width="0.25">000 000 000</text>
<line x1="964.50" y1="7.80" x2="964.50" y2="65.00" stroke="#979797" stroke-width="1"/>
<text transform="translate(969.20,17.70) scale(0.94,1)" font-size="10" fill="#8f8f8f" text-anchor="start" font-weight="400" stroke="#8f8f8f" stroke-width="0.25">23:22:46</text>
<text transform="translate(969.20,28.00) scale(0.9,1)" font-size="10" fill="#8f8f8f" text-anchor="start" font-weight="400" stroke="#8f8f8f" stroke-width="0.25">005 000 000</text>
<line x1="1137.50" y1="7.80" x2="1137.50" y2="65.00" stroke="#979797" stroke-width="1"/>
<text transform="translate(1142.20,17.70) scale(0.94,1)" font-size="10" fill="#8f8f8f" text-anchor="start" font-weight="400" stroke="#8f8f8f" stroke-width="0.25">23:22:46</text>
<text transform="translate(1142.20,28.00) scale(0.9,1)" font-size="10" fill="#8f8f8f" text-anchor="start" font-weight="400" stroke="#8f8f8f" stroke-width="0.25">010 000 000</text>
<line x1="1309.50" y1="7.80" x2="1309.50" y2="65.00" stroke="#979797" stroke-width="1"/>
<text transform="translate(1314.20,17.70) scale(0.94,1)" font-size="10" fill="#8f8f8f" text-anchor="start" font-weight="400" stroke="#8f8f8f" stroke-width="0.25">23:22:46</text>
<text transform="translate(1314.20,28.00) scale(0.9,1)" font-size="10" fill="#8f8f8f" text-anchor="start" font-weight="400" stroke="#8f8f8f" stroke-width="0.25">015 000 000</text>
<line x1="1481.50" y1="7.80" x2="1481.50" y2="65.00" stroke="#979797" stroke-width="1"/>
<text transform="translate(1486.20,17.70) scale(0.94,1)" font-size="10" fill="#8f8f8f" text-anchor="start" font-weight="400" stroke="#8f8f8f" stroke-width="0.25">23:22:46</text>
<text transform="translate(1486.20,28.00) scale(0.9,1)" font-size="10" fill="#8f8f8f" text-anchor="start" font-weight="400" stroke="#8f8f8f" stroke-width="0.25">020 000 000</text>
<line x1="1653.50" y1="7.80" x2="1653.50" y2="65.00" stroke="#979797" stroke-width="1"/>
<text transform="translate(1658.20,17.70) scale(0.94,1)" font-size="10" fill="#8f8f8f" text-anchor="start" font-weight="400" stroke="#8f8f8f" stroke-width="0.25">23:22:46</text>
<text transform="translate(1658.20,28.00) scale(0.9,1)" font-size="10" fill="#8f8f8f" text-anchor="start" font-weight="400" stroke="#8f8f8f" stroke-width="0.25">025 000 000</text>
<line x1="1825.50" y1="7.80" x2="1825.50" y2="65.00" stroke="#979797" stroke-width="1"/>
<text transform="translate(1830.20,17.70) scale(0.94,1)" font-size="10" fill="#8f8f8f" text-anchor="start" font-weight="400" stroke="#8f8f8f" stroke-width="0.25">23:22:46</text>
<text transform="translate(1830.20,28.00) scale(0.9,1)" font-size="10" fill="#8f8f8f" text-anchor="start" font-weight="400" stroke="#8f8f8f" stroke-width="0.25">030 000 000</text>
<line x1="1998.50" y1="7.80" x2="1998.50" y2="65.00" stroke="#979797" stroke-width="1"/>
<text transform="translate(2003.20,17.70) scale(0.94,1)" font-size="10" fill="#8f8f8f" text-anchor="start" font-weight="400" stroke="#8f8f8f" stroke-width="0.25">23:22:46</text>
<text transform="translate(2003.20,28.00) scale(0.9,1)" font-size="10" fill="#8f8f8f" text-anchor="start" font-weight="400" stroke="#8f8f8f" stroke-width="0.25">035 000 000</text>
<line x1="2170.50" y1="7.80" x2="2170.50" y2="65.00" stroke="#979797" stroke-width="1"/>
<text transform="translate(2175.20,17.70) scale(0.94,1)" font-size="10" fill="#8f8f8f" text-anchor="start" font-weight="400" stroke="#8f8f8f" stroke-width="0.25">23:22:46</text>
<text transform="translate(2175.20,28.00) scale(0.9,1)" font-size="10" fill="#8f8f8f" text-anchor="start" font-weight="400" stroke="#8f8f8f" stroke-width="0.25">040 000 000</text>
<text transform="translate(13.00,17.70) scale(0.925,1)" font-size="10" fill="#8f8f8f" text-anchor="start" font-weight="400" stroke="#8f8f8f" stroke-width="0.25">UTC 2025-04-16</text>
<path d="M15.4,48.1 L19,51.3 L22.6,48.1 M15.4,59.8 L19,56.6 L22.6,59.8" fill="none" stroke="#111" stroke-width="1.6"/>
<path d="M37.1,50.55 L48.5,50.55 M35.2,53.95 L46.9,53.95 M33.6,57.4 L45,57.4" fill="none" stroke="#111" stroke-width="1.5"/>
<path d="M57.3,47.9 L68.6,47.9 L62.95,55.0 Z" fill="none" stroke="#111" stroke-width="1.5" stroke-linejoin="miter"/>
<rect x="61.20" y="53.60" width="3.60" height="6.90" fill="#111"/>
<text transform="translate(79.80,59.60) scale(0.887,1)" font-size="19.5" fill="#111" text-anchor="start" font-weight="400" stroke="#111" stroke-width="0.35">Default Workspac</text>
<path d="M220,51.2 L224,55.4 L228,51.2" fill="none" stroke="#111" stroke-width="1.6"/>
<line x1="75.30" y1="66.50" x2="232.20" y2="66.50" stroke="#1d2430" stroke-width="1"/>
<circle cx="243.9" cy="49.3" r="1.3" fill="#111"/>
<circle cx="243.9" cy="54.2" r="1.3" fill="#111"/>
<circle cx="243.9" cy="59.1" r="1.3" fill="#111"/>
<text x="10.00" y="79.10" font-size="14" fill="#45566a" font-weight="400" textLength="31.6" lengthAdjust="spacingAndGlyphs" stroke="#45566a" stroke-width="0.25">Cpu 0</text>
<text x="10.00" y="109.10" font-size="14" fill="#45566a" font-weight="400" textLength="31.6" lengthAdjust="spacingAndGlyphs" stroke="#45566a" stroke-width="0.25">Cpu 1</text>
<text x="10.00" y="139.10" font-size="14" fill="#45566a" font-weight="400" textLength="31.6" lengthAdjust="spacingAndGlyphs" stroke="#45566a" stroke-width="0.25">Cpu 2</text>
<text x="10.00" y="169.10" font-size="14" fill="#45566a" font-weight="400" textLength="31.6" lengthAdjust="spacingAndGlyphs" stroke="#45566a" stroke-width="0.25">Cpu 3</text>
<text x="10.00" y="199.10" font-size="14" fill="#45566a" font-weight="400" textLength="31.6" lengthAdjust="spacingAndGlyphs" stroke="#45566a" stroke-width="0.25">Cpu 4</text>
<text x="10.00" y="229.10" font-size="14" fill="#45566a" font-weight="400" textLength="31.6" lengthAdjust="spacingAndGlyphs" stroke="#45566a" stroke-width="0.25">Cpu 5</text>
<text x="10.00" y="259.10" font-size="14" fill="#45566a" font-weight="400" textLength="31.6" lengthAdjust="spacingAndGlyphs" stroke="#45566a" stroke-width="0.25">Cpu 6</text>
<text x="10.00" y="289.10" font-size="14" fill="#45566a" font-weight="400" textLength="31.6" lengthAdjust="spacingAndGlyphs" stroke="#45566a" stroke-width="0.25">Cpu 7</text>
<path d="M12,313.0 l3,3 l3,-3" fill="none" stroke="#333" stroke-width="1.2"/>
<text x="21.60" y="319.10" font-size="14" fill="#45566a" font-weight="400" textLength="74.2" lengthAdjust="spacingAndGlyphs" stroke="#45566a" stroke-width="0.25">Ftrace Events</text>
<path d="M12,343.0 l3,3 l3,-3" fill="none" stroke="#333" stroke-width="1.2"/>
<text x="21.60" y="349.10" font-size="14" fill="#45566a" font-weight="400" textLength="41.0" lengthAdjust="spacingAndGlyphs" stroke="#45566a" stroke-width="0.25">System</text>
<path d="M11.7,376.3 l3,-3 l3,3" fill="none" stroke="#fff" stroke-width="1.2"/>
<text x="21.60" y="378.30" font-size="14" fill="#fff" font-weight="400" textLength="141.2" lengthAdjust="spacingAndGlyphs" stroke="#fff" stroke-width="0.1">Other-Processes 4194305</text>
<path d="M11.7,550.6999999999999 l3,-3 l3,3" fill="none" stroke="#fff" stroke-width="1.2"/>
<text x="21.40" y="552.40" font-size="14" fill="#fff" font-weight="400" textLength="213.8" lengthAdjust="spacingAndGlyphs" stroke="#fff" stroke-width="0.1">com.google.android.sampl<tspan letter-spacing="-0.07em">...</tspan>gle3 12787</text>
<text x="18.00" y="408.50" font-size="13.5" fill="#3f4f62" font-weight="400" textLength="123.0" lengthAdjust="spacingAndGlyphs" stroke="#3f4f62" stroke-width="0.25">cpu-4194306 4194306</text>
<text x="18.00" y="426.57" font-size="13.5" fill="#3f4f62" font-weight="400" textLength="123.0" lengthAdjust="spacingAndGlyphs" stroke="#3f4f62" stroke-width="0.25">cpu-4194307 4194307</text>
<text x="18.00" y="444.64" font-size="13.5" fill="#3f4f62" font-weight="400" textLength="123.0" lengthAdjust="spacingAndGlyphs" stroke="#3f4f62" stroke-width="0.25">cpu-4194308 4194308</text>
<text x="18.00" y="462.71" font-size="13.5" fill="#3f4f62" font-weight="400" textLength="123.0" lengthAdjust="spacingAndGlyphs" stroke="#3f4f62" stroke-width="0.25">cpu-4194309 4194309</text>
<text x="18.00" y="480.78" font-size="13.5" fill="#3f4f62" font-weight="400" textLength="123.0" lengthAdjust="spacingAndGlyphs" stroke="#3f4f62" stroke-width="0.25">cpu-4194310 4194310</text>
<text x="18.00" y="498.85" font-size="13.5" fill="#3f4f62" font-weight="400" textLength="123.0" lengthAdjust="spacingAndGlyphs" stroke="#3f4f62" stroke-width="0.25">cpu-4194311 4194311</text>
<text x="18.00" y="516.92" font-size="13.5" fill="#3f4f62" font-weight="400" textLength="123.0" lengthAdjust="spacingAndGlyphs" stroke="#3f4f62" stroke-width="0.25">cpu-4194312 4194312</text>
<text x="18.00" y="534.99" font-size="13.5" fill="#3f4f62" font-weight="400" textLength="123.0" lengthAdjust="spacingAndGlyphs" stroke="#3f4f62" stroke-width="0.25">cpu-4194313 4194313</text>
<text x="18.00" y="582.50" font-size="13.5" fill="#3f4f62" font-weight="400" textLength="123.0" lengthAdjust="spacingAndGlyphs" stroke="#3f4f62" stroke-width="0.25">es.hellogoogle3 12787</text>
<rect x="144" y="570.6" width="75" height="15" rx="7.5" fill="#fff" stroke="#8a8a8a" stroke-width="1"/>
<text x="149.00" y="582.50" font-size="13.5" fill="#3f4f62" font-weight="400" textLength="65.0" lengthAdjust="spacingAndGlyphs" stroke="#3f4f62" stroke-width="0.25">main thread</text>
<text x="18.00" y="600.30" font-size="13.5" fill="#3f4f62" font-weight="400" textLength="123.0" lengthAdjust="spacingAndGlyphs" stroke="#3f4f62" stroke-width="0.25">es.hellogoogle3 12787</text>
<rect x="144" y="588.5" width="75" height="15" rx="7.5" fill="#fff" stroke="#8a8a8a" stroke-width="1"/>
<text x="149.00" y="600.40" font-size="13.5" fill="#3f4f62" font-weight="400" textLength="65.0" lengthAdjust="spacingAndGlyphs" stroke="#3f4f62" stroke-width="0.25">main thread</text>
<text x="18.00" y="624.50" font-size="13.5" fill="#3f4f62" font-weight="400" textLength="116.6" lengthAdjust="spacingAndGlyphs" stroke="#3f4f62" stroke-width="0.25">Jit thread pool 12795</text>
<text x="18.00" y="642.40" font-size="13.5" fill="#3f4f62" font-weight="400" textLength="116.6" lengthAdjust="spacingAndGlyphs" stroke="#3f4f62" stroke-width="0.25">Jit thread pool 12795</text>
<text x="18.00" y="702.90" font-size="13.5" fill="#3f4f62" font-weight="400" textLength="136.6" lengthAdjust="spacingAndGlyphs" stroke="#3f4f62" stroke-width="0.25">HeapTaskDaemon 12796</text>
<text x="18.00" y="720.80" font-size="13.5" fill="#3f4f62" font-weight="400" textLength="124.4" lengthAdjust="spacingAndGlyphs" stroke="#3f4f62" stroke-width="0.25">FinalizerWatchd 12799</text>
<text x="18.00" y="738.80" font-size="13.5" fill="#3f4f62" font-weight="400" textLength="120.6" lengthAdjust="spacingAndGlyphs" stroke="#3f4f62" stroke-width="0.25">binder:12787_3 12802</text>
<text x="18.00" y="756.70" font-size="13.5" fill="#3f4f62" font-weight="400" textLength="120.6" lengthAdjust="spacingAndGlyphs" stroke="#3f4f62" stroke-width="0.25">binder:12787_3 12802</text>
<text x="18.00" y="780.60" font-size="13.5" fill="#3f4f62" font-weight="400" textLength="79.0" lengthAdjust="spacingAndGlyphs" stroke="#3f4f62" stroke-width="0.25">binder_proxies</text>
<text x="18.00" y="821.00" font-size="13.5" fill="#3f4f62" font-weight="400" textLength="80.4" lengthAdjust="spacingAndGlyphs" stroke="#3f4f62" stroke-width="0.25">Heap size (KB)</text>
<path d="M205,779.3 l4,-4.2 l2.6,2.6 l5,-5.6" fill="none" stroke="#222" stroke-width="1.4"/>
<path d="M205,819.6999999999999 l4,-4.2 l2.6,2.6 l5,-5.6" fill="none" stroke="#222" stroke-width="1.4"/>
<rect x="0.00" y="0.00" width="7.00" height="844.00" fill="#1a202c"/></svg></body></html>
